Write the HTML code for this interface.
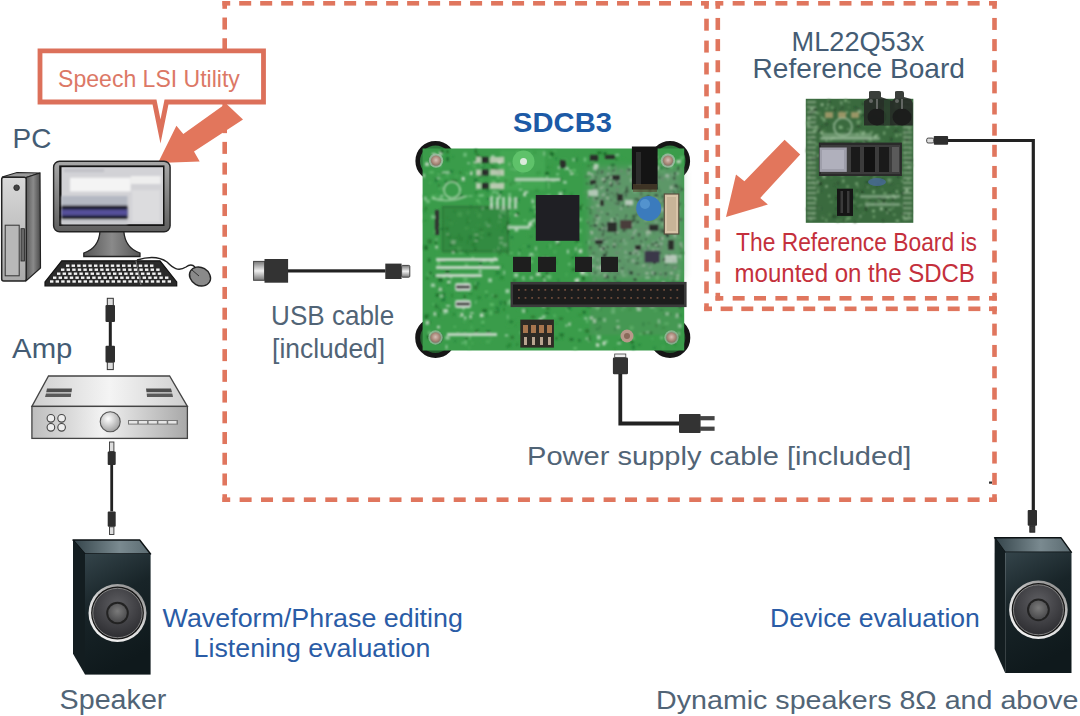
<!DOCTYPE html>
<html><head><meta charset="utf-8">
<style>
html,body{margin:0;padding:0;background:#fff;}
svg{display:block;}
text{font-family:"Liberation Sans",sans-serif;}
</style></head><body>
<svg width="1080" height="716" viewBox="0 0 1080 716">
<defs>
<linearGradient id="towerFront" x1="0" y1="0" x2="0" y2="1"><stop offset="0" stop-color="#d9d9d9"/><stop offset="1" stop-color="#a9a9a9"/></linearGradient>
<linearGradient id="towerSide" x1="0" y1="0" x2="1" y2="0"><stop offset="0" stop-color="#5a5a5a"/><stop offset="0.5" stop-color="#8a8a8a"/><stop offset="1" stop-color="#4a4a4a"/></linearGradient>
<linearGradient id="bezel" x1="0" y1="0" x2="0" y2="1"><stop offset="0" stop-color="#a8a8a8"/><stop offset="1" stop-color="#5e5e5e"/></linearGradient>
<linearGradient id="stand" x1="0" y1="0" x2="1" y2="0"><stop offset="0" stop-color="#555"/><stop offset="0.5" stop-color="#8a8a8a"/><stop offset="1" stop-color="#555"/></linearGradient>
<linearGradient id="ampTop" x1="0" y1="0" x2="1" y2="0"><stop offset="0" stop-color="#cfcfcf"/><stop offset="0.5" stop-color="#f4f4f4"/><stop offset="1" stop-color="#cfcfcf"/></linearGradient>
<linearGradient id="ampFront" x1="0" y1="0" x2="1" y2="0"><stop offset="0" stop-color="#bdbdbd"/><stop offset="0.45" stop-color="#f2f2f2"/><stop offset="1" stop-color="#a8a8a8"/></linearGradient>
<radialGradient id="knob" cx="0.4" cy="0.35" r="0.7"><stop offset="0" stop-color="#ffffff"/><stop offset="1" stop-color="#9a9a9a"/></radialGradient>
<linearGradient id="spkTop" x1="0" y1="0" x2="1" y2="0"><stop offset="0" stop-color="#34444a"/><stop offset="0.6" stop-color="#7a8a90"/><stop offset="1" stop-color="#5a6a70"/></linearGradient>
<linearGradient id="spkFront" x1="0" y1="0" x2="0.3" y2="1"><stop offset="0" stop-color="#34444a"/><stop offset="0.45" stop-color="#182428"/><stop offset="1" stop-color="#0f191c"/></linearGradient>
<linearGradient id="rim" x1="0.8" y1="0" x2="0.2" y2="1"><stop offset="0" stop-color="#8a8a8a"/><stop offset="0.5" stop-color="#d8d8d8"/><stop offset="1" stop-color="#f4f4f4"/></linearGradient>
<radialGradient id="cone" cx="0.5" cy="0.35" r="0.65"><stop offset="0" stop-color="#5e5e62"/><stop offset="1" stop-color="#2e2e32"/></radialGradient>
<radialGradient id="cap" cx="0.5" cy="0.4" r="0.6"><stop offset="0" stop-color="#7a7a7a"/><stop offset="1" stop-color="#4a4a4c"/></radialGradient>
<linearGradient id="plugMetal" x1="0" y1="0" x2="0" y2="1"><stop offset="0" stop-color="#777"/><stop offset="0.5" stop-color="#f0f0f0"/><stop offset="1" stop-color="#777"/></linearGradient>
<filter id="soft" x="-5%" y="-5%" width="110%" height="110%"><feGaussianBlur stdDeviation="1.0"/></filter>
<radialGradient id="screw" cx="0.5" cy="0.45" r="0.6"><stop offset="0" stop-color="#d8c0b8"/><stop offset="0.6" stop-color="#a88878"/><stop offset="1" stop-color="#7a6a60"/></radialGradient>
<filter id="big" x="-20%" y="-20%" width="140%" height="140%"><feGaussianBlur stdDeviation="4"/></filter>
<linearGradient id="pcbG" x1="0" y1="0" x2="1" y2="1"><stop offset="0" stop-color="#4f9a55"/><stop offset="1" stop-color="#3c8a44"/></linearGradient>
</defs>

<!-- dashed boxes -->
<g fill="#e0765e">
<rect x="239.19" y="1.00" width="12.0" height="4.6"/>
<rect x="260.18" y="1.00" width="12.0" height="4.6"/>
<rect x="281.17" y="1.00" width="12.0" height="4.6"/>
<rect x="302.17" y="1.00" width="12.0" height="4.6"/>
<rect x="323.16" y="1.00" width="12.0" height="4.6"/>
<rect x="344.15" y="1.00" width="12.0" height="4.6"/>
<rect x="365.14" y="1.00" width="12.0" height="4.6"/>
<rect x="386.13" y="1.00" width="12.0" height="4.6"/>
<rect x="407.12" y="1.00" width="12.0" height="4.6"/>
<rect x="428.11" y="1.00" width="12.0" height="4.6"/>
<rect x="449.10" y="1.00" width="12.0" height="4.6"/>
<rect x="470.10" y="1.00" width="12.0" height="4.6"/>
<rect x="491.09" y="1.00" width="12.0" height="4.6"/>
<rect x="512.08" y="1.00" width="12.0" height="4.6"/>
<rect x="533.07" y="1.00" width="12.0" height="4.6"/>
<rect x="554.06" y="1.00" width="12.0" height="4.6"/>
<rect x="575.05" y="1.00" width="12.0" height="4.6"/>
<rect x="596.04" y="1.00" width="12.0" height="4.6"/>
<rect x="617.03" y="1.00" width="12.0" height="4.6"/>
<rect x="638.03" y="1.00" width="12.0" height="4.6"/>
<rect x="659.02" y="1.00" width="12.0" height="4.6"/>
<rect x="680.01" y="1.00" width="12.0" height="4.6"/>
<rect x="222.40" y="1.00" width="7.80" height="4.6"/>
<rect x="701.00" y="1.00" width="7.80" height="4.6"/>
<rect x="704.20" y="18.69" width="4.6" height="12.0"/>
<rect x="704.20" y="40.59" width="4.6" height="12.0"/>
<rect x="704.20" y="62.48" width="4.6" height="12.0"/>
<rect x="704.20" y="84.37" width="4.6" height="12.0"/>
<rect x="704.20" y="106.26" width="4.6" height="12.0"/>
<rect x="704.20" y="128.16" width="4.6" height="12.0"/>
<rect x="704.20" y="150.05" width="4.6" height="12.0"/>
<rect x="704.20" y="171.94" width="4.6" height="12.0"/>
<rect x="704.20" y="193.84" width="4.6" height="12.0"/>
<rect x="704.20" y="215.73" width="4.6" height="12.0"/>
<rect x="704.20" y="237.62" width="4.6" height="12.0"/>
<rect x="704.20" y="259.51" width="4.6" height="12.0"/>
<rect x="704.20" y="281.41" width="4.6" height="12.0"/>
<rect x="704.20" y="1.00" width="4.6" height="7.80"/>
<rect x="704.20" y="303.30" width="4.6" height="7.80"/>
<rect x="720.64" y="306.50" width="12.0" height="4.6"/>
<rect x="741.29" y="306.50" width="12.0" height="4.6"/>
<rect x="761.93" y="306.50" width="12.0" height="4.6"/>
<rect x="782.57" y="306.50" width="12.0" height="4.6"/>
<rect x="803.21" y="306.50" width="12.0" height="4.6"/>
<rect x="823.86" y="306.50" width="12.0" height="4.6"/>
<rect x="844.50" y="306.50" width="12.0" height="4.6"/>
<rect x="865.14" y="306.50" width="12.0" height="4.6"/>
<rect x="885.79" y="306.50" width="12.0" height="4.6"/>
<rect x="906.43" y="306.50" width="12.0" height="4.6"/>
<rect x="927.07" y="306.50" width="12.0" height="4.6"/>
<rect x="947.71" y="306.50" width="12.0" height="4.6"/>
<rect x="968.36" y="306.50" width="12.0" height="4.6"/>
<rect x="704.20" y="306.50" width="7.80" height="4.6"/>
<rect x="989.00" y="306.50" width="7.80" height="4.6"/>
<rect x="992.20" y="323.62" width="4.6" height="12.0"/>
<rect x="992.20" y="344.94" width="4.6" height="12.0"/>
<rect x="992.20" y="366.27" width="4.6" height="12.0"/>
<rect x="992.20" y="387.59" width="4.6" height="12.0"/>
<rect x="992.20" y="408.91" width="4.6" height="12.0"/>
<rect x="992.20" y="430.23" width="4.6" height="12.0"/>
<rect x="992.20" y="451.56" width="4.6" height="12.0"/>
<rect x="992.20" y="472.88" width="4.6" height="12.0"/>
<rect x="992.20" y="306.50" width="4.6" height="7.80"/>
<rect x="992.20" y="494.20" width="4.6" height="7.80"/>
<rect x="239.61" y="497.40" width="12.0" height="4.6"/>
<rect x="261.02" y="497.40" width="12.0" height="4.6"/>
<rect x="282.43" y="497.40" width="12.0" height="4.6"/>
<rect x="303.84" y="497.40" width="12.0" height="4.6"/>
<rect x="325.26" y="497.40" width="12.0" height="4.6"/>
<rect x="346.67" y="497.40" width="12.0" height="4.6"/>
<rect x="368.08" y="497.40" width="12.0" height="4.6"/>
<rect x="389.49" y="497.40" width="12.0" height="4.6"/>
<rect x="410.90" y="497.40" width="12.0" height="4.6"/>
<rect x="432.31" y="497.40" width="12.0" height="4.6"/>
<rect x="453.72" y="497.40" width="12.0" height="4.6"/>
<rect x="475.13" y="497.40" width="12.0" height="4.6"/>
<rect x="496.54" y="497.40" width="12.0" height="4.6"/>
<rect x="517.96" y="497.40" width="12.0" height="4.6"/>
<rect x="539.37" y="497.40" width="12.0" height="4.6"/>
<rect x="560.78" y="497.40" width="12.0" height="4.6"/>
<rect x="582.19" y="497.40" width="12.0" height="4.6"/>
<rect x="603.60" y="497.40" width="12.0" height="4.6"/>
<rect x="625.01" y="497.40" width="12.0" height="4.6"/>
<rect x="646.42" y="497.40" width="12.0" height="4.6"/>
<rect x="667.83" y="497.40" width="12.0" height="4.6"/>
<rect x="689.24" y="497.40" width="12.0" height="4.6"/>
<rect x="710.66" y="497.40" width="12.0" height="4.6"/>
<rect x="732.07" y="497.40" width="12.0" height="4.6"/>
<rect x="753.48" y="497.40" width="12.0" height="4.6"/>
<rect x="774.89" y="497.40" width="12.0" height="4.6"/>
<rect x="796.30" y="497.40" width="12.0" height="4.6"/>
<rect x="817.71" y="497.40" width="12.0" height="4.6"/>
<rect x="839.12" y="497.40" width="12.0" height="4.6"/>
<rect x="860.53" y="497.40" width="12.0" height="4.6"/>
<rect x="881.94" y="497.40" width="12.0" height="4.6"/>
<rect x="903.36" y="497.40" width="12.0" height="4.6"/>
<rect x="924.77" y="497.40" width="12.0" height="4.6"/>
<rect x="946.18" y="497.40" width="12.0" height="4.6"/>
<rect x="967.59" y="497.40" width="12.0" height="4.6"/>
<rect x="222.40" y="497.40" width="7.80" height="4.6"/>
<rect x="989.00" y="497.40" width="7.80" height="4.6"/>
<rect x="222.40" y="17.52" width="4.6" height="12.0"/>
<rect x="222.40" y="38.25" width="4.6" height="12.0"/>
<rect x="222.40" y="58.98" width="4.6" height="12.0"/>
<rect x="222.40" y="79.70" width="4.6" height="12.0"/>
<rect x="222.40" y="100.43" width="4.6" height="12.0"/>
<rect x="222.40" y="121.15" width="4.6" height="12.0"/>
<rect x="222.40" y="141.88" width="4.6" height="12.0"/>
<rect x="222.40" y="162.60" width="4.6" height="12.0"/>
<rect x="222.40" y="183.32" width="4.6" height="12.0"/>
<rect x="222.40" y="204.05" width="4.6" height="12.0"/>
<rect x="222.40" y="224.77" width="4.6" height="12.0"/>
<rect x="222.40" y="245.50" width="4.6" height="12.0"/>
<rect x="222.40" y="266.22" width="4.6" height="12.0"/>
<rect x="222.40" y="286.95" width="4.6" height="12.0"/>
<rect x="222.40" y="307.68" width="4.6" height="12.0"/>
<rect x="222.40" y="328.40" width="4.6" height="12.0"/>
<rect x="222.40" y="349.13" width="4.6" height="12.0"/>
<rect x="222.40" y="369.85" width="4.6" height="12.0"/>
<rect x="222.40" y="390.58" width="4.6" height="12.0"/>
<rect x="222.40" y="411.30" width="4.6" height="12.0"/>
<rect x="222.40" y="432.03" width="4.6" height="12.0"/>
<rect x="222.40" y="452.75" width="4.6" height="12.0"/>
<rect x="222.40" y="473.48" width="4.6" height="12.0"/>
<rect x="222.40" y="1.00" width="4.6" height="7.80"/>
<rect x="222.40" y="494.20" width="4.6" height="7.80"/>
<rect x="732.66" y="1.00" width="12.0" height="4.6"/>
<rect x="754.02" y="1.00" width="12.0" height="4.6"/>
<rect x="775.38" y="1.00" width="12.0" height="4.6"/>
<rect x="796.75" y="1.00" width="12.0" height="4.6"/>
<rect x="818.11" y="1.00" width="12.0" height="4.6"/>
<rect x="839.47" y="1.00" width="12.0" height="4.6"/>
<rect x="860.83" y="1.00" width="12.0" height="4.6"/>
<rect x="882.19" y="1.00" width="12.0" height="4.6"/>
<rect x="903.55" y="1.00" width="12.0" height="4.6"/>
<rect x="924.92" y="1.00" width="12.0" height="4.6"/>
<rect x="946.28" y="1.00" width="12.0" height="4.6"/>
<rect x="967.64" y="1.00" width="12.0" height="4.6"/>
<rect x="715.50" y="1.00" width="7.80" height="4.6"/>
<rect x="989.00" y="1.00" width="7.80" height="4.6"/>
<rect x="992.20" y="17.94" width="4.6" height="12.0"/>
<rect x="992.20" y="39.09" width="4.6" height="12.0"/>
<rect x="992.20" y="60.23" width="4.6" height="12.0"/>
<rect x="992.20" y="81.37" width="4.6" height="12.0"/>
<rect x="992.20" y="102.51" width="4.6" height="12.0"/>
<rect x="992.20" y="123.66" width="4.6" height="12.0"/>
<rect x="992.20" y="144.80" width="4.6" height="12.0"/>
<rect x="992.20" y="165.94" width="4.6" height="12.0"/>
<rect x="992.20" y="187.09" width="4.6" height="12.0"/>
<rect x="992.20" y="208.23" width="4.6" height="12.0"/>
<rect x="992.20" y="229.37" width="4.6" height="12.0"/>
<rect x="992.20" y="250.51" width="4.6" height="12.0"/>
<rect x="992.20" y="271.66" width="4.6" height="12.0"/>
<rect x="992.20" y="1.00" width="4.6" height="7.80"/>
<rect x="992.20" y="292.80" width="4.6" height="7.80"/>
<rect x="732.66" y="296.00" width="12.0" height="4.6"/>
<rect x="754.02" y="296.00" width="12.0" height="4.6"/>
<rect x="775.38" y="296.00" width="12.0" height="4.6"/>
<rect x="796.75" y="296.00" width="12.0" height="4.6"/>
<rect x="818.11" y="296.00" width="12.0" height="4.6"/>
<rect x="839.47" y="296.00" width="12.0" height="4.6"/>
<rect x="860.83" y="296.00" width="12.0" height="4.6"/>
<rect x="882.19" y="296.00" width="12.0" height="4.6"/>
<rect x="903.55" y="296.00" width="12.0" height="4.6"/>
<rect x="924.92" y="296.00" width="12.0" height="4.6"/>
<rect x="946.28" y="296.00" width="12.0" height="4.6"/>
<rect x="967.64" y="296.00" width="12.0" height="4.6"/>
<rect x="715.50" y="296.00" width="7.80" height="4.6"/>
<rect x="989.00" y="296.00" width="7.80" height="4.6"/>
<rect x="715.50" y="17.94" width="4.6" height="12.0"/>
<rect x="715.50" y="39.09" width="4.6" height="12.0"/>
<rect x="715.50" y="60.23" width="4.6" height="12.0"/>
<rect x="715.50" y="81.37" width="4.6" height="12.0"/>
<rect x="715.50" y="102.51" width="4.6" height="12.0"/>
<rect x="715.50" y="123.66" width="4.6" height="12.0"/>
<rect x="715.50" y="144.80" width="4.6" height="12.0"/>
<rect x="715.50" y="165.94" width="4.6" height="12.0"/>
<rect x="715.50" y="187.09" width="4.6" height="12.0"/>
<rect x="715.50" y="208.23" width="4.6" height="12.0"/>
<rect x="715.50" y="229.37" width="4.6" height="12.0"/>
<rect x="715.50" y="250.51" width="4.6" height="12.0"/>
<rect x="715.50" y="271.66" width="4.6" height="12.0"/>
<rect x="715.50" y="1.00" width="4.6" height="7.80"/>
<rect x="715.50" y="292.80" width="4.6" height="7.80"/>
</g>

<rect x="989" y="481.5" width="3" height="2.2" fill="#333"/>
<!-- callout -->
<path d="M40,50.9 H263.5 V102 H166.5 L160.5,131.5 L154.5,102 H40 Z" fill="#fff" stroke="#dc705a" stroke-width="4.8" stroke-linejoin="miter" stroke-miterlimit="10"/>
<!-- arrow left -->
<polygon points="158,163 176.4,125.8 183.3,134 226,103.5 243,119.5 194,151.6 199.7,161.6" fill="#e2765c"/>

<!-- labels -->

<!-- PC tower -->
<g>
<path d="M2,177 L17,172.5 L40,173 L26,177.5 Z" fill="#9a9a9a" stroke="#222" stroke-width="1.2"/>
<path d="M26,177.5 L40,173 L40.5,268 L26,281 Z" fill="url(#towerSide)" stroke="#222" stroke-width="1.2"/>
<rect x="1.7" y="177.2" width="24.5" height="103.8" rx="2" fill="url(#towerFront)" stroke="#222" stroke-width="1.5"/>
<circle cx="16.6" cy="187.7" r="2.8" fill="#444" stroke="#222" stroke-width="0.8"/>
<rect x="5.2" y="225.2" width="14" height="50.6" fill="#b8b8b8" stroke="#333" stroke-width="1"/>
<rect x="21" y="228.7" width="3.4" height="32.3" fill="#666" stroke="#222" stroke-width="0.8"/>
</g>

<!-- monitor -->
<g>
<path d="M100,231 L123.8,231 Q125,248 140,253 L140,256.5 L83.8,256.5 L83.8,253 Q99,248 100,231 Z" fill="url(#stand)" stroke="#222" stroke-width="1.3"/>
<rect x="53.6" y="161.3" width="116.5" height="70.5" rx="6" fill="url(#bezel)" stroke="#222" stroke-width="1.4"/>
<rect x="59.2" y="165.4" width="105.3" height="60.6" fill="#141414"/>
<rect x="61.5" y="167.2" width="101.5" height="57" fill="#d2d2d6"/>
<g filter="url(#soft)">
<rect x="64" y="169" width="40" height="3" fill="#bfc0c6"/>
<rect x="70" y="177.7" width="60.7" height="13.8" fill="#f4f4f4"/>
<rect x="130.7" y="176" width="30" height="8" fill="#eeeeee"/>
<rect x="132" y="190" width="28" height="32" fill="#dcdcde"/>
<rect x="61.5" y="196" width="66" height="10" fill="#b4b8c2"/>
<rect x="61.5" y="205.5" width="66" height="14" fill="#1e1e2c"/>
<rect x="61.5" y="209.5" width="66" height="6" fill="#54509a"/>
<rect x="61.5" y="219.5" width="66" height="4.7" fill="#c8c9ce"/>
</g>
</g>

<!-- keyboard -->
<g>
<path d="M61.7,260.8 L160,260.8 L176.7,282 L176.7,285.8 L45,285.8 L45,282 Z" fill="#2a2a2a" stroke="#111" stroke-width="1.2"/>
<g fill="#f2f2f2">
<rect x="66.0" y="264.5" width="3.4" height="2.4"/>
<rect x="71.6" y="264.5" width="3.4" height="2.4"/>
<rect x="77.2" y="264.5" width="3.4" height="2.4"/>
<rect x="82.8" y="264.5" width="3.4" height="2.4"/>
<rect x="88.4" y="264.5" width="3.4" height="2.4"/>
<rect x="94.0" y="264.5" width="3.4" height="2.4"/>
<rect x="99.6" y="264.5" width="3.4" height="2.4"/>
<rect x="105.2" y="264.5" width="3.4" height="2.4"/>
<rect x="110.8" y="264.5" width="3.4" height="2.4"/>
<rect x="116.4" y="264.5" width="3.4" height="2.4"/>
<rect x="122.0" y="264.5" width="3.4" height="2.4"/>
<rect x="127.6" y="264.5" width="3.4" height="2.4"/>
<rect x="133.2" y="264.5" width="3.4" height="2.4"/>
<rect x="138.8" y="264.5" width="3.4" height="2.4"/>
<rect x="144.4" y="264.5" width="3.4" height="2.4"/>
<rect x="150.0" y="264.5" width="3.4" height="2.4"/>
<rect x="61.0" y="268.5" width="3.4" height="2.4"/>
<rect x="66.6" y="268.5" width="3.4" height="2.4"/>
<rect x="72.2" y="268.5" width="3.4" height="2.4"/>
<rect x="77.8" y="268.5" width="3.4" height="2.4"/>
<rect x="83.4" y="268.5" width="3.4" height="2.4"/>
<rect x="89.0" y="268.5" width="3.4" height="2.4"/>
<rect x="94.6" y="268.5" width="3.4" height="2.4"/>
<rect x="100.2" y="268.5" width="3.4" height="2.4"/>
<rect x="105.8" y="268.5" width="3.4" height="2.4"/>
<rect x="111.4" y="268.5" width="3.4" height="2.4"/>
<rect x="117.0" y="268.5" width="3.4" height="2.4"/>
<rect x="122.6" y="268.5" width="3.4" height="2.4"/>
<rect x="128.2" y="268.5" width="3.4" height="2.4"/>
<rect x="133.8" y="268.5" width="3.4" height="2.4"/>
<rect x="139.4" y="268.5" width="3.4" height="2.4"/>
<rect x="145.0" y="268.5" width="3.4" height="2.4"/>
<rect x="150.6" y="268.5" width="3.4" height="2.4"/>
<rect x="156.2" y="268.5" width="3.4" height="2.4"/>
<rect x="57.0" y="272.5" width="3.4" height="2.4"/>
<rect x="62.6" y="272.5" width="3.4" height="2.4"/>
<rect x="68.2" y="272.5" width="3.4" height="2.4"/>
<rect x="73.8" y="272.5" width="3.4" height="2.4"/>
<rect x="79.4" y="272.5" width="3.4" height="2.4"/>
<rect x="85.0" y="272.5" width="3.4" height="2.4"/>
<rect x="90.6" y="272.5" width="3.4" height="2.4"/>
<rect x="96.2" y="272.5" width="3.4" height="2.4"/>
<rect x="101.8" y="272.5" width="3.4" height="2.4"/>
<rect x="107.4" y="272.5" width="3.4" height="2.4"/>
<rect x="113.0" y="272.5" width="3.4" height="2.4"/>
<rect x="118.6" y="272.5" width="3.4" height="2.4"/>
<rect x="124.2" y="272.5" width="3.4" height="2.4"/>
<rect x="129.8" y="272.5" width="3.4" height="2.4"/>
<rect x="135.4" y="272.5" width="3.4" height="2.4"/>
<rect x="141.0" y="272.5" width="3.4" height="2.4"/>
<rect x="146.6" y="272.5" width="3.4" height="2.4"/>
<rect x="152.2" y="272.5" width="3.4" height="2.4"/>
<rect x="157.8" y="272.5" width="3.4" height="2.4"/>
<rect x="53.0" y="276.5" width="3.4" height="2.4"/>
<rect x="58.6" y="276.5" width="3.4" height="2.4"/>
<rect x="64.2" y="276.5" width="3.4" height="2.4"/>
<rect x="69.8" y="276.5" width="3.4" height="2.4"/>
<rect x="75.4" y="276.5" width="3.4" height="2.4"/>
<rect x="81.0" y="276.5" width="3.4" height="2.4"/>
<rect x="86.6" y="276.5" width="3.4" height="2.4"/>
<rect x="92.2" y="276.5" width="3.4" height="2.4"/>
<rect x="97.8" y="276.5" width="3.4" height="2.4"/>
<rect x="103.4" y="276.5" width="3.4" height="2.4"/>
<rect x="109.0" y="276.5" width="3.4" height="2.4"/>
<rect x="114.6" y="276.5" width="3.4" height="2.4"/>
<rect x="120.2" y="276.5" width="3.4" height="2.4"/>
<rect x="125.8" y="276.5" width="3.4" height="2.4"/>
<rect x="131.4" y="276.5" width="3.4" height="2.4"/>
<rect x="137.0" y="276.5" width="3.4" height="2.4"/>
<rect x="142.6" y="276.5" width="3.4" height="2.4"/>
<rect x="148.2" y="276.5" width="3.4" height="2.4"/>
<rect x="153.8" y="276.5" width="3.4" height="2.4"/>
<rect x="159.4" y="276.5" width="3.4" height="2.4"/>
<rect x="165.0" y="276.5" width="3.4" height="2.4"/>
<rect x="50.0" y="280.3" width="3.4" height="2.4"/>
<rect x="55.6" y="280.3" width="3.4" height="2.4"/>
<rect x="61.2" y="280.3" width="3.4" height="2.4"/>
<rect x="66.8" y="280.3" width="3.4" height="2.4"/>
<rect x="72.4" y="280.3" width="3.4" height="2.4"/>
<rect x="78.0" y="280.3" width="3.4" height="2.4"/>
<rect x="83.6" y="280.3" width="3.4" height="2.4"/>
<rect x="89.2" y="280.3" width="3.4" height="2.4"/>
<rect x="94.8" y="280.3" width="3.4" height="2.4"/>
<rect x="100.4" y="280.3" width="3.4" height="2.4"/>
<rect x="106.0" y="280.3" width="3.4" height="2.4"/>
<rect x="111.6" y="280.3" width="3.4" height="2.4"/>
<rect x="117.2" y="280.3" width="3.4" height="2.4"/>
<rect x="122.8" y="280.3" width="3.4" height="2.4"/>
<rect x="128.4" y="280.3" width="3.4" height="2.4"/>
<rect x="134.0" y="280.3" width="3.4" height="2.4"/>
<rect x="139.6" y="280.3" width="3.4" height="2.4"/>
<rect x="145.2" y="280.3" width="3.4" height="2.4"/>
<rect x="150.8" y="280.3" width="3.4" height="2.4"/>
<rect x="156.4" y="280.3" width="3.4" height="2.4"/>
<rect x="162.0" y="280.3" width="3.4" height="2.4"/>
<rect x="167.6" y="280.3" width="3.4" height="2.4"/>
</g>
<line x1="136" y1="261" x2="141" y2="285" stroke="#777" stroke-width="1"/>
<path d="M137,260 C150,256 160,257 167,262 C173,268 178,272 186,267 C190,264 193,265 195,267" fill="none" stroke="#222" stroke-width="1.4"/>
<ellipse cx="200" cy="276.5" rx="11" ry="9" transform="rotate(30 200 276.5)" fill="#8a8a8a" stroke="#222" stroke-width="1.4"/>
<path d="M192,270 L199,276" stroke="#333" stroke-width="1"/>
</g>

<!-- audio cable PC->Amp -->
<g>
<rect x="107.3" y="298.3" width="6" height="7.5" fill="#ddd" stroke="#333" stroke-width="1"/>
<rect x="105.5" y="305" width="9.5" height="17" rx="1" fill="#2e2e2e"/>
<rect x="108.8" y="322" width="3" height="24" fill="#222"/>
<rect x="105.5" y="345.8" width="9.5" height="16.6" rx="1" fill="#2e2e2e"/>
<rect x="107.3" y="362.2" width="6" height="7.4" fill="#ddd" stroke="#333" stroke-width="1"/>
</g>

<!-- amp -->
<g>
<path d="M48.5,376 L169.6,376 L187.4,406.4 L31.9,406.4 Z" fill="url(#ampTop)" stroke="#444" stroke-width="1.3"/>
<rect x="31.9" y="406.4" width="155.5" height="32" fill="url(#ampFront)" stroke="#444" stroke-width="1.3"/>
<path d="M47,388.6 L72,388.6 L71.5,392.2 L46.2,392.2 Z" fill="#4e4e4e"/>
<path d="M46,393.4 L71.2,393.4 L70.8,397 L45,397 Z" fill="#5a5a5a"/>
<path d="M146,388.6 L171,388.6 L172,392.2 L146.5,392.2 Z" fill="#4e4e4e"/>
<path d="M146.7,393.4 L172.3,393.4 L173,397 L147,397 Z" fill="#5a5a5a"/>
<g fill="#eee" stroke="#444" stroke-width="1.1">
<circle cx="50.9" cy="418.3" r="3.8"/><circle cx="61.6" cy="418.3" r="3.8"/>
<circle cx="50.9" cy="427.3" r="3.8"/><circle cx="61.6" cy="427.3" r="3.8"/>
</g>
<circle cx="110.2" cy="421.8" r="10" fill="url(#knob)" stroke="#555" stroke-width="1.1"/>
<rect x="128" y="420" width="50" height="4.6" fill="#777"/><rect x="129.0" y="421" width="8.3" height="2.6" fill="#e6e6e6"/><rect x="138.8" y="421" width="8.3" height="2.6" fill="#e6e6e6"/><rect x="148.6" y="421" width="8.3" height="2.6" fill="#e6e6e6"/><rect x="158.4" y="421" width="8.3" height="2.6" fill="#e6e6e6"/><rect x="168.2" y="421" width="8.3" height="2.6" fill="#e6e6e6"/>
</g>

<!-- cable amp->speaker -->
<g>
<rect x="109.5" y="442" width="4.4" height="9.6" fill="#ddd" stroke="#333" stroke-width="0.9"/>
<rect x="107.7" y="451.6" width="8" height="13.4" rx="1" fill="#2e2e2e"/>
<rect x="110.3" y="465" width="2.8" height="46.4" fill="#222"/>
<rect x="107.7" y="511.4" width="8" height="15.4" rx="1" fill="#2e2e2e"/>
<rect x="109.5" y="526.8" width="4.4" height="7.7" fill="#ddd" stroke="#333" stroke-width="0.9"/>
</g>

<!-- speaker left -->
<g>
<path d="M73,540 L139.7,540 L150.6,554 L85,554 Z" fill="url(#spkTop)" stroke="#0c1214" stroke-width="1.4" stroke-linejoin="round"/>
<path d="M73,540 L85,554 L85,674.6 L73,653.7 Z" fill="#131d20"/>
<rect x="85" y="554" width="65.6" height="120.6" fill="url(#spkFront)"/>
<circle cx="117.5" cy="613" r="29" fill="url(#rim)"/>
<circle cx="117.5" cy="613" r="26.4" fill="#161616"/>
<circle cx="117.5" cy="613" r="24.7" fill="url(#cone)" stroke="#8a8a8a" stroke-width="0.9"/>
<circle cx="117.5" cy="613" r="11.3" fill="#222"/>
<circle cx="117.5" cy="613" r="9.3" fill="url(#cap)"/>
</g>

<!-- speaker right -->
<g>
<path d="M994.6,537.7 L1060.9,537.7 L1071.5,552.3 L1005.2,552.3 Z" fill="url(#spkTop)" stroke="#0c1214" stroke-width="1.4" stroke-linejoin="round"/>
<path d="M994.6,537.7 L1005.2,552.3 L1005.2,673 L994.6,649 Z" fill="#131d20"/>
<rect x="1005.2" y="552.3" width="66.3" height="120.7" fill="url(#spkFront)"/>
<circle cx="1038.4" cy="609.8" r="29.3" fill="url(#rim)"/>
<circle cx="1038.4" cy="609.8" r="26.7" fill="#161616"/>
<circle cx="1038.4" cy="609.8" r="25.0" fill="url(#cone)" stroke="#8a8a8a" stroke-width="0.9"/>
<circle cx="1038.4" cy="609.8" r="11.4" fill="#222"/>
<circle cx="1038.4" cy="609.8" r="9.4" fill="url(#cap)"/>
</g>

<!-- right cable -->
<g>
<path d="M948,140.5 H1033.3 V510" fill="none" stroke="#222" stroke-width="3.2"/>
<rect x="933.7" y="135.9" width="14.4" height="8.9" rx="1" fill="#2e2e2e"/>
<rect x="926.7" y="138.1" width="7" height="4.9" rx="1.5" fill="#ddd" stroke="#333" stroke-width="0.9"/>
<rect x="1027.7" y="510" width="9.3" height="15.8" rx="1" fill="#2e2e2e"/>
<rect x="1029.8" y="525.8" width="5" height="6.4" fill="#3a3a3a" stroke="#222" stroke-width="0.9"/>
</g>

<!-- USB cable -->
<g>
<rect x="253.6" y="261.4" width="11" height="18.9" fill="url(#plugMetal)" stroke="#444" stroke-width="1"/>
<rect x="264.5" y="259" width="23.6" height="23.7" fill="#333"/>
<rect x="288" y="269.3" width="97.5" height="3.2" fill="#222"/>
<rect x="385.3" y="263.6" width="16.3" height="15.4" fill="#333"/>
<rect x="401.6" y="265.4" width="8.2" height="11.8" rx="1" fill="url(#plugMetal)" stroke="#444" stroke-width="1"/>
</g>

<!-- SDCB3 label -->

<!-- SDCB3 board -->
<g>
<circle cx="435.5" cy="161" r="17.8" fill="#2e7a3c" stroke="#161616" stroke-width="4.6"/>
<circle cx="670" cy="161" r="17.8" fill="#2e7a3c" stroke="#161616" stroke-width="4.6"/>
<circle cx="435.5" cy="337.7" r="17.8" fill="#245e2e" stroke="#161616" stroke-width="5"/>
<circle cx="670" cy="337.7" r="17.8" fill="#245e2e" stroke="#161616" stroke-width="5"/>
<rect x="422.6" y="148.5" width="261.6" height="202" fill="#3a9c4a"/>
<g filter="url(#soft)">
<rect x="591.4" y="163.4" width="2.3" height="1.7" fill="#2a7a34"/>
<rect x="659.1" y="191.5" width="1.5" height="3.1" fill="#2a8c3a"/>
<rect x="446.4" y="233.7" width="2.6" height="1.4" fill="#c0d8c0"/>
<rect x="585.8" y="337.7" width="1.6" height="1.9" fill="#c0d8c0"/>
<rect x="480.0" y="260.1" width="3.1" height="1.4" fill="#24803a"/>
<rect x="453.5" y="210.5" width="2.2" height="1.7" fill="#24803a"/>
<rect x="471.7" y="168.3" width="1.5" height="3.1" fill="#2a8c3a"/>
<rect x="551.0" y="254.2" width="3.1" height="3.2" fill="#3a9c4a"/>
<rect x="516.4" y="197.9" width="2.7" height="4.2" fill="#24803a"/>
<rect x="570.9" y="253.5" width="3.5" height="2.0" fill="#3a9c4a"/>
<rect x="675.3" y="172.5" width="3.6" height="2.2" fill="#9ccca4"/>
<rect x="665.0" y="232.8" width="1.7" height="2.3" fill="#2a8c3a"/>
<rect x="648.2" y="211.1" width="3.7" height="3.1" fill="#3a9c4a"/>
<rect x="540.6" y="315.2" width="3.2" height="3.1" fill="#48a856"/>
<rect x="438.7" y="287.6" width="2.8" height="3.4" fill="#c0d8c0"/>
<rect x="496.0" y="225.0" width="4.5" height="3.9" fill="#3a9c4a"/>
<rect x="466.6" y="172.2" width="1.3" height="2.7" fill="#5cb868"/>
<rect x="614.3" y="228.1" width="1.9" height="2.1" fill="#1e6e2c"/>
<rect x="565.6" y="324.2" width="1.5" height="2.7" fill="#9ccca4"/>
<rect x="529.7" y="220.4" width="4.1" height="2.1" fill="#9ccca4"/>
<rect x="468.2" y="195.2" width="4.4" height="1.7" fill="#6cbc78"/>
<rect x="470.4" y="204.6" width="1.2" height="3.9" fill="#24803a"/>
<rect x="569.4" y="338.3" width="2.6" height="2.4" fill="#2a7a34"/>
<rect x="612.9" y="239.3" width="4.3" height="3.4" fill="#2a7a34"/>
<rect x="449.8" y="274.9" width="2.5" height="2.5" fill="#5cb868"/>
<rect x="537.2" y="170.6" width="1.8" height="4.4" fill="#c0d8c0"/>
<rect x="462.3" y="169.3" width="1.4" height="1.2" fill="#3a9c4a"/>
<rect x="476.6" y="224.1" width="3.2" height="1.4" fill="#48a856"/>
<rect x="544.7" y="171.8" width="4.4" height="3.2" fill="#1e6e2c"/>
<rect x="547.1" y="166.0" width="4.5" height="2.7" fill="#2a8c3a"/>
<rect x="546.2" y="285.6" width="3.7" height="3.6" fill="#2a7a34"/>
<rect x="560.2" y="177.8" width="1.3" height="4.3" fill="#2a7a34"/>
<rect x="499.5" y="275.8" width="4.2" height="3.7" fill="#2a8c3a"/>
<rect x="517.4" y="182.2" width="3.5" height="2.1" fill="#6cbc78"/>
<rect x="508.1" y="193.0" width="3.0" height="3.8" fill="#6cbc78"/>
<rect x="613.3" y="193.7" width="3.9" height="3.9" fill="#2a7a34"/>
<rect x="678.5" y="305.0" width="2.8" height="3.6" fill="#1e6e2c"/>
<rect x="670.7" y="237.3" width="2.1" height="3.5" fill="#3a9c4a"/>
<rect x="479.6" y="194.1" width="4.4" height="2.4" fill="#6cbc78"/>
<rect x="677.9" y="270.0" width="2.3" height="2.8" fill="#5cb868"/>
<rect x="629.5" y="165.8" width="2.8" height="3.4" fill="#2a8c3a"/>
<rect x="615.6" y="243.3" width="4.2" height="3.8" fill="#24803a"/>
<rect x="445.4" y="336.1" width="2.6" height="3.3" fill="#9ccca4"/>
<rect x="444.9" y="180.3" width="2.7" height="3.7" fill="#24803a"/>
<rect x="543.9" y="278.8" width="1.3" height="3.1" fill="#c0d8c0"/>
<rect x="592.0" y="217.9" width="3.9" height="4.4" fill="#2a7a34"/>
<rect x="629.2" y="294.1" width="3.0" height="1.3" fill="#2a8c3a"/>
<rect x="534.9" y="320.5" width="2.9" height="4.3" fill="#6cbc78"/>
<rect x="553.2" y="301.0" width="1.3" height="1.9" fill="#3a9c4a"/>
<rect x="456.9" y="329.6" width="2.1" height="2.6" fill="#3a9c4a"/>
<rect x="632.3" y="251.1" width="4.2" height="3.4" fill="#2a7a34"/>
<rect x="555.4" y="322.9" width="1.6" height="1.7" fill="#24803a"/>
<rect x="461.6" y="176.9" width="3.2" height="3.8" fill="#c0d8c0"/>
<rect x="506.9" y="251.6" width="3.6" height="3.0" fill="#2a7a34"/>
<rect x="651.1" y="160.2" width="2.8" height="3.8" fill="#6cbc78"/>
<rect x="554.4" y="259.8" width="2.1" height="3.7" fill="#2a8c3a"/>
<rect x="553.6" y="250.3" width="2.7" height="3.2" fill="#48a856"/>
<rect x="546.5" y="335.5" width="2.7" height="3.0" fill="#2a7a34"/>
<rect x="489.7" y="259.1" width="4.1" height="4.3" fill="#6cbc78"/>
<rect x="454.3" y="237.1" width="4.0" height="1.7" fill="#2a8c3a"/>
<rect x="477.8" y="209.1" width="3.4" height="2.6" fill="#2a8c3a"/>
<rect x="606.9" y="280.6" width="4.2" height="1.7" fill="#24803a"/>
<rect x="544.1" y="297.8" width="2.0" height="1.7" fill="#2a8c3a"/>
<rect x="678.9" y="314.0" width="2.5" height="2.8" fill="#24803a"/>
<rect x="527.0" y="231.8" width="3.5" height="4.5" fill="#3a9c4a"/>
<rect x="428.0" y="258.4" width="2.3" height="3.6" fill="#1e6e2c"/>
<rect x="556.2" y="207.7" width="3.5" height="2.5" fill="#2a8c3a"/>
<rect x="482.3" y="321.4" width="1.6" height="4.2" fill="#2a8c3a"/>
<rect x="624.7" y="203.0" width="2.1" height="1.3" fill="#24803a"/>
<rect x="596.8" y="335.4" width="3.9" height="4.0" fill="#9ccca4"/>
<rect x="571.0" y="286.8" width="1.7" height="4.2" fill="#2a8c3a"/>
<rect x="470.5" y="325.5" width="2.1" height="3.8" fill="#48a856"/>
<rect x="628.8" y="165.6" width="4.3" height="3.3" fill="#6cbc78"/>
<rect x="540.8" y="215.8" width="1.4" height="4.0" fill="#2a7a34"/>
<rect x="583.7" y="157.5" width="2.6" height="4.2" fill="#6cbc78"/>
<rect x="490.2" y="184.6" width="4.3" height="4.4" fill="#48a856"/>
<rect x="476.1" y="237.3" width="3.3" height="3.0" fill="#24803a"/>
<rect x="680.5" y="156.3" width="2.1" height="3.9" fill="#5cb868"/>
<rect x="471.8" y="243.0" width="3.6" height="3.0" fill="#1e6e2c"/>
<rect x="535.1" y="246.6" width="1.6" height="3.9" fill="#9ccca4"/>
<rect x="478.2" y="194.6" width="4.4" height="2.2" fill="#6cbc78"/>
<rect x="586.5" y="228.9" width="3.9" height="3.5" fill="#3a9c4a"/>
<rect x="426.7" y="272.2" width="4.4" height="4.0" fill="#48a856"/>
<rect x="594.9" y="225.0" width="2.6" height="1.4" fill="#2a7a34"/>
<rect x="485.4" y="207.3" width="3.4" height="2.1" fill="#1e6e2c"/>
<rect x="423.9" y="221.4" width="1.8" height="2.1" fill="#3a9c4a"/>
<rect x="485.7" y="340.2" width="4.4" height="3.0" fill="#48a856"/>
<rect x="509.9" y="165.7" width="1.9" height="1.8" fill="#48a856"/>
<rect x="553.3" y="150.0" width="2.9" height="1.9" fill="#48a856"/>
<rect x="573.9" y="227.5" width="3.9" height="1.7" fill="#48a856"/>
<rect x="574.5" y="254.3" width="2.2" height="2.0" fill="#24803a"/>
<rect x="649.5" y="225.9" width="3.4" height="3.6" fill="#3a9c4a"/>
<rect x="496.2" y="271.6" width="3.6" height="2.8" fill="#24803a"/>
<rect x="654.6" y="272.6" width="1.3" height="4.0" fill="#2a7a34"/>
<rect x="553.8" y="314.4" width="1.7" height="2.9" fill="#5cb868"/>
<rect x="652.5" y="284.1" width="3.9" height="3.1" fill="#6cbc78"/>
<rect x="588.3" y="340.6" width="1.5" height="1.3" fill="#9ccca4"/>
<rect x="584.4" y="273.0" width="4.0" height="3.0" fill="#6cbc78"/>
<rect x="629.0" y="298.5" width="2.8" height="1.2" fill="#2a7a34"/>
<rect x="558.1" y="297.8" width="4.2" height="1.5" fill="#1e6e2c"/>
<rect x="491.8" y="294.5" width="2.0" height="1.4" fill="#6cbc78"/>
<rect x="542.2" y="316.1" width="2.0" height="3.3" fill="#2a8c3a"/>
<rect x="621.0" y="270.9" width="2.8" height="3.5" fill="#6cbc78"/>
<rect x="488.9" y="297.1" width="1.5" height="1.7" fill="#48a856"/>
<rect x="547.3" y="245.8" width="3.2" height="1.6" fill="#2a8c3a"/>
<rect x="497.9" y="251.1" width="3.5" height="3.4" fill="#1e6e2c"/>
<rect x="679.5" y="257.3" width="2.7" height="3.7" fill="#48a856"/>
<rect x="427.5" y="239.3" width="4.4" height="4.3" fill="#2a7a34"/>
<rect x="491.9" y="190.6" width="4.4" height="2.7" fill="#6cbc78"/>
<rect x="617.0" y="201.2" width="1.4" height="1.5" fill="#3a9c4a"/>
<rect x="554.9" y="323.8" width="1.6" height="3.9" fill="#3a9c4a"/>
<rect x="548.9" y="153.9" width="2.0" height="4.2" fill="#5cb868"/>
<rect x="527.1" y="292.7" width="4.3" height="3.4" fill="#9ccca4"/>
<rect x="640.3" y="149.3" width="2.3" height="2.2" fill="#3a9c4a"/>
<rect x="661.1" y="291.2" width="4.0" height="1.6" fill="#48a856"/>
<rect x="524.0" y="322.6" width="2.0" height="1.4" fill="#2a8c3a"/>
<rect x="494.2" y="158.6" width="2.4" height="2.6" fill="#2a8c3a"/>
<rect x="587.9" y="178.4" width="1.4" height="3.4" fill="#48a856"/>
<rect x="622.8" y="305.1" width="2.6" height="2.2" fill="#9ccca4"/>
<rect x="585.1" y="329.1" width="4.1" height="3.9" fill="#2a7a34"/>
<rect x="435.8" y="293.6" width="3.0" height="3.6" fill="#1e6e2c"/>
<rect x="647.1" y="245.8" width="3.2" height="1.7" fill="#2a7a34"/>
<rect x="512.1" y="208.0" width="1.6" height="2.8" fill="#48a856"/>
<rect x="547.9" y="282.1" width="2.5" height="2.0" fill="#2a8c3a"/>
<rect x="476.9" y="329.5" width="1.8" height="1.7" fill="#1e6e2c"/>
<rect x="508.9" y="299.6" width="3.0" height="2.7" fill="#9ccca4"/>
<rect x="446.5" y="217.1" width="1.7" height="1.8" fill="#2a8c3a"/>
<rect x="632.4" y="189.1" width="2.3" height="2.4" fill="#5cb868"/>
<rect x="529.5" y="253.0" width="3.7" height="2.6" fill="#9ccca4"/>
<rect x="552.0" y="262.3" width="2.1" height="3.7" fill="#3a9c4a"/>
<rect x="586.3" y="320.0" width="1.6" height="2.9" fill="#6cbc78"/>
<rect x="522.8" y="276.1" width="1.5" height="4.2" fill="#9ccca4"/>
<rect x="647.0" y="153.3" width="4.3" height="4.0" fill="#5cb868"/>
<rect x="630.8" y="340.0" width="2.6" height="3.7" fill="#1e6e2c"/>
<rect x="663.8" y="312.9" width="1.2" height="2.5" fill="#1e6e2c"/>
<rect x="451.0" y="179.7" width="4.4" height="2.0" fill="#2a7a34"/>
<rect x="634.8" y="288.8" width="4.4" height="1.6" fill="#1e6e2c"/>
<rect x="423.4" y="173.8" width="1.5" height="3.8" fill="#c0d8c0"/>
<rect x="501.0" y="174.3" width="4.2" height="3.3" fill="#48a856"/>
<rect x="620.1" y="168.7" width="2.9" height="2.6" fill="#48a856"/>
<rect x="523.2" y="193.2" width="2.9" height="3.1" fill="#c0d8c0"/>
<rect x="681.9" y="204.2" width="1.2" height="3.0" fill="#3a9c4a"/>
<rect x="545.5" y="195.2" width="3.3" height="4.1" fill="#6cbc78"/>
<rect x="591.7" y="160.0" width="1.3" height="2.6" fill="#6cbc78"/>
<rect x="531.4" y="199.8" width="2.8" height="3.4" fill="#9ccca4"/>
<rect x="431.8" y="216.3" width="4.3" height="1.9" fill="#9ccca4"/>
<rect x="424.7" y="207.0" width="2.4" height="2.5" fill="#2a7a34"/>
<rect x="475.0" y="300.8" width="1.4" height="2.8" fill="#6cbc78"/>
<rect x="620.0" y="207.7" width="2.0" height="1.9" fill="#c0d8c0"/>
<rect x="480.7" y="232.1" width="2.8" height="1.8" fill="#5cb868"/>
<rect x="524.0" y="191.4" width="4.3" height="1.7" fill="#c0d8c0"/>
<rect x="438.6" y="227.5" width="1.7" height="1.4" fill="#3a9c4a"/>
<rect x="662.8" y="213.7" width="3.6" height="4.5" fill="#24803a"/>
<rect x="543.5" y="210.8" width="3.4" height="2.9" fill="#9ccca4"/>
<rect x="536.7" y="170.4" width="4.0" height="4.5" fill="#2a8c3a"/>
<rect x="670.4" y="173.6" width="2.1" height="2.4" fill="#6cbc78"/>
<rect x="502.8" y="307.6" width="2.5" height="3.7" fill="#2a8c3a"/>
<rect x="519.8" y="331.3" width="1.4" height="2.8" fill="#6cbc78"/>
<rect x="545.8" y="273.7" width="2.3" height="3.6" fill="#6cbc78"/>
<rect x="433.5" y="155.9" width="3.9" height="3.7" fill="#2a8c3a"/>
<rect x="473.1" y="161.5" width="3.9" height="1.4" fill="#c0d8c0"/>
<rect x="670.7" y="271.7" width="2.3" height="2.1" fill="#48a856"/>
<rect x="660.8" y="207.7" width="3.7" height="3.5" fill="#c0d8c0"/>
<rect x="665.2" y="153.8" width="4.2" height="3.3" fill="#6cbc78"/>
<rect x="543.8" y="302.3" width="1.6" height="3.6" fill="#48a856"/>
<rect x="457.1" y="246.9" width="4.2" height="3.9" fill="#5cb868"/>
<rect x="634.6" y="301.5" width="3.8" height="3.6" fill="#c0d8c0"/>
<rect x="542.4" y="303.4" width="2.0" height="4.0" fill="#c0d8c0"/>
<rect x="618.4" y="198.3" width="1.5" height="1.9" fill="#2a8c3a"/>
<rect x="563.3" y="180.9" width="3.3" height="2.8" fill="#9ccca4"/>
<rect x="491.0" y="165.5" width="4.1" height="4.5" fill="#2a8c3a"/>
<rect x="674.2" y="183.0" width="2.6" height="4.5" fill="#24803a"/>
<rect x="597.2" y="296.9" width="2.6" height="3.2" fill="#2a8c3a"/>
<rect x="494.9" y="202.2" width="3.8" height="2.2" fill="#48a856"/>
<rect x="486.7" y="197.9" width="3.6" height="1.9" fill="#24803a"/>
<rect x="471.7" y="161.8" width="2.1" height="4.2" fill="#48a856"/>
<rect x="482.4" y="309.2" width="4.5" height="2.9" fill="#1e6e2c"/>
<rect x="544.8" y="312.4" width="4.5" height="1.5" fill="#1e6e2c"/>
<rect x="498.4" y="172.8" width="4.2" height="1.3" fill="#6cbc78"/>
<rect x="473.1" y="163.8" width="3.2" height="3.9" fill="#2a7a34"/>
<rect x="489.8" y="303.2" width="4.1" height="2.7" fill="#5cb868"/>
<rect x="583.8" y="192.1" width="1.5" height="3.2" fill="#3a9c4a"/>
<rect x="681.6" y="156.6" width="2.3" height="1.3" fill="#6cbc78"/>
<rect x="528.2" y="222.3" width="3.9" height="3.9" fill="#c0d8c0"/>
<rect x="628.8" y="258.1" width="2.2" height="1.9" fill="#2a8c3a"/>
<rect x="594.6" y="179.5" width="2.5" height="3.8" fill="#2a7a34"/>
<rect x="603.5" y="230.7" width="1.5" height="1.7" fill="#48a856"/>
<rect x="436.2" y="296.9" width="3.4" height="2.6" fill="#3a9c4a"/>
<rect x="621.1" y="309.2" width="2.6" height="1.3" fill="#6cbc78"/>
<rect x="666.5" y="235.2" width="2.5" height="2.5" fill="#24803a"/>
<rect x="528.0" y="323.0" width="2.6" height="3.9" fill="#1e6e2c"/>
<rect x="436.3" y="177.4" width="3.8" height="1.6" fill="#9ccca4"/>
<rect x="519.2" y="248.8" width="1.5" height="3.3" fill="#24803a"/>
<rect x="467.4" y="162.4" width="2.3" height="1.7" fill="#9ccca4"/>
<rect x="672.6" y="187.9" width="2.8" height="3.9" fill="#24803a"/>
<rect x="657.6" y="211.8" width="4.0" height="1.3" fill="#c0d8c0"/>
<rect x="655.2" y="272.2" width="4.3" height="2.5" fill="#24803a"/>
<rect x="583.0" y="270.1" width="3.3" height="4.0" fill="#6cbc78"/>
<rect x="479.1" y="228.6" width="3.9" height="1.8" fill="#2a7a34"/>
<rect x="461.8" y="341.8" width="1.7" height="2.4" fill="#6cbc78"/>
<rect x="619.7" y="156.5" width="1.3" height="3.1" fill="#3a9c4a"/>
<rect x="565.7" y="273.0" width="1.6" height="3.2" fill="#48a856"/>
<rect x="487.2" y="226.4" width="3.3" height="2.2" fill="#3a9c4a"/>
<rect x="429.0" y="271.8" width="2.7" height="2.6" fill="#1e6e2c"/>
<rect x="582.8" y="311.4" width="2.7" height="2.7" fill="#24803a"/>
<rect x="440.3" y="220.2" width="3.9" height="2.5" fill="#3a9c4a"/>
<rect x="555.4" y="157.1" width="1.5" height="2.7" fill="#24803a"/>
<rect x="624.8" y="250.0" width="1.5" height="3.6" fill="#5cb868"/>
<rect x="591.0" y="303.4" width="3.7" height="4.2" fill="#5cb868"/>
<rect x="611.1" y="309.2" width="4.0" height="4.5" fill="#6cbc78"/>
<rect x="497.7" y="308.7" width="1.6" height="4.1" fill="#24803a"/>
<rect x="479.9" y="313.5" width="3.5" height="3.6" fill="#c0d8c0"/>
<rect x="653.7" y="203.8" width="3.7" height="1.7" fill="#1e6e2c"/>
<rect x="661.6" y="190.3" width="1.7" height="2.9" fill="#48a856"/>
<rect x="519.0" y="188.6" width="3.2" height="2.0" fill="#9ccca4"/>
<rect x="599.2" y="325.1" width="1.7" height="4.3" fill="#24803a"/>
<rect x="620.6" y="158.7" width="3.8" height="2.1" fill="#3a9c4a"/>
<rect x="556.8" y="285.6" width="4.4" height="2.7" fill="#2a8c3a"/>
<rect x="644.8" y="295.1" width="2.0" height="3.0" fill="#3a9c4a"/>
<rect x="572.5" y="219.8" width="2.1" height="4.5" fill="#2a8c3a"/>
<rect x="615.1" y="158.6" width="2.7" height="1.8" fill="#2a7a34"/>
<rect x="677.8" y="264.8" width="2.0" height="3.3" fill="#3a9c4a"/>
<rect x="480.0" y="206.4" width="3.6" height="3.7" fill="#9ccca4"/>
<rect x="435.3" y="246.0" width="2.6" height="2.4" fill="#c0d8c0"/>
<rect x="423.7" y="219.9" width="3.4" height="1.3" fill="#2a8c3a"/>
<rect x="529.6" y="208.6" width="2.9" height="3.0" fill="#24803a"/>
<rect x="546.1" y="175.6" width="1.9" height="3.3" fill="#6cbc78"/>
<rect x="439.4" y="177.7" width="3.5" height="2.7" fill="#48a856"/>
<rect x="426.0" y="277.3" width="2.5" height="2.1" fill="#2a7a34"/>
<rect x="571.6" y="268.1" width="4.1" height="3.2" fill="#2a7a34"/>
<rect x="655.5" y="157.8" width="3.6" height="2.0" fill="#2a7a34"/>
<rect x="464.4" y="330.6" width="1.3" height="1.8" fill="#2a8c3a"/>
<rect x="667.4" y="177.2" width="1.2" height="3.0" fill="#6cbc78"/>
<rect x="590.1" y="231.1" width="2.9" height="3.3" fill="#c0d8c0"/>
<rect x="500.8" y="158.6" width="1.8" height="2.2" fill="#1e6e2c"/>
<rect x="640.4" y="297.9" width="3.6" height="1.2" fill="#1e6e2c"/>
<rect x="468.5" y="346.0" width="1.5" height="3.4" fill="#48a856"/>
<rect x="509.9" y="298.7" width="2.0" height="1.3" fill="#48a856"/>
<rect x="565.6" y="235.7" width="3.5" height="2.1" fill="#2a7a34"/>
<rect x="661.3" y="326.8" width="4.4" height="2.2" fill="#2a8c3a"/>
<rect x="489.9" y="196.2" width="4.1" height="1.3" fill="#6cbc78"/>
<rect x="506.9" y="322.7" width="4.3" height="3.7" fill="#3a9c4a"/>
<rect x="642.6" y="332.0" width="3.2" height="2.5" fill="#2a7a34"/>
<rect x="603.2" y="318.0" width="2.7" height="4.0" fill="#9ccca4"/>
<rect x="650.1" y="306.1" width="4.4" height="2.0" fill="#9ccca4"/>
<rect x="657.8" y="177.9" width="3.3" height="1.5" fill="#5cb868"/>
<rect x="465.0" y="342.3" width="1.6" height="3.3" fill="#5cb868"/>
<rect x="590.1" y="157.5" width="1.3" height="1.7" fill="#2a8c3a"/>
<rect x="575.0" y="221.5" width="3.6" height="1.4" fill="#2a7a34"/>
<rect x="645.9" y="331.5" width="4.1" height="1.4" fill="#9ccca4"/>
<rect x="452.1" y="155.9" width="1.6" height="1.9" fill="#2a8c3a"/>
<rect x="496.9" y="168.7" width="3.9" height="3.3" fill="#2a8c3a"/>
<rect x="498.7" y="215.5" width="3.8" height="3.3" fill="#48a856"/>
<rect x="496.4" y="291.4" width="1.3" height="2.0" fill="#3a9c4a"/>
<rect x="577.6" y="242.9" width="4.2" height="3.7" fill="#48a856"/>
<rect x="529.4" y="236.2" width="3.2" height="1.3" fill="#2a8c3a"/>
<rect x="562.1" y="191.8" width="2.3" height="3.5" fill="#2a8c3a"/>
<rect x="535.5" y="253.1" width="3.1" height="2.1" fill="#48a856"/>
<rect x="424.1" y="245.5" width="3.7" height="4.4" fill="#1e6e2c"/>
<rect x="672.0" y="265.8" width="3.5" height="3.9" fill="#2a7a34"/>
<rect x="496.5" y="191.2" width="2.1" height="4.3" fill="#6cbc78"/>
<rect x="587.3" y="165.1" width="2.8" height="1.6" fill="#2a7a34"/>
<rect x="514.5" y="228.3" width="3.8" height="3.3" fill="#9ccca4"/>
<rect x="531.4" y="276.5" width="4.1" height="3.7" fill="#3a9c4a"/>
<rect x="656.5" y="248.7" width="1.9" height="2.1" fill="#9ccca4"/>
<rect x="665.2" y="174.1" width="4.4" height="3.3" fill="#c0d8c0"/>
<rect x="589.3" y="217.8" width="3.7" height="3.7" fill="#3a9c4a"/>
<rect x="539.2" y="258.1" width="2.9" height="4.1" fill="#3a9c4a"/>
<rect x="623.5" y="263.9" width="1.8" height="2.6" fill="#24803a"/>
<rect x="603.2" y="249.4" width="2.3" height="3.3" fill="#48a856"/>
<rect x="641.3" y="179.5" width="2.2" height="3.5" fill="#24803a"/>
<rect x="577.7" y="217.8" width="4.4" height="3.6" fill="#6cbc78"/>
<rect x="675.3" y="294.1" width="2.3" height="1.8" fill="#2a8c3a"/>
<rect x="473.7" y="178.8" width="1.7" height="3.4" fill="#24803a"/>
<rect x="534.9" y="187.7" width="3.8" height="3.6" fill="#2a8c3a"/>
<rect x="543.1" y="151.5" width="2.1" height="4.1" fill="#9ccca4"/>
<rect x="585.8" y="240.8" width="3.5" height="2.9" fill="#24803a"/>
<rect x="424.4" y="196.8" width="2.0" height="3.6" fill="#9ccca4"/>
<rect x="589.6" y="316.4" width="3.5" height="3.1" fill="#c0d8c0"/>
<rect x="587.9" y="238.7" width="4.0" height="3.4" fill="#3a9c4a"/>
<rect x="654.7" y="196.9" width="2.1" height="3.5" fill="#9ccca4"/>
<rect x="487.4" y="232.8" width="3.6" height="3.3" fill="#1e6e2c"/>
<rect x="557.6" y="279.2" width="1.3" height="4.0" fill="#24803a"/>
<rect x="425.7" y="314.3" width="4.2" height="2.3" fill="#2a8c3a"/>
<rect x="464.8" y="303.8" width="1.3" height="3.0" fill="#6cbc78"/>
<rect x="571.3" y="256.9" width="2.9" height="1.5" fill="#1e6e2c"/>
<rect x="637.0" y="252.1" width="2.9" height="3.3" fill="#9ccca4"/>
<rect x="677.8" y="185.4" width="3.6" height="2.7" fill="#2a7a34"/>
<rect x="676.3" y="219.9" width="3.7" height="1.6" fill="#5cb868"/>
<rect x="438.9" y="163.9" width="2.0" height="2.5" fill="#9ccca4"/>
<rect x="572.5" y="170.6" width="3.3" height="3.4" fill="#48a856"/>
<rect x="558.6" y="192.1" width="3.6" height="4.3" fill="#9ccca4"/>
<rect x="663.0" y="162.7" width="2.7" height="1.7" fill="#6cbc78"/>
<rect x="481.4" y="339.8" width="2.7" height="3.1" fill="#3a9c4a"/>
<rect x="627.9" y="230.4" width="3.4" height="3.9" fill="#48a856"/>
<rect x="623.6" y="241.8" width="3.7" height="3.3" fill="#6cbc78"/>
<rect x="488.6" y="233.6" width="2.1" height="2.4" fill="#24803a"/>
<rect x="629.3" y="219.6" width="2.8" height="3.9" fill="#48a856"/>
<rect x="584.3" y="165.9" width="2.3" height="2.8" fill="#3a9c4a"/>
<rect x="522.9" y="166.0" width="1.7" height="2.2" fill="#c0d8c0"/>
<rect x="459.1" y="312.9" width="4.2" height="3.8" fill="#c0d8c0"/>
<rect x="670.2" y="280.0" width="1.2" height="1.2" fill="#48a856"/>
<rect x="643.2" y="185.7" width="3.2" height="3.1" fill="#1e6e2c"/>
<rect x="656.8" y="306.8" width="2.3" height="1.7" fill="#24803a"/>
<rect x="674.9" y="166.9" width="3.2" height="3.5" fill="#2a7a34"/>
<rect x="473.8" y="285.5" width="3.8" height="4.0" fill="#2a7a34"/>
<rect x="597.2" y="172.0" width="1.5" height="4.0" fill="#2a8c3a"/>
<rect x="459.1" y="247.1" width="2.1" height="2.0" fill="#5cb868"/>
<rect x="603.8" y="197.5" width="2.8" height="4.2" fill="#24803a"/>
<rect x="424.7" y="314.6" width="3.0" height="4.0" fill="#1e6e2c"/>
<rect x="499.4" y="241.3" width="3.5" height="2.8" fill="#9ccca4"/>
<rect x="442.5" y="274.3" width="2.6" height="4.4" fill="#5cb868"/>
<rect x="614.3" y="348.4" width="1.3" height="1.4" fill="#2a8c3a"/>
<rect x="654.7" y="155.7" width="2.9" height="2.8" fill="#9ccca4"/>
<rect x="645.1" y="221.7" width="3.3" height="2.3" fill="#1e6e2c"/>
<rect x="657.7" y="205.3" width="3.8" height="3.0" fill="#3a9c4a"/>
<rect x="636.6" y="207.0" width="2.6" height="3.0" fill="#1e6e2c"/>
<rect x="493.2" y="249.3" width="2.5" height="2.9" fill="#6cbc78"/>
<rect x="508.3" y="211.5" width="3.4" height="3.8" fill="#48a856"/>
<rect x="445.7" y="344.9" width="1.6" height="4.4" fill="#9ccca4"/>
<rect x="563.4" y="158.8" width="3.6" height="4.1" fill="#48a856"/>
<rect x="636.3" y="243.8" width="1.6" height="1.4" fill="#5cb868"/>
<rect x="580.3" y="270.4" width="3.8" height="4.2" fill="#c0d8c0"/>
<rect x="433.1" y="275.4" width="4.1" height="1.5" fill="#24803a"/>
<rect x="432.6" y="303.3" width="1.5" height="1.8" fill="#5cb868"/>
<rect x="626.4" y="259.8" width="2.4" height="3.9" fill="#48a856"/>
<rect x="431.8" y="153.1" width="4.0" height="1.8" fill="#c0d8c0"/>
<rect x="437.1" y="260.6" width="3.3" height="4.3" fill="#5cb868"/>
<rect x="531.2" y="286.2" width="3.9" height="3.8" fill="#9ccca4"/>
<rect x="523.0" y="267.2" width="2.7" height="1.2" fill="#24803a"/>
<rect x="449.4" y="276.9" width="2.8" height="2.6" fill="#6cbc78"/>
<rect x="532.7" y="150.8" width="4.2" height="3.3" fill="#2a8c3a"/>
<rect x="479.0" y="172.9" width="4.5" height="4.0" fill="#1e6e2c"/>
<rect x="485.9" y="293.8" width="1.3" height="3.6" fill="#24803a"/>
<rect x="614.9" y="287.0" width="4.2" height="2.4" fill="#24803a"/>
<rect x="584.8" y="290.5" width="3.6" height="1.5" fill="#1e6e2c"/>
<rect x="658.3" y="159.4" width="3.4" height="4.1" fill="#5cb868"/>
<rect x="592.0" y="312.3" width="1.2" height="1.2" fill="#2a8c3a"/>
<rect x="578.1" y="339.4" width="2.5" height="2.2" fill="#1e6e2c"/>
<rect x="667.6" y="293.6" width="3.2" height="2.2" fill="#1e6e2c"/>
<rect x="628.4" y="221.4" width="3.4" height="1.7" fill="#24803a"/>
<rect x="522.4" y="305.0" width="3.3" height="2.6" fill="#48a856"/>
<rect x="498.2" y="161.0" width="3.8" height="3.1" fill="#c0d8c0"/>
<rect x="675.9" y="313.4" width="2.3" height="3.2" fill="#c0d8c0"/>
<rect x="674.0" y="197.7" width="3.9" height="3.1" fill="#9ccca4"/>
<rect x="653.8" y="308.7" width="3.5" height="3.2" fill="#48a856"/>
<rect x="492.0" y="180.3" width="3.5" height="2.3" fill="#5cb868"/>
<rect x="653.5" y="346.9" width="2.2" height="1.7" fill="#24803a"/>
<rect x="631.9" y="283.9" width="2.1" height="4.0" fill="#1e6e2c"/>
<rect x="566.2" y="308.1" width="2.3" height="1.5" fill="#6cbc78"/>
<rect x="675.6" y="210.1" width="3.8" height="3.6" fill="#5cb868"/>
<rect x="476.2" y="199.5" width="3.4" height="2.7" fill="#5cb868"/>
<rect x="445.6" y="308.9" width="3.8" height="2.7" fill="#2a8c3a"/>
<rect x="655.3" y="324.1" width="2.0" height="3.1" fill="#2a7a34"/>
<rect x="475.2" y="191.1" width="2.3" height="2.9" fill="#2a8c3a"/>
<rect x="517.0" y="260.5" width="1.8" height="3.5" fill="#9ccca4"/>
<rect x="486.4" y="330.7" width="3.8" height="4.0" fill="#1e6e2c"/>
<rect x="586.6" y="306.0" width="2.4" height="1.6" fill="#24803a"/>
<rect x="495.6" y="270.2" width="2.2" height="1.3" fill="#2a8c3a"/>
<rect x="647.9" y="244.6" width="1.3" height="4.5" fill="#c0d8c0"/>
<rect x="495.5" y="168.1" width="1.9" height="4.3" fill="#1e6e2c"/>
<rect x="670.9" y="199.1" width="3.7" height="3.9" fill="#5cb868"/>
<rect x="520.8" y="154.4" width="2.3" height="4.5" fill="#5cb868"/>
<rect x="541.2" y="335.5" width="3.0" height="4.1" fill="#2a8c3a"/>
<rect x="659.9" y="288.6" width="4.0" height="3.3" fill="#2a8c3a"/>
<rect x="588.9" y="338.3" width="2.0" height="3.1" fill="#2a7a34"/>
<rect x="464.3" y="340.5" width="2.5" height="2.7" fill="#6cbc78"/>
<rect x="667.0" y="160.7" width="1.8" height="4.3" fill="#2a7a34"/>
<rect x="435.1" y="303.9" width="4.2" height="4.0" fill="#1e6e2c"/>
<rect x="619.0" y="336.2" width="1.4" height="1.7" fill="#48a856"/>
<rect x="591.3" y="242.4" width="3.1" height="2.7" fill="#3a9c4a"/>
<rect x="547.6" y="182.6" width="2.0" height="1.6" fill="#6cbc78"/>
<rect x="652.4" y="241.1" width="3.9" height="4.2" fill="#6cbc78"/>
<rect x="637.2" y="164.5" width="3.8" height="1.7" fill="#c0d8c0"/>
<rect x="458.9" y="237.0" width="4.1" height="4.1" fill="#2a8c3a"/>
<rect x="428.6" y="163.9" width="4.3" height="2.5" fill="#3a9c4a"/>
<rect x="452.9" y="221.9" width="2.3" height="2.0" fill="#3a9c4a"/>
<rect x="607.9" y="259.5" width="1.9" height="1.4" fill="#24803a"/>
<rect x="531.1" y="198.2" width="2.6" height="1.7" fill="#5cb868"/>
<rect x="509.6" y="182.1" width="2.1" height="4.0" fill="#1e6e2c"/>
<rect x="548.2" y="179.4" width="1.6" height="2.7" fill="#2a7a34"/>
<rect x="596.5" y="190.6" width="1.4" height="4.2" fill="#1e6e2c"/>
<rect x="617.0" y="342.6" width="4.0" height="1.6" fill="#9ccca4"/>
<rect x="660.3" y="168.2" width="4.5" height="4.5" fill="#48a856"/>
<rect x="638.1" y="344.0" width="2.6" height="1.7" fill="#24803a"/>
<rect x="630.1" y="217.1" width="4.4" height="1.3" fill="#24803a"/>
<rect x="666.8" y="205.5" width="2.7" height="3.8" fill="#3a9c4a"/>
<rect x="479.4" y="261.4" width="2.6" height="4.2" fill="#24803a"/>
<rect x="482.2" y="183.8" width="4.0" height="2.9" fill="#c0d8c0"/>
<rect x="580.9" y="247.9" width="1.5" height="1.5" fill="#48a856"/>
<rect x="596.7" y="274.3" width="1.8" height="1.7" fill="#6cbc78"/>
<rect x="439.9" y="294.9" width="3.1" height="1.9" fill="#9ccca4"/>
<rect x="556.3" y="217.4" width="4.0" height="4.2" fill="#48a856"/>
<rect x="549.7" y="152.0" width="4.0" height="4.1" fill="#1e6e2c"/>
<rect x="487.4" y="260.3" width="1.6" height="3.4" fill="#3a9c4a"/>
<rect x="572.3" y="318.5" width="1.3" height="3.5" fill="#3a9c4a"/>
<rect x="556.1" y="173.0" width="2.9" height="2.7" fill="#6cbc78"/>
<rect x="505.5" y="289.1" width="3.9" height="4.1" fill="#9ccca4"/>
<rect x="498.2" y="170.2" width="3.1" height="4.2" fill="#1e6e2c"/>
<rect x="630.8" y="175.8" width="2.7" height="1.3" fill="#6cbc78"/>
<rect x="469.8" y="169.4" width="4.4" height="1.9" fill="#48a856"/>
<rect x="428.0" y="331.2" width="3.0" height="4.4" fill="#6cbc78"/>
<rect x="587.9" y="240.4" width="2.1" height="4.0" fill="#6cbc78"/>
<rect x="646.9" y="292.0" width="3.5" height="1.5" fill="#5cb868"/>
<rect x="574.7" y="300.0" width="2.1" height="2.7" fill="#2a8c3a"/>
<rect x="458.5" y="266.5" width="1.6" height="2.5" fill="#6cbc78"/>
<rect x="616.6" y="181.5" width="1.7" height="3.1" fill="#5cb868"/>
<rect x="530.9" y="315.7" width="4.3" height="2.5" fill="#2a7a34"/>
<rect x="436.5" y="220.4" width="1.3" height="4.4" fill="#9ccca4"/>
<rect x="535.8" y="344.0" width="2.0" height="2.3" fill="#3a9c4a"/>
<rect x="436.8" y="250.9" width="3.9" height="4.0" fill="#3a9c4a"/>
<rect x="586.9" y="221.3" width="2.0" height="2.6" fill="#2a7a34"/>
<rect x="475.0" y="282.0" width="1.8" height="2.3" fill="#6cbc78"/>
<rect x="624.4" y="333.2" width="1.7" height="4.4" fill="#5cb868"/>
<rect x="650.5" y="155.8" width="3.9" height="4.1" fill="#c0d8c0"/>
<rect x="493.8" y="256.1" width="2.1" height="3.4" fill="#5cb868"/>
<rect x="557.1" y="235.3" width="3.3" height="2.0" fill="#5cb868"/>
<rect x="590.6" y="172.9" width="2.1" height="2.2" fill="#c0d8c0"/>
<rect x="654.3" y="165.6" width="4.4" height="4.2" fill="#c0d8c0"/>
<rect x="455.0" y="175.2" width="3.0" height="1.7" fill="#48a856"/>
<rect x="493.4" y="294.6" width="4.2" height="3.1" fill="#2a7a34"/>
<rect x="602.9" y="192.9" width="2.1" height="2.7" fill="#9ccca4"/>
<rect x="542.4" y="257.2" width="1.9" height="3.5" fill="#c0d8c0"/>
<rect x="431.0" y="214.8" width="2.8" height="3.9" fill="#6cbc78"/>
<rect x="574.2" y="151.4" width="2.9" height="2.5" fill="#3a9c4a"/>
<rect x="507.0" y="213.0" width="1.7" height="4.3" fill="#48a856"/>
<rect x="499.5" y="300.8" width="2.1" height="4.5" fill="#24803a"/>
<rect x="512.8" y="279.1" width="3.0" height="3.2" fill="#2a7a34"/>
<rect x="613.1" y="170.7" width="2.5" height="2.7" fill="#6cbc78"/>
<rect x="662.6" y="231.3" width="4.5" height="3.4" fill="#3a9c4a"/>
<rect x="581.4" y="204.1" width="1.7" height="1.9" fill="#2a7a34"/>
<rect x="662.3" y="345.1" width="1.5" height="4.0" fill="#48a856"/>
<rect x="658.3" y="174.1" width="3.8" height="3.5" fill="#2a8c3a"/>
<rect x="575.2" y="247.2" width="1.2" height="3.7" fill="#c0d8c0"/>
<rect x="495.4" y="271.4" width="1.7" height="4.0" fill="#2a8c3a"/>
<rect x="541.4" y="292.4" width="2.5" height="2.7" fill="#48a856"/>
<rect x="577.0" y="277.4" width="2.4" height="2.9" fill="#5cb868"/>
<rect x="551.5" y="236.5" width="3.8" height="4.0" fill="#24803a"/>
<rect x="535.4" y="223.3" width="3.0" height="3.8" fill="#6cbc78"/>
<rect x="507.0" y="314.9" width="1.5" height="4.2" fill="#6cbc78"/>
<rect x="532.4" y="330.3" width="4.4" height="1.9" fill="#5cb868"/>
<rect x="655.7" y="208.6" width="1.3" height="2.0" fill="#2a7a34"/>
<rect x="679.8" y="251.5" width="3.8" height="3.0" fill="#2a7a34"/>
<rect x="542.5" y="157.1" width="3.6" height="2.6" fill="#3a9c4a"/>
<rect x="440.6" y="194.8" width="2.7" height="1.2" fill="#9ccca4"/>
<rect x="568.1" y="262.9" width="2.4" height="2.5" fill="#6cbc78"/>
<rect x="536.0" y="272.8" width="4.4" height="2.8" fill="#c0d8c0"/>
<rect x="634.0" y="182.8" width="2.3" height="2.9" fill="#3a9c4a"/>
<rect x="503.3" y="184.0" width="2.4" height="1.4" fill="#48a856"/>
<rect x="678.0" y="324.0" width="3.5" height="3.9" fill="#9ccca4"/>
<rect x="633.3" y="190.2" width="3.3" height="2.9" fill="#6cbc78"/>
<rect x="569.0" y="170.3" width="2.6" height="1.4" fill="#c0d8c0"/>
<rect x="433.9" y="230.3" width="4.5" height="3.3" fill="#5cb868"/>
<rect x="424.0" y="209.1" width="2.2" height="3.5" fill="#2a8c3a"/>
<rect x="473.7" y="247.4" width="3.1" height="3.4" fill="#2a7a34"/>
<rect x="654.0" y="250.3" width="3.1" height="4.1" fill="#24803a"/>
<rect x="454.3" y="180.1" width="3.1" height="2.6" fill="#2a7a34"/>
<rect x="467.2" y="253.2" width="1.6" height="1.5" fill="#1e6e2c"/>
<rect x="439.0" y="151.5" width="3.2" height="3.9" fill="#c0d8c0"/>
<rect x="514.6" y="182.4" width="2.3" height="3.6" fill="#48a856"/>
<rect x="667.2" y="161.4" width="3.3" height="4.0" fill="#6cbc78"/>
<rect x="437.1" y="325.8" width="2.7" height="2.5" fill="#c0d8c0"/>
<rect x="437.0" y="196.6" width="3.7" height="1.3" fill="#6cbc78"/>
<rect x="644.9" y="210.9" width="1.3" height="4.3" fill="#1e6e2c"/>
<rect x="671.5" y="247.0" width="2.2" height="3.2" fill="#2a8c3a"/>
<rect x="609.1" y="193.0" width="2.0" height="2.5" fill="#48a856"/>
<rect x="428.8" y="320.4" width="2.5" height="3.5" fill="#2a8c3a"/>
<rect x="471.4" y="342.0" width="1.8" height="2.4" fill="#48a856"/>
<rect x="509.6" y="322.1" width="2.5" height="2.4" fill="#3a9c4a"/>
<rect x="454.9" y="313.8" width="2.5" height="1.4" fill="#3a9c4a"/>
<rect x="543.5" y="217.4" width="3.0" height="2.5" fill="#9ccca4"/>
<rect x="511.7" y="179.8" width="1.3" height="3.4" fill="#24803a"/>
<rect x="639.7" y="174.4" width="1.5" height="2.1" fill="#1e6e2c"/>
<rect x="485.0" y="221.5" width="2.7" height="3.8" fill="#6cbc78"/>
<rect x="669.7" y="190.3" width="3.6" height="2.4" fill="#1e6e2c"/>
<rect x="539.9" y="175.1" width="2.9" height="2.0" fill="#48a856"/>
<rect x="678.2" y="255.0" width="3.2" height="2.7" fill="#9ccca4"/>
<rect x="647.9" y="173.4" width="3.2" height="1.9" fill="#2a7a34"/>
<rect x="614.0" y="299.7" width="1.5" height="4.0" fill="#5cb868"/>
<rect x="503.1" y="226.2" width="3.4" height="3.1" fill="#2a8c3a"/>
<rect x="482.6" y="186.1" width="3.5" height="3.8" fill="#2a8c3a"/>
<rect x="632.0" y="298.3" width="1.4" height="4.2" fill="#6cbc78"/>
<rect x="481.8" y="174.1" width="1.4" height="2.2" fill="#9ccca4"/>
<rect x="658.3" y="302.8" width="2.1" height="2.5" fill="#24803a"/>
<rect x="517.1" y="308.3" width="4.3" height="1.8" fill="#3a9c4a"/>
<rect x="603.8" y="241.4" width="4.2" height="1.3" fill="#9ccca4"/>
<rect x="470.0" y="171.8" width="2.4" height="3.3" fill="#c0d8c0"/>
<rect x="433.4" y="156.9" width="3.6" height="3.6" fill="#24803a"/>
<rect x="463.4" y="294.7" width="2.6" height="3.7" fill="#2a7a34"/>
<rect x="469.5" y="315.0" width="2.2" height="3.3" fill="#c0d8c0"/>
<rect x="662.0" y="281.7" width="2.8" height="2.9" fill="#c0d8c0"/>
<rect x="638.8" y="304.1" width="2.4" height="1.2" fill="#48a856"/>
<rect x="573.3" y="286.1" width="4.2" height="4.1" fill="#6cbc78"/>
<rect x="505.0" y="304.2" width="3.4" height="1.3" fill="#3a9c4a"/>
<rect x="601.8" y="227.5" width="3.7" height="1.5" fill="#c0d8c0"/>
<rect x="446.1" y="337.2" width="3.9" height="2.1" fill="#9ccca4"/>
<rect x="553.0" y="285.8" width="2.7" height="2.3" fill="#1e6e2c"/>
<rect x="476.2" y="282.0" width="2.9" height="3.4" fill="#24803a"/>
<rect x="668.9" y="313.4" width="2.8" height="1.8" fill="#2a7a34"/>
<rect x="674.0" y="275.2" width="2.1" height="3.0" fill="#2a7a34"/>
<rect x="466.5" y="217.3" width="2.1" height="4.4" fill="#2a8c3a"/>
<rect x="458.4" y="289.5" width="1.9" height="2.2" fill="#1e6e2c"/>
<rect x="556.5" y="237.6" width="2.0" height="2.0" fill="#3a9c4a"/>
<rect x="605.2" y="266.1" width="3.5" height="1.6" fill="#6cbc78"/>
<rect x="564.8" y="298.9" width="2.3" height="3.9" fill="#24803a"/>
<rect x="675.2" y="316.3" width="3.4" height="1.7" fill="#9ccca4"/>
<rect x="497.4" y="220.9" width="3.9" height="1.6" fill="#6cbc78"/>
<rect x="501.9" y="170.8" width="1.3" height="4.2" fill="#48a856"/>
<rect x="506.8" y="242.5" width="2.7" height="1.6" fill="#3a9c4a"/>
<rect x="434.8" y="241.7" width="2.2" height="3.0" fill="#1e6e2c"/>
<rect x="677.4" y="260.3" width="1.5" height="3.6" fill="#2a8c3a"/>
<rect x="548.8" y="303.1" width="3.3" height="4.4" fill="#3a9c4a"/>
<rect x="590.4" y="272.5" width="1.2" height="4.2" fill="#48a856"/>
<rect x="615.6" y="154.0" width="3.4" height="1.5" fill="#9ccca4"/>
<rect x="470.7" y="275.9" width="4.0" height="2.2" fill="#24803a"/>
<rect x="503.5" y="270.8" width="1.5" height="3.6" fill="#9ccca4"/>
<rect x="506.0" y="221.6" width="1.8" height="3.9" fill="#2a7a34"/>
<rect x="488.1" y="160.4" width="4.2" height="4.0" fill="#2a8c3a"/>
<rect x="634.4" y="288.5" width="3.1" height="3.3" fill="#5cb868"/>
<rect x="551.2" y="180.2" width="4.3" height="2.8" fill="#48a856"/>
<rect x="459.6" y="194.0" width="3.2" height="3.3" fill="#24803a"/>
<rect x="446.2" y="156.9" width="2.7" height="4.4" fill="#1e6e2c"/>
<rect x="519.2" y="155.4" width="2.8" height="1.9" fill="#c0d8c0"/>
<rect x="532.3" y="204.9" width="4.0" height="3.8" fill="#5cb868"/>
<rect x="510.4" y="236.0" width="2.9" height="2.6" fill="#24803a"/>
<rect x="499.0" y="237.3" width="4.2" height="1.7" fill="#c0d8c0"/>
<rect x="543.8" y="256.4" width="3.4" height="3.1" fill="#2a7a34"/>
<rect x="657.7" y="319.1" width="2.7" height="4.4" fill="#9ccca4"/>
<rect x="631.2" y="160.9" width="4.4" height="3.2" fill="#3a9c4a"/>
<rect x="570.2" y="338.4" width="3.2" height="2.2" fill="#1e6e2c"/>
<rect x="645.9" y="254.7" width="3.4" height="1.7" fill="#5cb868"/>
<rect x="613.1" y="286.6" width="4.0" height="1.9" fill="#24803a"/>
<rect x="572.6" y="231.7" width="3.4" height="2.4" fill="#2a7a34"/>
<rect x="490.6" y="194.1" width="2.0" height="2.7" fill="#6cbc78"/>
<rect x="645.4" y="199.6" width="3.0" height="1.6" fill="#2a8c3a"/>
<rect x="606.8" y="193.9" width="1.8" height="3.4" fill="#1e6e2c"/>
<rect x="452.3" y="250.6" width="1.9" height="3.1" fill="#c0d8c0"/>
<rect x="598.3" y="306.7" width="3.1" height="4.0" fill="#24803a"/>
<rect x="606.6" y="298.9" width="4.0" height="3.0" fill="#2a8c3a"/>
<rect x="555.8" y="239.4" width="3.3" height="4.4" fill="#9ccca4"/>
<rect x="472.4" y="242.4" width="3.0" height="4.4" fill="#2a8c3a"/>
<rect x="437.9" y="195.7" width="1.7" height="3.8" fill="#3a9c4a"/>
<rect x="671.1" y="239.8" width="1.3" height="3.5" fill="#2a8c3a"/>
<rect x="651.8" y="272.2" width="3.5" height="2.6" fill="#6cbc78"/>
<rect x="647.6" y="182.1" width="3.1" height="4.2" fill="#3a9c4a"/>
<rect x="426.0" y="199.5" width="3.9" height="3.6" fill="#6cbc78"/>
<rect x="668.1" y="291.5" width="2.4" height="3.6" fill="#5cb868"/>
<rect x="514.5" y="214.0" width="3.9" height="2.4" fill="#c0d8c0"/>
<rect x="598.2" y="199.1" width="1.6" height="4.3" fill="#6cbc78"/>
<rect x="677.6" y="236.9" width="3.5" height="1.3" fill="#5cb868"/>
<rect x="489.7" y="179.0" width="2.8" height="1.4" fill="#48a856"/>
<rect x="637.8" y="265.2" width="4.1" height="3.4" fill="#48a856"/>
<rect x="631.5" y="336.4" width="3.0" height="3.5" fill="#5cb868"/>
<rect x="549.5" y="244.1" width="1.3" height="4.5" fill="#5cb868"/>
<rect x="469.9" y="312.4" width="3.8" height="1.3" fill="#c0d8c0"/>
<rect x="463.9" y="316.5" width="2.5" height="2.8" fill="#9ccca4"/>
<rect x="556.9" y="220.0" width="2.0" height="4.4" fill="#2a7a34"/>
<rect x="575.7" y="157.6" width="1.9" height="4.2" fill="#24803a"/>
<rect x="508.2" y="241.5" width="3.9" height="3.6" fill="#3a9c4a"/>
<rect x="548.1" y="194.0" width="2.2" height="2.3" fill="#6cbc78"/>
<rect x="434.7" y="177.7" width="2.7" height="4.5" fill="#24803a"/>
<rect x="552.5" y="201.1" width="2.1" height="2.1" fill="#c0d8c0"/>
<rect x="458.9" y="287.2" width="3.1" height="3.1" fill="#2a7a34"/>
<rect x="474.2" y="234.0" width="4.2" height="1.5" fill="#c0d8c0"/>
<rect x="495.6" y="307.0" width="3.3" height="2.4" fill="#24803a"/>
<rect x="619.6" y="296.0" width="3.4" height="2.2" fill="#2a7a34"/>
<rect x="647.3" y="291.4" width="4.0" height="2.0" fill="#3a9c4a"/>
<rect x="506.9" y="345.4" width="1.4" height="2.3" fill="#1e6e2c"/>
<rect x="631.9" y="345.2" width="2.9" height="4.2" fill="#24803a"/>
<rect x="648.9" y="239.5" width="1.6" height="1.2" fill="#1e6e2c"/>
<rect x="663.3" y="264.7" width="2.5" height="3.7" fill="#24803a"/>
<rect x="611.1" y="258.6" width="2.2" height="2.2" fill="#3a9c4a"/>
<rect x="663.0" y="265.5" width="1.4" height="1.8" fill="#48a856"/>
<rect x="515.1" y="301.2" width="3.1" height="4.5" fill="#9ccca4"/>
<rect x="638.9" y="211.8" width="3.6" height="4.2" fill="#24803a"/>
<rect x="429.0" y="181.7" width="2.1" height="2.0" fill="#48a856"/>
<rect x="435.4" y="238.5" width="2.0" height="1.3" fill="#c0d8c0"/>
<rect x="448.8" y="196.9" width="2.1" height="2.9" fill="#5cb868"/>
<rect x="443.4" y="309.1" width="4.4" height="3.2" fill="#c0d8c0"/>
<rect x="471.7" y="256.0" width="2.3" height="1.7" fill="#5cb868"/>
<rect x="477.7" y="213.3" width="3.3" height="4.2" fill="#5cb868"/>
<rect x="597.9" y="216.0" width="3.3" height="2.5" fill="#5cb868"/>
<rect x="445.4" y="269.8" width="4.0" height="3.8" fill="#1e6e2c"/>
<rect x="664.2" y="322.3" width="4.5" height="2.5" fill="#5cb868"/>
<rect x="676.5" y="160.1" width="4.3" height="3.1" fill="#c0d8c0"/>
<rect x="463.3" y="152.7" width="3.5" height="4.0" fill="#6cbc78"/>
<rect x="446.3" y="309.6" width="1.7" height="3.7" fill="#9ccca4"/>
<rect x="647.0" y="179.3" width="2.3" height="3.4" fill="#c0d8c0"/>
<rect x="582.6" y="310.9" width="3.1" height="2.0" fill="#1e6e2c"/>
<rect x="502.6" y="301.4" width="3.7" height="3.8" fill="#1e6e2c"/>
<rect x="559.6" y="203.4" width="3.0" height="2.4" fill="#48a856"/>
<rect x="593.2" y="302.5" width="1.2" height="2.8" fill="#3a9c4a"/>
<rect x="526.9" y="342.6" width="1.7" height="3.3" fill="#5cb868"/>
<rect x="563.0" y="189.9" width="3.3" height="1.6" fill="#24803a"/>
<rect x="614.0" y="327.6" width="2.1" height="3.2" fill="#24803a"/>
<rect x="606.1" y="236.7" width="2.9" height="2.4" fill="#1e6e2c"/>
<rect x="656.5" y="225.6" width="1.9" height="4.2" fill="#6cbc78"/>
<rect x="450.9" y="293.3" width="2.3" height="4.2" fill="#2a8c3a"/>
<rect x="596.4" y="218.0" width="3.9" height="4.2" fill="#6cbc78"/>
<rect x="660.1" y="336.5" width="3.1" height="2.6" fill="#6cbc78"/>
<rect x="607.2" y="197.3" width="1.3" height="1.3" fill="#3a9c4a"/>
<rect x="589.5" y="207.9" width="1.9" height="3.7" fill="#1e6e2c"/>
<rect x="463.6" y="319.8" width="1.9" height="3.1" fill="#48a856"/>
<rect x="500.0" y="166.6" width="4.3" height="1.7" fill="#5cb868"/>
<rect x="464.7" y="283.4" width="2.8" height="4.1" fill="#c0d8c0"/>
<rect x="436.4" y="304.7" width="4.4" height="1.9" fill="#3a9c4a"/>
<rect x="537.0" y="234.8" width="1.4" height="3.8" fill="#24803a"/>
<rect x="429.3" y="171.2" width="4.5" height="2.2" fill="#5cb868"/>
<rect x="553.4" y="218.9" width="1.6" height="2.2" fill="#24803a"/>
<rect x="530.0" y="276.5" width="2.7" height="2.5" fill="#9ccca4"/>
<rect x="431.5" y="195.1" width="4.1" height="4.4" fill="#5cb868"/>
<rect x="483.1" y="234.3" width="1.3" height="2.9" fill="#2a8c3a"/>
<rect x="653.1" y="161.9" width="3.6" height="1.4" fill="#2a8c3a"/>
<rect x="458.2" y="233.9" width="1.6" height="2.8" fill="#24803a"/>
<rect x="587.0" y="257.0" width="1.9" height="3.0" fill="#2a8c3a"/>
<rect x="670.0" y="164.2" width="2.9" height="4.0" fill="#6cbc78"/>
<rect x="480.6" y="163.2" width="4.0" height="4.4" fill="#24803a"/>
<rect x="674.0" y="188.1" width="1.3" height="2.1" fill="#5cb868"/>
<rect x="516.7" y="151.1" width="2.5" height="3.0" fill="#5cb868"/>
<rect x="564.4" y="285.7" width="3.4" height="3.0" fill="#48a856"/>
<rect x="531.3" y="342.4" width="2.5" height="2.3" fill="#9ccca4"/>
<rect x="629.8" y="325.8" width="3.7" height="4.1" fill="#5cb868"/>
<rect x="679.1" y="286.4" width="2.0" height="2.9" fill="#9ccca4"/>
<rect x="593.2" y="166.1" width="4.5" height="3.9" fill="#c0d8c0"/>
<rect x="435.7" y="285.6" width="3.8" height="4.2" fill="#3a9c4a"/>
<rect x="595.0" y="239.3" width="3.5" height="2.7" fill="#c0d8c0"/>
<rect x="644.7" y="249.7" width="1.2" height="3.7" fill="#c0d8c0"/>
<rect x="635.8" y="306.1" width="3.0" height="2.5" fill="#9ccca4"/>
<rect x="675.4" y="202.2" width="2.4" height="1.4" fill="#3a9c4a"/>
<rect x="595.4" y="331.2" width="1.4" height="3.8" fill="#48a856"/>
<rect x="645.1" y="217.5" width="2.1" height="4.0" fill="#c0d8c0"/>
<rect x="459.7" y="333.6" width="2.8" height="1.9" fill="#2a7a34"/>
<rect x="466.7" y="221.8" width="2.4" height="1.9" fill="#24803a"/>
<rect x="469.1" y="336.2" width="1.7" height="3.4" fill="#5cb868"/>
<rect x="646.4" y="234.0" width="2.3" height="2.4" fill="#9ccca4"/>
<rect x="449.7" y="220.0" width="1.7" height="2.0" fill="#2a7a34"/>
<rect x="445.7" y="227.4" width="2.9" height="2.7" fill="#1e6e2c"/>
<rect x="546.2" y="307.3" width="3.5" height="2.7" fill="#2a7a34"/>
<rect x="518.1" y="251.9" width="1.7" height="3.4" fill="#6cbc78"/>
<rect x="629.6" y="199.1" width="3.3" height="2.9" fill="#2a7a34"/>
<rect x="438.0" y="184.3" width="1.9" height="3.1" fill="#2a7a34"/>
<rect x="485.6" y="314.8" width="2.1" height="2.3" fill="#2a8c3a"/>
<rect x="445.9" y="174.4" width="2.9" height="2.8" fill="#48a856"/>
<rect x="434.3" y="236.9" width="3.2" height="2.4" fill="#3a9c4a"/>
<rect x="674.8" y="234.0" width="1.3" height="3.7" fill="#c0d8c0"/>
<rect x="522.1" y="264.0" width="3.9" height="2.4" fill="#c0d8c0"/>
<rect x="607.5" y="222.2" width="1.8" height="4.4" fill="#6cbc78"/>
<rect x="618.6" y="224.7" width="2.3" height="1.4" fill="#2a7a34"/>
<rect x="589.2" y="304.7" width="2.6" height="4.3" fill="#2a8c3a"/>
<rect x="542.2" y="315.5" width="3.2" height="2.7" fill="#9ccca4"/>
<rect x="439.7" y="228.2" width="4.5" height="1.8" fill="#24803a"/>
<rect x="596.0" y="294.9" width="2.9" height="3.9" fill="#9ccca4"/>
<rect x="498.9" y="214.0" width="3.0" height="4.3" fill="#9ccca4"/>
<rect x="479.8" y="164.4" width="3.7" height="1.6" fill="#5cb868"/>
<rect x="618.5" y="261.6" width="1.5" height="1.5" fill="#5cb868"/>
<rect x="509.3" y="320.9" width="3.9" height="1.9" fill="#2a7a34"/>
<rect x="573.4" y="347.0" width="3.5" height="2.6" fill="#5cb868"/>
<rect x="508.9" y="252.3" width="4.1" height="1.7" fill="#5cb868"/>
<rect x="557.8" y="166.2" width="1.8" height="3.0" fill="#9ccca4"/>
<rect x="566.9" y="249.6" width="2.0" height="4.0" fill="#9ccca4"/>
<rect x="487.0" y="224.6" width="3.4" height="2.2" fill="#9ccca4"/>
<rect x="474.9" y="159.4" width="4.0" height="2.0" fill="#2a7a34"/>
<rect x="592.1" y="288.6" width="3.4" height="4.3" fill="#24803a"/>
<rect x="474.8" y="330.3" width="2.4" height="3.8" fill="#2a7a34"/>
<rect x="425.2" y="162.4" width="3.4" height="3.6" fill="#c0d8c0"/>
<rect x="479.5" y="236.7" width="3.9" height="1.3" fill="#6cbc78"/>
<rect x="575.4" y="238.6" width="3.5" height="3.8" fill="#1e6e2c"/>
<rect x="469.7" y="319.9" width="1.9" height="1.9" fill="#2a8c3a"/>
<rect x="441.7" y="266.4" width="1.4" height="4.0" fill="#24803a"/>
<rect x="614.5" y="181.4" width="1.2" height="3.6" fill="#6cbc78"/>
<rect x="499.0" y="190.7" width="3.4" height="3.4" fill="#24803a"/>
<rect x="476.7" y="168.8" width="1.7" height="4.2" fill="#2a8c3a"/>
<rect x="436.0" y="193.6" width="1.9" height="1.5" fill="#48a856"/>
<rect x="532.3" y="321.2" width="3.5" height="2.7" fill="#24803a"/>
<rect x="499.2" y="194.8" width="1.3" height="4.0" fill="#c0d8c0"/>
<rect x="608.0" y="210.1" width="3.8" height="3.5" fill="#48a856"/>
<rect x="462.3" y="306.5" width="2.3" height="4.0" fill="#6cbc78"/>
<rect x="521.2" y="277.0" width="2.5" height="1.3" fill="#6cbc78"/>
<rect x="474.1" y="178.4" width="3.4" height="3.5" fill="#24803a"/>
<rect x="452.6" y="312.7" width="2.6" height="3.4" fill="#2a8c3a"/>
<rect x="592.0" y="253.4" width="3.4" height="1.9" fill="#2a8c3a"/>
<rect x="617.2" y="247.6" width="2.2" height="2.3" fill="#2a8c3a"/>
<rect x="501.5" y="265.1" width="1.9" height="2.1" fill="#2a8c3a"/>
<rect x="622.0" y="300.7" width="1.9" height="2.8" fill="#6cbc78"/>
<rect x="572.6" y="169.0" width="3.1" height="2.2" fill="#5cb868"/>
<rect x="592.8" y="158.8" width="2.3" height="4.3" fill="#3a9c4a"/>
<rect x="508.2" y="221.2" width="2.4" height="2.8" fill="#2a8c3a"/>
<rect x="440.9" y="260.2" width="3.8" height="2.2" fill="#2a8c3a"/>
<rect x="464.5" y="227.4" width="3.7" height="1.6" fill="#5cb868"/>
<rect x="448.2" y="277.1" width="1.3" height="2.9" fill="#24803a"/>
<rect x="442.7" y="292.4" width="2.6" height="4.0" fill="#24803a"/>
<rect x="446.3" y="150.0" width="2.4" height="3.4" fill="#1e6e2c"/>
<rect x="450.6" y="196.5" width="2.2" height="2.1" fill="#24803a"/>
<rect x="453.4" y="241.6" width="2.8" height="3.0" fill="#24803a"/>
<rect x="489.1" y="338.6" width="3.1" height="1.3" fill="#48a856"/>
<rect x="455.9" y="196.8" width="2.5" height="1.9" fill="#2a7a34"/>
<rect x="426.9" y="334.7" width="2.9" height="4.1" fill="#1e6e2c"/>
<rect x="477.3" y="295.9" width="3.8" height="3.5" fill="#2a8c3a"/>
<rect x="491.0" y="155.2" width="3.7" height="1.7" fill="#9ccca4"/>
<rect x="569.9" y="173.1" width="3.3" height="1.6" fill="#c0d8c0"/>
<rect x="623.8" y="251.1" width="1.9" height="2.0" fill="#5cb868"/>
<rect x="509.7" y="168.6" width="3.9" height="1.4" fill="#6cbc78"/>
<rect x="633.0" y="216.6" width="3.2" height="3.5" fill="#1e6e2c"/>
<rect x="504.9" y="334.5" width="3.2" height="1.8" fill="#9ccca4"/>
<rect x="461.5" y="249.8" width="1.3" height="3.8" fill="#24803a"/>
<rect x="459.4" y="188.4" width="1.7" height="2.3" fill="#6cbc78"/>
<rect x="440.2" y="149.6" width="3.5" height="3.5" fill="#1e6e2c"/>
<rect x="508.7" y="162.7" width="1.3" height="2.9" fill="#c0d8c0"/>
<rect x="584.1" y="317.4" width="3.3" height="1.9" fill="#9ccca4"/>
<rect x="513.6" y="181.0" width="1.5" height="3.6" fill="#1e6e2c"/>
<rect x="457.8" y="312.5" width="3.4" height="3.7" fill="#48a856"/>
<rect x="636.8" y="307.3" width="4.2" height="3.7" fill="#c0d8c0"/>
<rect x="588.9" y="335.1" width="1.7" height="2.5" fill="#2a7a34"/>
<rect x="560.6" y="335.0" width="2.2" height="4.4" fill="#2a8c3a"/>
<rect x="631.3" y="297.1" width="1.4" height="3.8" fill="#6cbc78"/>
<rect x="568.5" y="322.6" width="2.0" height="3.1" fill="#c0d8c0"/>
<rect x="605.4" y="226.4" width="4.2" height="3.5" fill="#9ccca4"/>
<rect x="665.2" y="312.1" width="3.8" height="3.5" fill="#9ccca4"/>
<rect x="595.5" y="306.6" width="4.3" height="2.0" fill="#c0d8c0"/>
<rect x="501.3" y="208.6" width="4.2" height="2.6" fill="#c0d8c0"/>
<rect x="634.0" y="232.5" width="1.3" height="1.6" fill="#c0d8c0"/>
<rect x="564.2" y="165.6" width="2.2" height="1.7" fill="#9ccca4"/>
<rect x="498.1" y="166.4" width="4.0" height="3.2" fill="#48a856"/>
<rect x="528.6" y="254.9" width="1.8" height="4.1" fill="#6cbc78"/>
<rect x="433.8" y="311.6" width="1.6" height="3.5" fill="#24803a"/>
<rect x="462.0" y="182.3" width="2.5" height="2.3" fill="#3a9c4a"/>
<rect x="652.6" y="227.0" width="4.1" height="3.2" fill="#1e6e2c"/>
<rect x="627.6" y="268.4" width="2.3" height="4.1" fill="#24803a"/>
<rect x="643.6" y="169.7" width="2.5" height="1.2" fill="#6cbc78"/>
<rect x="487.8" y="218.4" width="2.7" height="3.9" fill="#2a8c3a"/>
<rect x="616.2" y="280.5" width="4.4" height="3.6" fill="#24803a"/>
<rect x="594.1" y="163.9" width="4.3" height="4.1" fill="#c0d8c0"/>
<rect x="499.5" y="209.7" width="2.3" height="2.1" fill="#9ccca4"/>
<rect x="438.3" y="278.0" width="4.3" height="3.9" fill="#1e6e2c"/>
<rect x="437.7" y="313.1" width="2.4" height="4.4" fill="#2a8c3a"/>
<rect x="616.7" y="325.7" width="3.0" height="2.7" fill="#c0d8c0"/>
<rect x="506.7" y="176.4" width="3.7" height="1.3" fill="#48a856"/>
<rect x="572.6" y="158.2" width="1.7" height="3.1" fill="#9ccca4"/>
<rect x="677.6" y="273.1" width="1.8" height="3.1" fill="#6cbc78"/>
<rect x="531.9" y="342.7" width="2.2" height="3.0" fill="#2a8c3a"/>
<rect x="520.8" y="339.3" width="3.9" height="3.4" fill="#3a9c4a"/>
<rect x="464.7" y="263.4" width="3.5" height="2.1" fill="#5cb868"/>
<rect x="459.0" y="251.5" width="3.8" height="2.3" fill="#5cb868"/>
<rect x="467.3" y="210.6" width="1.7" height="3.6" fill="#5cb868"/>
<rect x="623.4" y="219.8" width="3.1" height="4.4" fill="#24803a"/>
<rect x="545.9" y="271.2" width="2.1" height="4.1" fill="#1e6e2c"/>
<rect x="516.5" y="212.1" width="2.5" height="3.4" fill="#1e6e2c"/>
<rect x="658.3" y="238.7" width="2.1" height="1.9" fill="#9ccca4"/>
<rect x="504.1" y="179.0" width="3.3" height="3.8" fill="#2a7a34"/>
<rect x="596.2" y="298.0" width="2.8" height="3.0" fill="#48a856"/>
<rect x="525.3" y="309.1" width="2.5" height="3.6" fill="#2a8c3a"/>
<rect x="433.7" y="312.1" width="2.1" height="3.7" fill="#c0d8c0"/>
<rect x="516.1" y="343.0" width="2.2" height="3.2" fill="#2a8c3a"/>
<rect x="577.9" y="314.2" width="4.1" height="1.5" fill="#2a8c3a"/>
<rect x="468.3" y="293.0" width="4.3" height="1.7" fill="#2a8c3a"/>
<rect x="664.9" y="296.4" width="3.8" height="2.5" fill="#3a9c4a"/>
<rect x="510.1" y="320.4" width="2.5" height="2.8" fill="#24803a"/>
<rect x="595.7" y="327.6" width="3.0" height="2.9" fill="#24803a"/>
<rect x="662.5" y="162.2" width="1.9" height="3.5" fill="#5cb868"/>
<rect x="571.5" y="228.8" width="4.0" height="3.4" fill="#c0d8c0"/>
<rect x="597.9" y="317.2" width="3.6" height="3.8" fill="#24803a"/>
<rect x="618.5" y="247.9" width="1.7" height="3.4" fill="#48a856"/>
<rect x="633.9" y="277.0" width="4.2" height="3.7" fill="#48a856"/>
<rect x="605.5" y="269.9" width="1.6" height="3.5" fill="#48a856"/>
<rect x="578.7" y="249.4" width="3.5" height="3.7" fill="#c0d8c0"/>
<rect x="447.3" y="283.6" width="1.9" height="1.9" fill="#2a8c3a"/>
<rect x="441.7" y="314.6" width="2.4" height="3.5" fill="#3a9c4a"/>
<rect x="620.9" y="237.6" width="1.9" height="2.7" fill="#2a7a34"/>
<rect x="567.1" y="309.1" width="1.4" height="2.7" fill="#5cb868"/>
<rect x="547.8" y="207.3" width="3.0" height="2.7" fill="#3a9c4a"/>
<rect x="482.1" y="259.2" width="4.4" height="3.0" fill="#6cbc78"/>
<rect x="572.5" y="289.2" width="2.1" height="4.4" fill="#6cbc78"/>
<rect x="552.8" y="233.7" width="3.8" height="1.3" fill="#2a8c3a"/>
<rect x="446.0" y="171.4" width="4.3" height="2.1" fill="#9ccca4"/>
<rect x="481.4" y="320.7" width="2.9" height="3.1" fill="#5cb868"/>
<rect x="507.7" y="342.9" width="3.9" height="4.4" fill="#2a8c3a"/>
<rect x="534.1" y="340.8" width="3.3" height="3.1" fill="#c0d8c0"/>
<rect x="472.1" y="229.0" width="2.7" height="2.3" fill="#48a856"/>
<rect x="653.9" y="152.3" width="3.7" height="1.5" fill="#6cbc78"/>
<rect x="621.9" y="188.7" width="3.8" height="3.7" fill="#48a856"/>
<rect x="659.7" y="291.1" width="3.7" height="4.3" fill="#5cb868"/>
<rect x="426.4" y="321.0" width="1.4" height="1.9" fill="#2a7a34"/>
<rect x="465.4" y="274.6" width="2.1" height="2.4" fill="#3a9c4a"/>
<rect x="468.3" y="219.9" width="2.2" height="1.3" fill="#5cb868"/>
<rect x="449.3" y="170.2" width="3.9" height="2.7" fill="#24803a"/>
<rect x="548.7" y="165.3" width="2.4" height="4.1" fill="#3a9c4a"/>
<rect x="634.4" y="174.4" width="3.8" height="2.8" fill="#2a8c3a"/>
<rect x="523.4" y="219.4" width="2.9" height="2.0" fill="#5cb868"/>
<rect x="494.4" y="311.3" width="4.3" height="1.8" fill="#2a7a34"/>
<rect x="522.2" y="309.2" width="2.6" height="3.6" fill="#9ccca4"/>
<rect x="478.5" y="265.9" width="1.6" height="1.2" fill="#9ccca4"/>
<rect x="675.7" y="166.0" width="1.3" height="3.9" fill="#5cb868"/>
<rect x="659.8" y="318.9" width="1.9" height="3.1" fill="#3a9c4a"/>
<rect x="547.9" y="274.9" width="3.3" height="4.1" fill="#6cbc78"/>
<rect x="515.1" y="324.3" width="1.2" height="1.9" fill="#2a8c3a"/>
<rect x="474.5" y="240.0" width="3.2" height="1.6" fill="#c0d8c0"/>
<rect x="657.7" y="299.5" width="4.2" height="3.5" fill="#c0d8c0"/>
<rect x="544.2" y="228.9" width="3.6" height="1.4" fill="#6cbc78"/>
<rect x="649.7" y="269.1" width="3.6" height="2.7" fill="#2a8c3a"/>
<rect x="439.1" y="196.2" width="4.2" height="3.2" fill="#6cbc78"/>
<rect x="616.6" y="193.4" width="1.2" height="3.1" fill="#5cb868"/>
<rect x="474.8" y="149.2" width="2.0" height="4.2" fill="#1e6e2c"/>
<rect x="664.6" y="192.7" width="1.4" height="2.0" fill="#5cb868"/>
<rect x="659.0" y="201.0" width="4.3" height="3.3" fill="#24803a"/>
<rect x="670.0" y="299.6" width="2.7" height="2.8" fill="#2a8c3a"/>
<rect x="465.2" y="250.0" width="1.8" height="3.9" fill="#2a8c3a"/>
<rect x="521.5" y="321.8" width="2.9" height="4.4" fill="#2a8c3a"/>
<rect x="634.1" y="248.5" width="4.0" height="3.0" fill="#c0d8c0"/>
<rect x="561.6" y="288.2" width="3.2" height="3.8" fill="#2a7a34"/>
<rect x="595.9" y="260.0" width="3.2" height="2.7" fill="#6cbc78"/>
<rect x="633.8" y="239.3" width="1.3" height="3.9" fill="#2a8c3a"/>
<rect x="595.9" y="343.1" width="3.5" height="3.6" fill="#c0d8c0"/>
<rect x="513.5" y="167.6" width="4.4" height="3.0" fill="#6cbc78"/>
<rect x="449.1" y="221.4" width="4.0" height="4.0" fill="#48a856"/>
<rect x="550.9" y="263.6" width="2.2" height="2.2" fill="#3a9c4a"/>
<rect x="442.3" y="171.7" width="3.7" height="1.2" fill="#c0d8c0"/>
<rect x="677.9" y="332.4" width="1.9" height="2.5" fill="#c0d8c0"/>
<rect x="611.8" y="305.7" width="3.3" height="4.2" fill="#5cb868"/>
<rect x="430.9" y="283.4" width="4.0" height="3.6" fill="#9ccca4"/>
<rect x="582.1" y="207.6" width="3.8" height="1.4" fill="#48a856"/>
<rect x="500.4" y="218.3" width="3.5" height="2.0" fill="#3a9c4a"/>
<rect x="465.1" y="337.6" width="2.5" height="1.7" fill="#1e6e2c"/>
<rect x="678.8" y="297.3" width="3.7" height="4.0" fill="#48a856"/>
<rect x="561.3" y="217.1" width="3.9" height="1.2" fill="#2a7a34"/>
<rect x="507.4" y="300.6" width="4.1" height="4.2" fill="#6cbc78"/>
<rect x="559.7" y="169.7" width="4.1" height="3.8" fill="#3a9c4a"/>
<rect x="439.6" y="173.2" width="2.6" height="2.3" fill="#1e6e2c"/>
<rect x="591.5" y="255.6" width="1.7" height="3.0" fill="#9ccca4"/>
<rect x="622.3" y="274.1" width="4.3" height="2.9" fill="#6cbc78"/>
<rect x="652.5" y="289.9" width="1.9" height="3.7" fill="#9ccca4"/>
<rect x="468.4" y="235.1" width="3.6" height="4.5" fill="#24803a"/>
<rect x="616.9" y="198.0" width="3.5" height="3.7" fill="#48a856"/>
<rect x="645.3" y="276.9" width="4.4" height="1.5" fill="#c0d8c0"/>
<rect x="574.7" y="278.7" width="4.4" height="3.3" fill="#c0d8c0"/>
<rect x="443.2" y="293.8" width="1.4" height="2.5" fill="#2a7a34"/>
<rect x="459.9" y="171.4" width="1.2" height="2.4" fill="#1e6e2c"/>
<rect x="649.2" y="331.4" width="3.3" height="2.9" fill="#1e6e2c"/>
<rect x="501.6" y="230.6" width="1.8" height="1.5" fill="#24803a"/>
<rect x="447.5" y="333.0" width="2.7" height="3.6" fill="#3a9c4a"/>
<rect x="523.4" y="305.2" width="2.3" height="1.9" fill="#2a8c3a"/>
<rect x="595.4" y="203.7" width="4.0" height="3.8" fill="#5cb868"/>
<rect x="446.0" y="305.1" width="4.0" height="1.4" fill="#c0d8c0"/>
<rect x="434.8" y="244.8" width="2.2" height="2.1" fill="#5cb868"/>
<rect x="570.3" y="193.1" width="2.5" height="3.4" fill="#2a8c3a"/>
<rect x="663.9" y="335.2" width="2.2" height="2.1" fill="#3a9c4a"/>
<rect x="458.8" y="304.6" width="2.4" height="3.6" fill="#48a856"/>
<rect x="594.5" y="322.8" width="2.4" height="1.7" fill="#24803a"/>
<rect x="621.0" y="193.5" width="2.1" height="2.5" fill="#6cbc78"/>
<rect x="642.1" y="196.5" width="4.1" height="3.7" fill="#1e6e2c"/>
<rect x="448.8" y="224.4" width="2.1" height="1.2" fill="#3a9c4a"/>
<rect x="536.5" y="172.1" width="2.0" height="1.3" fill="#1e6e2c"/>
<rect x="527.4" y="245.1" width="3.0" height="2.8" fill="#24803a"/>
<rect x="438.6" y="186.9" width="4.2" height="2.6" fill="#48a856"/>
<rect x="665.2" y="259.0" width="2.4" height="2.7" fill="#2a8c3a"/>
<rect x="478.7" y="270.1" width="2.9" height="2.8" fill="#9ccca4"/>
<rect x="559.2" y="196.2" width="1.6" height="4.3" fill="#24803a"/>
<rect x="449.2" y="243.9" width="2.9" height="2.2" fill="#1e6e2c"/>
<rect x="610.8" y="163.8" width="4.2" height="2.7" fill="#1e6e2c"/>
<rect x="495.3" y="306.4" width="3.3" height="1.5" fill="#2a8c3a"/>
<rect x="547.9" y="184.4" width="1.6" height="4.4" fill="#5cb868"/>
<rect x="655.6" y="275.9" width="3.3" height="3.9" fill="#5cb868"/>
<rect x="551.8" y="269.4" width="3.0" height="2.0" fill="#3a9c4a"/>
<rect x="668.2" y="295.0" width="1.7" height="3.9" fill="#3a9c4a"/>
<rect x="603.3" y="152.1" width="3.4" height="3.3" fill="#1e6e2c"/>
<rect x="478.7" y="156.2" width="4.2" height="1.5" fill="#1e6e2c"/>
<rect x="501.1" y="210.9" width="4.4" height="4.0" fill="#6cbc78"/>
<rect x="597.3" y="151.5" width="4.3" height="2.5" fill="#1e6e2c"/>
<rect x="555.5" y="337.0" width="2.0" height="2.8" fill="#1e6e2c"/>
<rect x="656.4" y="187.3" width="3.4" height="1.9" fill="#1e6e2c"/>
<rect x="541.3" y="193.5" width="1.9" height="4.5" fill="#3a9c4a"/>
<rect x="530.3" y="290.2" width="1.3" height="1.8" fill="#c0d8c0"/>
<rect x="637.1" y="149.0" width="2.4" height="1.7" fill="#c0d8c0"/>
<rect x="545.1" y="257.4" width="3.9" height="3.2" fill="#9ccca4"/>
<rect x="454.3" y="340.1" width="1.7" height="2.0" fill="#24803a"/>
<rect x="457.7" y="212.1" width="4.2" height="4.5" fill="#5cb868"/>
<rect x="443.8" y="311.6" width="1.8" height="2.6" fill="#9ccca4"/>
<rect x="480.7" y="178.8" width="2.0" height="3.1" fill="#48a856"/>
<rect x="447.3" y="235.0" width="4.4" height="3.5" fill="#2a8c3a"/>
<rect x="441.1" y="297.3" width="4.4" height="4.2" fill="#24803a"/>
<rect x="559.0" y="317.4" width="4.1" height="2.6" fill="#2a7a34"/>
<rect x="551.8" y="254.2" width="3.1" height="2.7" fill="#3a9c4a"/>
<rect x="472.5" y="163.9" width="4.2" height="4.4" fill="#48a856"/>
<rect x="601.5" y="199.9" width="3.1" height="1.8" fill="#6cbc78"/>
<rect x="489.5" y="310.7" width="2.6" height="4.4" fill="#5cb868"/>
<rect x="596.2" y="307.5" width="3.3" height="2.8" fill="#5cb868"/>
<rect x="619.5" y="338.9" width="2.7" height="2.3" fill="#24803a"/>
<rect x="673.8" y="343.4" width="2.7" height="2.3" fill="#2a8c3a"/>
<rect x="528.0" y="340.5" width="4.4" height="1.9" fill="#6cbc78"/>
<rect x="521.3" y="246.6" width="2.4" height="3.5" fill="#3a9c4a"/>
<rect x="478.8" y="202.0" width="1.6" height="1.9" fill="#5cb868"/>
<rect x="582.0" y="276.3" width="2.9" height="4.1" fill="#1e6e2c"/>
<rect x="571.8" y="219.0" width="3.1" height="4.3" fill="#9ccca4"/>
<rect x="602.4" y="282.3" width="2.2" height="3.9" fill="#24803a"/>
<rect x="585.7" y="207.3" width="2.5" height="1.6" fill="#2a7a34"/>
<rect x="604.6" y="340.0" width="3.3" height="3.3" fill="#6cbc78"/>
<rect x="590.7" y="181.2" width="2.4" height="4.0" fill="#2a8c3a"/>
<rect x="648.6" y="265.0" width="3.2" height="4.0" fill="#6cbc78"/>
<rect x="528.9" y="259.9" width="4.2" height="3.2" fill="#5cb868"/>
<rect x="468.0" y="288.0" width="1.4" height="1.2" fill="#5cb868"/>
<rect x="656.5" y="305.5" width="1.8" height="1.8" fill="#6cbc78"/>
<rect x="665.8" y="342.4" width="1.3" height="1.6" fill="#24803a"/>
<rect x="513.1" y="207.2" width="2.8" height="1.4" fill="#1e6e2c"/>
<rect x="661.2" y="201.5" width="4.1" height="2.3" fill="#48a856"/>
<rect x="603.8" y="201.0" width="1.5" height="3.3" fill="#3a9c4a"/>
<rect x="471.7" y="333.1" width="2.3" height="2.8" fill="#2a7a34"/>
<rect x="638.7" y="232.4" width="3.9" height="3.7" fill="#48a856"/>
<rect x="628.2" y="308.6" width="3.6" height="2.0" fill="#2a8c3a"/>
<rect x="629.1" y="239.1" width="1.4" height="1.7" fill="#1e6e2c"/>
<rect x="447.0" y="281.1" width="3.8" height="2.0" fill="#c0d8c0"/>
<rect x="664.2" y="192.1" width="2.6" height="1.2" fill="#1e6e2c"/>
<rect x="532.7" y="255.1" width="2.0" height="2.1" fill="#5cb868"/>
<rect x="480.4" y="206.4" width="1.3" height="3.6" fill="#1e6e2c"/>
<rect x="475.7" y="210.2" width="3.2" height="4.2" fill="#48a856"/>
<rect x="543.1" y="216.6" width="1.6" height="1.4" fill="#48a856"/>
<rect x="502.2" y="302.4" width="2.5" height="2.9" fill="#3a9c4a"/>
<rect x="556.3" y="179.2" width="1.5" height="1.4" fill="#6cbc78"/>
<rect x="453.9" y="249.9" width="2.7" height="1.9" fill="#2a7a34"/>
<rect x="545.4" y="210.4" width="4.1" height="3.5" fill="#2a8c3a"/>
<rect x="523.4" y="245.5" width="1.6" height="1.4" fill="#48a856"/>
<rect x="538.6" y="317.8" width="3.9" height="2.9" fill="#9ccca4"/>
<rect x="538.0" y="333.2" width="3.7" height="2.4" fill="#3a9c4a"/>
<rect x="540.5" y="276.0" width="3.2" height="1.5" fill="#48a856"/>
<rect x="667.7" y="258.8" width="1.6" height="4.0" fill="#2a8c3a"/>
<rect x="500.5" y="162.6" width="2.7" height="3.2" fill="#3a9c4a"/>
<rect x="524.8" y="167.8" width="2.6" height="1.5" fill="#5cb868"/>
<rect x="597.1" y="253.3" width="1.3" height="4.2" fill="#2a8c3a"/>
<rect x="579.2" y="229.1" width="2.2" height="3.9" fill="#6cbc78"/>
<rect x="533.4" y="215.7" width="1.8" height="3.7" fill="#2a8c3a"/>
<rect x="564.8" y="167.2" width="4.1" height="2.7" fill="#9ccca4"/>
<rect x="579.0" y="205.8" width="2.8" height="4.4" fill="#1e6e2c"/>
<rect x="626.5" y="298.2" width="2.5" height="1.9" fill="#1e6e2c"/>
<rect x="510.9" y="197.9" width="1.6" height="3.9" fill="#48a856"/>
<rect x="602.5" y="341.4" width="2.9" height="3.9" fill="#c0d8c0"/>
<rect x="615.7" y="217.1" width="2.3" height="1.8" fill="#6cbc78"/>
<rect x="423.0" y="195.3" width="3.4" height="1.4" fill="#3a9c4a"/>
<rect x="580.6" y="326.4" width="1.2" height="3.7" fill="#3a9c4a"/>
<rect x="651.3" y="337.7" width="2.0" height="2.2" fill="#48a856"/>
<rect x="520.8" y="170.9" width="2.4" height="2.4" fill="#6cbc78"/>
<rect x="619.5" y="301.1" width="1.2" height="3.4" fill="#c0d8c0"/>
<rect x="659.6" y="309.0" width="3.7" height="2.0" fill="#24803a"/>
<rect x="488.2" y="278.3" width="3.7" height="3.9" fill="#9ccca4"/>
<rect x="485.0" y="290.8" width="2.6" height="2.2" fill="#5cb868"/>
<rect x="642.3" y="322.1" width="2.3" height="4.0" fill="#24803a"/>
<rect x="647.4" y="255.7" width="4.0" height="4.4" fill="#5cb868"/>
<rect x="674.8" y="335.4" width="3.8" height="4.0" fill="#1e6e2c"/>
<rect x="646.7" y="191.2" width="3.8" height="3.8" fill="#3a9c4a"/>
<rect x="453.6" y="326.0" width="2.4" height="1.4" fill="#5cb868"/>
<rect x="440.5" y="296.9" width="1.9" height="1.4" fill="#6cbc78"/>
<rect x="503.0" y="243.2" width="4.0" height="3.3" fill="#9ccca4"/>
<rect x="654.5" y="242.0" width="2.2" height="3.3" fill="#3a9c4a"/>
<rect x="647.9" y="262.9" width="3.6" height="2.2" fill="#2a8c3a"/>
<rect x="654.0" y="162.4" width="3.2" height="4.5" fill="#1e6e2c"/>
<rect x="595.0" y="189.9" width="2.6" height="4.1" fill="#3a9c4a"/>
<rect x="593.0" y="318.8" width="3.0" height="4.3" fill="#c0d8c0"/>
<rect x="535.3" y="291.0" width="1.3" height="3.1" fill="#9ccca4"/>
<rect x="497.6" y="251.6" width="4.5" height="1.8" fill="#3a9c4a"/>
<rect x="579.7" y="160.4" width="1.5" height="3.8" fill="#3a9c4a"/>
<rect x="534.4" y="223.8" width="4.1" height="4.5" fill="#2a8c3a"/>
<rect x="500.5" y="214.5" width="4.3" height="1.9" fill="#24803a"/>
<rect x="425.8" y="320.9" width="2.8" height="3.7" fill="#c0d8c0"/>
<rect x="567.0" y="305.3" width="4.4" height="4.5" fill="#24803a"/>
<rect x="651.3" y="171.3" width="1.3" height="3.3" fill="#c0d8c0"/>
<rect x="476.6" y="153.6" width="2.4" height="4.2" fill="#2a7a34"/>
<rect x="606.1" y="191.5" width="4.0" height="3.6" fill="#1e6e2c"/>
<rect x="459.9" y="273.9" width="4.3" height="3.0" fill="#5cb868"/>
<rect x="490.0" y="203.6" width="2.6" height="3.2" fill="#9ccca4"/>
<rect x="437.0" y="302.0" width="1.9" height="3.3" fill="#3a9c4a"/>
<rect x="624.0" y="256.3" width="4.2" height="1.7" fill="#6cbc78"/>
<rect x="578.6" y="329.1" width="2.9" height="1.8" fill="#6cbc78"/>
<rect x="451.2" y="240.3" width="4.4" height="3.6" fill="#c0d8c0"/>
<rect x="638.8" y="333.0" width="3.5" height="2.1" fill="#5cb868"/>
<rect x="647.4" y="322.5" width="2.8" height="1.2" fill="#2a7a34"/>
<rect x="541.5" y="276.3" width="3.4" height="1.7" fill="#2a7a34"/>
<rect x="486.4" y="188.2" width="2.3" height="3.7" fill="#24803a"/>
<rect x="535.0" y="210.6" width="4.1" height="2.4" fill="#6cbc78"/>
<rect x="575.3" y="173.8" width="2.7" height="1.7" fill="#48a856"/>
<rect x="537.0" y="341.9" width="1.8" height="2.8" fill="#1e6e2c"/>
<rect x="556.9" y="242.8" width="2.8" height="2.1" fill="#2a7a34"/>
<rect x="442.0" y="288.7" width="1.7" height="1.8" fill="#2a8c3a"/>
<rect x="532.9" y="218.9" width="2.5" height="2.4" fill="#9ccca4"/>
<rect x="638.1" y="257.6" width="3.3" height="2.7" fill="#5cb868"/>
<rect x="514.1" y="273.4" width="4.0" height="3.6" fill="#9ccca4"/>
<rect x="463.2" y="278.0" width="4.3" height="3.2" fill="#5cb868"/>
<rect x="516.9" y="318.7" width="4.3" height="1.7" fill="#3a9c4a"/>
<rect x="510.7" y="335.7" width="3.1" height="3.4" fill="#2a7a34"/>
<rect x="496.7" y="175.9" width="3.0" height="3.3" fill="#5cb868"/>
<rect x="536.6" y="203.1" width="3.2" height="3.9" fill="#2a7a34"/>
<rect x="559.6" y="333.6" width="4.2" height="2.4" fill="#1e6e2c"/>
<rect x="581.2" y="261.5" width="1.6" height="2.0" fill="#48a856"/>
<rect x="440.5" y="308.8" width="1.3" height="3.8" fill="#2a7a34"/>
<rect x="497.8" y="246.5" width="1.2" height="4.1" fill="#9ccca4"/>
<rect x="438.4" y="309.4" width="1.3" height="1.8" fill="#24803a"/>
<rect x="536.0" y="173.3" width="2.2" height="1.9" fill="#2a8c3a"/>
<rect x="659.6" y="166.7" width="4.3" height="3.0" fill="#24803a"/>
<rect x="616.3" y="320.0" width="2.6" height="1.8" fill="#9ccca4"/>
<rect x="606.2" y="184.5" width="2.6" height="3.3" fill="#24803a"/>
<rect x="437.4" y="173.8" width="4.4" height="1.3" fill="#5cb868"/>
<rect x="466.6" y="240.5" width="2.3" height="3.5" fill="#2a8c3a"/>
<rect x="597.3" y="340.8" width="1.8" height="3.2" fill="#3a9c4a"/>
<rect x="507.4" y="229.6" width="1.6" height="4.0" fill="#1e6e2c"/>
<rect x="590" y="168" width="92" height="112" fill="#7a9482" opacity="0.55" filter="url(#big)"/>
<rect x="680.9" y="245.2" width="1.6" height="3.4" fill="#a0b8a0"/>
<rect x="661.7" y="236.2" width="1.4" height="3.2" fill="#8aa890"/>
<rect x="671.8" y="254.6" width="2.1" height="2.6" fill="#8aa890"/>
<rect x="642.6" y="203.3" width="2.1" height="3.2" fill="#5a9a62"/>
<rect x="589.6" y="255.9" width="2.3" height="1.4" fill="#a0b8a0"/>
<rect x="600.0" y="238.8" width="2.2" height="2.7" fill="#8aa890"/>
<rect x="652.0" y="186.8" width="3.1" height="1.9" fill="#5a9a62"/>
<rect x="676.4" y="274.9" width="2.8" height="2.0" fill="#a0b8a0"/>
<rect x="610.9" y="269.0" width="1.8" height="1.9" fill="#8aa890"/>
<rect x="615.1" y="251.6" width="3.5" height="2.7" fill="#6a8a70"/>
<rect x="639.5" y="227.9" width="3.0" height="1.8" fill="#6a8a70"/>
<rect x="631.7" y="259.1" width="3.1" height="3.5" fill="#8aa890"/>
<rect x="640.4" y="268.5" width="1.4" height="2.9" fill="#5a9a62"/>
<rect x="641.1" y="180.5" width="2.8" height="1.0" fill="#5a9a62"/>
<rect x="668.9" y="216.1" width="1.7" height="1.3" fill="#6a8a70"/>
<rect x="620.7" y="169.1" width="1.2" height="2.1" fill="#6a8a70"/>
<rect x="611.8" y="207.4" width="1.5" height="2.6" fill="#5a9a62"/>
<rect x="646.6" y="196.7" width="2.9" height="2.7" fill="#24342a"/>
<rect x="630.4" y="178.5" width="2.0" height="3.4" fill="#a0b8a0"/>
<rect x="642.2" y="264.7" width="3.0" height="1.7" fill="#a0b8a0"/>
<rect x="667.5" y="194.6" width="1.9" height="3.1" fill="#8aa890"/>
<rect x="592.8" y="256.7" width="2.1" height="1.1" fill="#8aa890"/>
<rect x="669.5" y="174.2" width="1.5" height="2.5" fill="#6a8a70"/>
<rect x="602.8" y="180.5" width="1.9" height="3.3" fill="#4a6a50"/>
<rect x="609.8" y="183.7" width="2.6" height="3.1" fill="#2e4a34"/>
<rect x="609.0" y="269.1" width="2.2" height="3.0" fill="#2e4a34"/>
<rect x="614.2" y="277.8" width="1.4" height="3.5" fill="#4a6a50"/>
<rect x="666.6" y="215.9" width="2.6" height="2.3" fill="#4a6a50"/>
<rect x="615.0" y="171.9" width="2.0" height="2.2" fill="#5a9a62"/>
<rect x="664.3" y="275.5" width="1.6" height="2.2" fill="#6a8a70"/>
<rect x="638.5" y="211.3" width="1.4" height="2.7" fill="#a0b8a0"/>
<rect x="629.5" y="271.2" width="3.3" height="3.2" fill="#24342a"/>
<rect x="679.2" y="202.7" width="1.2" height="2.2" fill="#24342a"/>
<rect x="676.0" y="278.0" width="3.2" height="1.9" fill="#a0b8a0"/>
<rect x="616.6" y="231.6" width="2.2" height="1.7" fill="#a0b8a0"/>
<rect x="604.7" y="179.4" width="1.8" height="1.1" fill="#6a8a70"/>
<rect x="659.6" y="273.0" width="2.1" height="1.9" fill="#24342a"/>
<rect x="603.9" y="273.9" width="2.2" height="3.3" fill="#a0b8a0"/>
<rect x="613.9" y="276.0" width="1.9" height="2.5" fill="#2e4a34"/>
<rect x="625.0" y="189.0" width="2.8" height="2.5" fill="#4a6a50"/>
<rect x="596.4" y="261.0" width="1.5" height="2.3" fill="#4a6a50"/>
<rect x="679.5" y="242.1" width="2.7" height="3.3" fill="#8aa890"/>
<rect x="593.4" y="196.9" width="1.7" height="3.4" fill="#8aa890"/>
<rect x="653.0" y="226.3" width="2.3" height="1.9" fill="#a0b8a0"/>
<rect x="602.4" y="261.1" width="1.0" height="1.5" fill="#4a6a50"/>
<rect x="641.5" y="250.6" width="1.5" height="1.3" fill="#24342a"/>
<rect x="679.6" y="168.1" width="2.7" height="2.0" fill="#5a9a62"/>
<rect x="611.2" y="181.9" width="1.3" height="2.9" fill="#24342a"/>
<rect x="587.6" y="171.3" width="3.2" height="1.1" fill="#5a9a62"/>
<rect x="600.4" y="248.0" width="2.6" height="2.6" fill="#a0b8a0"/>
<rect x="609.5" y="181.1" width="1.9" height="3.3" fill="#a0b8a0"/>
<rect x="662.0" y="179.4" width="1.4" height="1.3" fill="#6a8a70"/>
<rect x="638.7" y="212.3" width="2.3" height="2.4" fill="#8aa890"/>
<rect x="598.4" y="271.8" width="2.8" height="1.6" fill="#8aa890"/>
<rect x="608.3" y="175.5" width="1.6" height="3.1" fill="#3a5a40"/>
<rect x="630.5" y="169.8" width="2.5" height="2.1" fill="#8aa890"/>
<rect x="673.5" y="234.3" width="2.1" height="2.3" fill="#a0b8a0"/>
<rect x="659.7" y="252.0" width="1.5" height="1.6" fill="#24342a"/>
<rect x="614.4" y="223.9" width="2.6" height="2.1" fill="#3a5a40"/>
<rect x="614.4" y="202.5" width="1.6" height="1.4" fill="#4a6a50"/>
<rect x="600.8" y="170.2" width="2.8" height="2.1" fill="#4a6a50"/>
<rect x="655.2" y="258.5" width="3.5" height="2.8" fill="#8aa890"/>
<rect x="589.6" y="225.4" width="1.7" height="1.1" fill="#2e4a34"/>
<rect x="649.1" y="215.1" width="2.3" height="1.4" fill="#3a5a40"/>
<rect x="585.3" y="190.3" width="1.2" height="3.3" fill="#5a9a62"/>
<rect x="636.9" y="198.1" width="1.3" height="2.0" fill="#24342a"/>
<rect x="649.5" y="190.7" width="1.8" height="1.7" fill="#5a9a62"/>
<rect x="591.6" y="174.7" width="2.0" height="3.1" fill="#8aa890"/>
<rect x="673.0" y="176.3" width="2.4" height="3.5" fill="#3a5a40"/>
<rect x="674.1" y="230.1" width="1.6" height="1.2" fill="#3a5a40"/>
<rect x="663.4" y="218.8" width="1.7" height="3.3" fill="#a0b8a0"/>
<rect x="648.9" y="167.9" width="1.2" height="2.1" fill="#a0b8a0"/>
<rect x="589.3" y="246.2" width="2.4" height="3.4" fill="#4a6a50"/>
<rect x="590.2" y="232.2" width="1.3" height="1.8" fill="#6a8a70"/>
<rect x="620.3" y="246.4" width="1.9" height="2.7" fill="#6a8a70"/>
<rect x="602.4" y="180.2" width="1.4" height="2.1" fill="#5a9a62"/>
<rect x="599.7" y="264.8" width="3.2" height="2.6" fill="#4a6a50"/>
<rect x="649.9" y="165.4" width="1.3" height="2.0" fill="#8aa890"/>
<rect x="614.0" y="233.3" width="3.2" height="1.2" fill="#3a5a40"/>
<rect x="674.6" y="229.7" width="3.4" height="2.6" fill="#2e4a34"/>
<rect x="655.0" y="179.6" width="1.8" height="1.5" fill="#24342a"/>
<rect x="606.3" y="196.8" width="2.3" height="2.5" fill="#a0b8a0"/>
<rect x="648.6" y="186.3" width="2.3" height="2.0" fill="#6a8a70"/>
<rect x="652.8" y="254.1" width="1.7" height="2.9" fill="#3a5a40"/>
<rect x="634.2" y="207.7" width="1.6" height="3.3" fill="#6a8a70"/>
<rect x="588.1" y="194.3" width="1.7" height="3.1" fill="#24342a"/>
<rect x="628.0" y="206.3" width="2.8" height="1.5" fill="#6a8a70"/>
<rect x="619.5" y="240.7" width="2.1" height="1.2" fill="#2e4a34"/>
<rect x="654.5" y="194.4" width="3.5" height="2.1" fill="#24342a"/>
<rect x="590.8" y="206.6" width="2.7" height="1.7" fill="#8aa890"/>
<rect x="670.4" y="264.4" width="2.1" height="2.5" fill="#6a8a70"/>
<rect x="617.0" y="177.5" width="3.0" height="1.6" fill="#a0b8a0"/>
<rect x="610.8" y="221.1" width="2.2" height="1.9" fill="#a0b8a0"/>
<rect x="667.2" y="215.0" width="3.2" height="3.1" fill="#5a9a62"/>
<rect x="647.0" y="247.4" width="1.4" height="1.4" fill="#24342a"/>
<rect x="667.1" y="202.7" width="1.7" height="3.3" fill="#a0b8a0"/>
<rect x="603.2" y="253.8" width="3.2" height="2.1" fill="#24342a"/>
<rect x="611.0" y="224.1" width="2.3" height="1.3" fill="#6a8a70"/>
<rect x="602.6" y="255.0" width="3.5" height="2.0" fill="#24342a"/>
<rect x="597.3" y="169.0" width="1.3" height="1.8" fill="#2e4a34"/>
<rect x="640.3" y="191.5" width="1.5" height="2.4" fill="#4a6a50"/>
<rect x="672.7" y="191.6" width="1.5" height="3.1" fill="#24342a"/>
<rect x="634.9" y="262.4" width="1.3" height="2.4" fill="#4a6a50"/>
<rect x="605.4" y="201.0" width="2.3" height="1.3" fill="#5a9a62"/>
<rect x="606.6" y="203.5" width="3.3" height="1.0" fill="#5a9a62"/>
<rect x="608.5" y="231.9" width="1.6" height="3.1" fill="#5a9a62"/>
<rect x="637.5" y="199.8" width="2.6" height="2.3" fill="#3a5a40"/>
<rect x="678.8" y="171.2" width="2.9" height="2.2" fill="#5a9a62"/>
<rect x="601.8" y="233.6" width="2.2" height="2.5" fill="#3a5a40"/>
<rect x="661.5" y="177.0" width="2.4" height="2.0" fill="#6a8a70"/>
<rect x="674.3" y="265.2" width="2.9" height="2.9" fill="#6a8a70"/>
<rect x="585.2" y="175.8" width="2.2" height="1.5" fill="#4a6a50"/>
<rect x="624.6" y="217.8" width="1.5" height="1.0" fill="#24342a"/>
<rect x="601.2" y="223.0" width="2.3" height="3.5" fill="#3a5a40"/>
<rect x="637.3" y="190.4" width="1.3" height="1.7" fill="#5a9a62"/>
<rect x="644.1" y="229.9" width="1.9" height="1.8" fill="#6a8a70"/>
<rect x="653.1" y="261.5" width="2.9" height="2.5" fill="#24342a"/>
<rect x="616.2" y="202.7" width="2.6" height="2.3" fill="#4a6a50"/>
<rect x="677.0" y="206.5" width="1.8" height="2.0" fill="#5a9a62"/>
<rect x="604.2" y="225.3" width="1.0" height="3.5" fill="#24342a"/>
<rect x="660.8" y="217.8" width="2.0" height="1.6" fill="#24342a"/>
<rect x="620.8" y="267.8" width="3.0" height="1.1" fill="#24342a"/>
<rect x="632.4" y="219.0" width="2.7" height="2.7" fill="#2e4a34"/>
<rect x="601.7" y="186.6" width="2.4" height="1.2" fill="#a0b8a0"/>
<rect x="647.7" y="264.2" width="2.8" height="2.9" fill="#6a8a70"/>
<rect x="631.2" y="236.3" width="2.4" height="1.3" fill="#a0b8a0"/>
<rect x="604.4" y="277.2" width="1.7" height="1.8" fill="#2e4a34"/>
<rect x="615.5" y="179.4" width="2.7" height="2.9" fill="#24342a"/>
<rect x="600.7" y="171.8" width="2.2" height="2.4" fill="#4a6a50"/>
<rect x="642.3" y="243.8" width="1.2" height="2.6" fill="#a0b8a0"/>
<rect x="602.1" y="259.3" width="1.7" height="3.1" fill="#8aa890"/>
<rect x="627.7" y="259.5" width="1.0" height="3.2" fill="#3a5a40"/>
<rect x="604.4" y="267.3" width="2.3" height="3.2" fill="#24342a"/>
<rect x="620.6" y="270.2" width="2.5" height="1.3" fill="#8aa890"/>
<rect x="600.2" y="198.9" width="2.6" height="1.3" fill="#6a8a70"/>
<rect x="593.4" y="188.4" width="1.8" height="2.8" fill="#3a5a40"/>
<rect x="637.8" y="165.6" width="2.5" height="3.4" fill="#8aa890"/>
<rect x="593.7" y="271.8" width="2.8" height="1.6" fill="#3a5a40"/>
<rect x="598.7" y="244.6" width="2.5" height="3.2" fill="#3a5a40"/>
<rect x="664.7" y="272.1" width="1.9" height="3.0" fill="#2e4a34"/>
<rect x="665.0" y="193.3" width="1.7" height="2.9" fill="#6a8a70"/>
<rect x="605.9" y="275.1" width="2.0" height="1.6" fill="#24342a"/>
<rect x="631.5" y="236.9" width="2.2" height="1.9" fill="#24342a"/>
<rect x="632.6" y="270.5" width="2.0" height="1.4" fill="#5a9a62"/>
<rect x="626.1" y="186.1" width="1.4" height="2.9" fill="#2e4a34"/>
<rect x="653.7" y="205.8" width="3.0" height="1.5" fill="#4a6a50"/>
<rect x="596.7" y="197.5" width="1.7" height="1.9" fill="#2e4a34"/>
<rect x="668.9" y="199.5" width="1.8" height="3.0" fill="#a0b8a0"/>
<rect x="644.9" y="179.4" width="2.4" height="2.5" fill="#a0b8a0"/>
<rect x="660.7" y="242.2" width="1.7" height="3.2" fill="#3a5a40"/>
<rect x="676.4" y="186.6" width="2.1" height="2.7" fill="#4a6a50"/>
<rect x="671.6" y="201.7" width="1.4" height="1.4" fill="#5a9a62"/>
<rect x="602.6" y="231.8" width="2.0" height="1.4" fill="#2e4a34"/>
<rect x="603.7" y="239.0" width="1.4" height="2.5" fill="#3a5a40"/>
<rect x="673.3" y="188.1" width="3.1" height="1.0" fill="#8aa890"/>
<rect x="594.7" y="214.8" width="3.2" height="2.6" fill="#6a8a70"/>
<rect x="674.7" y="184.7" width="2.6" height="2.5" fill="#24342a"/>
<rect x="591.3" y="238.9" width="1.9" height="2.2" fill="#6a8a70"/>
<rect x="655.8" y="176.6" width="1.4" height="2.4" fill="#8aa890"/>
<rect x="609.7" y="261.3" width="1.5" height="1.5" fill="#6a8a70"/>
<rect x="613.7" y="218.2" width="2.2" height="1.6" fill="#24342a"/>
<rect x="624.9" y="250.8" width="1.6" height="3.2" fill="#8aa890"/>
<rect x="628.7" y="221.0" width="1.3" height="2.9" fill="#8aa890"/>
<rect x="588.5" y="252.4" width="3.5" height="1.5" fill="#5a9a62"/>
<rect x="606.3" y="212.9" width="2.6" height="2.3" fill="#3a5a40"/>
<rect x="635.6" y="251.8" width="2.7" height="2.5" fill="#6a8a70"/>
<rect x="671.1" y="211.9" width="1.4" height="2.0" fill="#8aa890"/>
<rect x="640.0" y="193.2" width="2.4" height="2.2" fill="#4a6a50"/>
<rect x="670.2" y="277.6" width="1.2" height="1.9" fill="#8aa890"/>
<rect x="600.2" y="187.1" width="1.6" height="2.2" fill="#a0b8a0"/>
<rect x="645.3" y="272.3" width="3.2" height="2.1" fill="#a0b8a0"/>
<rect x="647.7" y="167.5" width="2.6" height="2.6" fill="#3a5a40"/>
<rect x="607.0" y="172.8" width="2.8" height="2.3" fill="#8aa890"/>
<rect x="660.4" y="200.2" width="2.7" height="1.7" fill="#a0b8a0"/>
<rect x="591.6" y="271.9" width="1.3" height="2.8" fill="#8aa890"/>
<rect x="652.0" y="235.1" width="2.9" height="3.3" fill="#5a9a62"/>
<rect x="629.0" y="221.4" width="3.2" height="1.3" fill="#3a5a40"/>
<rect x="606.9" y="276.3" width="2.0" height="2.1" fill="#24342a"/>
<rect x="621.3" y="224.3" width="2.2" height="2.8" fill="#6a8a70"/>
<rect x="646.9" y="195.1" width="3.1" height="2.5" fill="#2e4a34"/>
<rect x="643.9" y="206.6" width="1.4" height="2.0" fill="#a0b8a0"/>
<rect x="671.1" y="192.1" width="2.1" height="3.3" fill="#8aa890"/>
<rect x="627.6" y="271.1" width="2.0" height="1.1" fill="#6a8a70"/>
<rect x="657.3" y="176.8" width="3.3" height="2.1" fill="#4a6a50"/>
<rect x="663.5" y="258.0" width="2.0" height="2.3" fill="#24342a"/>
<rect x="586.5" y="182.4" width="1.3" height="2.2" fill="#2e4a34"/>
<rect x="637.7" y="233.9" width="2.6" height="3.0" fill="#4a6a50"/>
<rect x="625.3" y="193.7" width="1.3" height="3.1" fill="#2e4a34"/>
<rect x="639.2" y="275.9" width="1.8" height="3.4" fill="#5a9a62"/>
<rect x="595.8" y="214.6" width="1.8" height="1.1" fill="#2e4a34"/>
<rect x="611.5" y="221.7" width="2.5" height="2.8" fill="#a0b8a0"/>
<rect x="628.6" y="202.7" width="2.4" height="1.1" fill="#6a8a70"/>
<rect x="594.0" y="224.2" width="2.6" height="2.3" fill="#24342a"/>
<rect x="634.1" y="223.3" width="1.6" height="1.3" fill="#6a8a70"/>
<rect x="670.7" y="196.5" width="1.9" height="2.0" fill="#2e4a34"/>
<rect x="609.3" y="257.5" width="3.5" height="3.4" fill="#2e4a34"/>
<rect x="597.4" y="257.8" width="1.3" height="2.4" fill="#8aa890"/>
<rect x="602.0" y="194.5" width="1.2" height="3.2" fill="#2e4a34"/>
<rect x="647.5" y="199.7" width="2.0" height="1.4" fill="#4a6a50"/>
<rect x="636.0" y="213.0" width="1.5" height="2.6" fill="#2e4a34"/>
<rect x="649.8" y="187.5" width="3.4" height="2.0" fill="#6a8a70"/>
<rect x="634.5" y="186.5" width="2.0" height="2.4" fill="#a0b8a0"/>
<rect x="678.9" y="218.1" width="3.4" height="2.9" fill="#4a6a50"/>
<rect x="653.9" y="272.1" width="1.6" height="2.9" fill="#24342a"/>
<rect x="659.7" y="219.8" width="3.2" height="1.7" fill="#6a8a70"/>
<rect x="670.0" y="185.9" width="2.5" height="3.5" fill="#a0b8a0"/>
<rect x="639.9" y="189.5" width="1.4" height="1.4" fill="#24342a"/>
<rect x="598.6" y="228.2" width="3.2" height="2.3" fill="#24342a"/>
<rect x="592.8" y="188.7" width="3.4" height="1.7" fill="#8aa890"/>
<rect x="629.1" y="215.9" width="3.4" height="1.5" fill="#5a9a62"/>
<rect x="674.8" y="211.7" width="3.0" height="1.2" fill="#2e4a34"/>
<rect x="653.8" y="232.4" width="1.1" height="1.2" fill="#4a6a50"/>
<rect x="678.5" y="207.9" width="1.6" height="1.7" fill="#8aa890"/>
<rect x="665.4" y="167.4" width="3.2" height="1.3" fill="#3a5a40"/>
<rect x="599.8" y="226.5" width="2.4" height="3.0" fill="#6a8a70"/>
<rect x="593.7" y="278.7" width="1.9" height="1.4" fill="#24342a"/>
<rect x="662.6" y="229.4" width="2.5" height="3.3" fill="#24342a"/>
<rect x="634.1" y="169.4" width="1.1" height="2.3" fill="#6a8a70"/>
<rect x="646.5" y="240.3" width="2.8" height="3.3" fill="#5a9a62"/>
<rect x="628.9" y="252.3" width="2.9" height="2.1" fill="#24342a"/>
<rect x="601.6" y="178.0" width="3.3" height="2.7" fill="#a0b8a0"/>
<rect x="649.4" y="186.7" width="1.5" height="1.5" fill="#24342a"/>
<rect x="660.0" y="237.6" width="3.5" height="2.1" fill="#a0b8a0"/>
<rect x="627.4" y="172.8" width="3.0" height="1.1" fill="#8aa890"/>
<rect x="625.0" y="274.6" width="1.0" height="2.2" fill="#5a9a62"/>
<rect x="589.8" y="212.5" width="1.6" height="1.3" fill="#24342a"/>
<rect x="623.0" y="239.1" width="1.8" height="2.2" fill="#8aa890"/>
<rect x="680.9" y="188.2" width="1.8" height="2.5" fill="#24342a"/>
<rect x="664.6" y="263.9" width="3.5" height="1.1" fill="#3a5a40"/>
<rect x="664.7" y="231.5" width="2.7" height="3.4" fill="#24342a"/>
<rect x="610.4" y="236.4" width="1.0" height="2.0" fill="#4a6a50"/>
<rect x="594.9" y="176.2" width="2.2" height="2.3" fill="#4a6a50"/>
<rect x="633.3" y="167.9" width="2.2" height="2.1" fill="#3a5a40"/>
<rect x="656.9" y="170.2" width="3.2" height="3.5" fill="#5a9a62"/>
<rect x="672.7" y="260.3" width="2.7" height="1.7" fill="#2e4a34"/>
<rect x="594.9" y="237.2" width="1.9" height="2.2" fill="#8aa890"/>
<rect x="674.3" y="230.0" width="1.8" height="2.4" fill="#8aa890"/>
<rect x="645.9" y="231.0" width="2.1" height="3.2" fill="#a0b8a0"/>
<rect x="645.5" y="226.2" width="2.6" height="2.2" fill="#6a8a70"/>
<rect x="615.3" y="266.6" width="3.4" height="1.0" fill="#8aa890"/>
<rect x="671.6" y="184.0" width="2.9" height="1.6" fill="#6a8a70"/>
<rect x="606.8" y="246.1" width="1.6" height="2.0" fill="#24342a"/>
<rect x="661.9" y="259.8" width="2.5" height="1.4" fill="#4a6a50"/>
<rect x="622.2" y="204.7" width="1.6" height="2.3" fill="#3a5a40"/>
<rect x="659.7" y="272.2" width="1.4" height="2.4" fill="#8aa890"/>
<rect x="590.0" y="178.9" width="2.3" height="3.0" fill="#8aa890"/>
<rect x="674.1" y="172.4" width="2.0" height="2.4" fill="#24342a"/>
<rect x="675.1" y="227.3" width="1.2" height="1.9" fill="#8aa890"/>
<rect x="661.6" y="223.7" width="2.5" height="1.3" fill="#a0b8a0"/>
<rect x="596.6" y="266.1" width="2.2" height="3.1" fill="#a0b8a0"/>
<rect x="585.1" y="265.1" width="3.0" height="1.6" fill="#6a8a70"/>
<rect x="659.8" y="237.3" width="1.2" height="2.9" fill="#24342a"/>
<rect x="602.5" y="246.7" width="3.4" height="1.3" fill="#5a9a62"/>
<rect x="639.0" y="196.4" width="2.7" height="3.1" fill="#6a8a70"/>
<rect x="643.7" y="208.0" width="2.5" height="1.5" fill="#a0b8a0"/>
<rect x="649.9" y="178.9" width="1.6" height="2.7" fill="#6a8a70"/>
<rect x="594.3" y="197.5" width="2.9" height="1.8" fill="#3a5a40"/>
<rect x="627.1" y="175.6" width="3.0" height="2.4" fill="#5a9a62"/>
<rect x="592.0" y="252.0" width="3.2" height="1.4" fill="#4a6a50"/>
<rect x="596.9" y="217.2" width="3.3" height="2.0" fill="#8aa890"/>
<rect x="627.6" y="168.6" width="3.2" height="2.0" fill="#24342a"/>
<rect x="627.0" y="204.7" width="1.5" height="2.5" fill="#3a5a40"/>
<rect x="597.2" y="209.0" width="2.3" height="2.7" fill="#6a8a70"/>
<rect x="596.3" y="215.3" width="2.0" height="1.7" fill="#3a5a40"/>
<rect x="646.5" y="219.7" width="1.7" height="3.2" fill="#5a9a62"/>
<rect x="596.3" y="172.3" width="2.6" height="1.2" fill="#3a5a40"/>
<rect x="609.5" y="176.9" width="3.2" height="1.6" fill="#a0b8a0"/>
<rect x="585.6" y="266.7" width="2.3" height="1.5" fill="#24342a"/>
<rect x="646.1" y="250.7" width="1.9" height="1.3" fill="#5a9a62"/>
<rect x="634.1" y="198.2" width="2.7" height="1.8" fill="#3a5a40"/>
<rect x="667.7" y="254.3" width="3.1" height="1.7" fill="#3a5a40"/>
<rect x="601.5" y="194.1" width="2.5" height="2.6" fill="#8aa890"/>
<rect x="587.4" y="261.2" width="2.0" height="3.5" fill="#3a5a40"/>
<rect x="605.5" y="250.7" width="1.9" height="3.1" fill="#3a5a40"/>
<rect x="651.0" y="242.9" width="3.5" height="2.8" fill="#4a6a50"/>
<rect x="606.4" y="207.6" width="1.2" height="3.4" fill="#5a9a62"/>
<rect x="650.9" y="217.0" width="1.9" height="2.7" fill="#5a9a62"/>
<rect x="591.6" y="225.0" width="1.9" height="1.3" fill="#3a5a40"/>
<rect x="647.9" y="229.8" width="2.9" height="3.3" fill="#a0b8a0"/>
<rect x="633.9" y="278.3" width="1.6" height="2.6" fill="#24342a"/>
<rect x="632.6" y="216.4" width="1.6" height="1.8" fill="#3a5a40"/>
<rect x="590.1" y="183.4" width="2.4" height="1.5" fill="#24342a"/>
<rect x="605.7" y="222.7" width="1.7" height="1.2" fill="#6a8a70"/>
<rect x="636.1" y="169.9" width="2.1" height="2.3" fill="#4a6a50"/>
<rect x="593.9" y="182.6" width="1.4" height="1.5" fill="#6a8a70"/>
<rect x="616.2" y="214.5" width="1.9" height="1.4" fill="#4a6a50"/>
<rect x="588.3" y="249.6" width="1.1" height="2.2" fill="#6a8a70"/>
<rect x="610.7" y="218.1" width="1.9" height="3.5" fill="#a0b8a0"/>
<rect x="652.9" y="204.9" width="3.0" height="2.1" fill="#a0b8a0"/>
<rect x="622.5" y="229.2" width="2.5" height="2.6" fill="#2e4a34"/>
<rect x="611.3" y="192.2" width="1.8" height="1.9" fill="#4a6a50"/>
<rect x="644.2" y="201.7" width="2.4" height="2.0" fill="#8aa890"/>
<rect x="660.0" y="246.8" width="2.1" height="3.2" fill="#6a8a70"/>
<rect x="606.1" y="188.9" width="2.2" height="2.4" fill="#24342a"/>
<rect x="619.0" y="245.0" width="2.4" height="2.2" fill="#5a9a62"/>
<rect x="640.7" y="250.6" width="1.2" height="3.2" fill="#5a9a62"/>
<rect x="632.5" y="214.8" width="2.6" height="2.6" fill="#2e4a34"/>
<rect x="658.9" y="190.3" width="2.2" height="1.1" fill="#3a5a40"/>
<rect x="612.8" y="243.6" width="2.9" height="2.7" fill="#a0b8a0"/>
<rect x="654.9" y="241.8" width="2.6" height="2.1" fill="#2e4a34"/>
<rect x="602.7" y="269.2" width="1.7" height="2.2" fill="#6a8a70"/>
<rect x="613.5" y="271.1" width="2.0" height="1.1" fill="#2e4a34"/>
<rect x="654.9" y="178.5" width="2.4" height="1.4" fill="#a0b8a0"/>
<rect x="656.9" y="212.6" width="3.4" height="1.8" fill="#3a5a40"/>
<rect x="656.0" y="245.2" width="3.3" height="1.7" fill="#24342a"/>
<rect x="677.2" y="166.5" width="1.6" height="3.4" fill="#24342a"/>
<rect x="661.9" y="195.0" width="1.6" height="2.9" fill="#24342a"/>
<rect x="615.0" y="166.5" width="1.1" height="3.1" fill="#6a8a70"/>
<rect x="646.7" y="204.4" width="1.3" height="1.9" fill="#a0b8a0"/>
<rect x="673.7" y="222.8" width="2.1" height="1.2" fill="#24342a"/>
<rect x="654.3" y="204.2" width="2.3" height="2.9" fill="#6a8a70"/>
<rect x="616.5" y="180.4" width="2.4" height="2.2" fill="#6a8a70"/>
<rect x="673.4" y="267.7" width="2.5" height="1.2" fill="#8aa890"/>
<rect x="597.6" y="243.1" width="1.5" height="2.3" fill="#3a5a40"/>
<rect x="648.9" y="187.1" width="1.9" height="2.2" fill="#2e4a34"/>
<rect x="603.0" y="245.7" width="2.1" height="3.5" fill="#8aa890"/>
<rect x="632.0" y="224.1" width="1.2" height="1.9" fill="#a0b8a0"/>
<rect x="633.9" y="182.0" width="3.4" height="2.6" fill="#5a9a62"/>
<rect x="659.0" y="219.3" width="1.3" height="1.5" fill="#3a5a40"/>
<rect x="677.1" y="204.5" width="1.8" height="2.0" fill="#3a5a40"/>
<rect x="636.7" y="273.7" width="3.2" height="1.5" fill="#4a6a50"/>
<rect x="677.1" y="190.7" width="2.7" height="2.2" fill="#4a6a50"/>
<rect x="603.3" y="229.6" width="1.8" height="1.4" fill="#24342a"/>
<rect x="595.0" y="227.6" width="1.9" height="1.2" fill="#6a8a70"/>
<rect x="661.0" y="219.2" width="3.3" height="2.0" fill="#24342a"/>
<rect x="587.4" y="221.1" width="1.8" height="2.4" fill="#4a6a50"/>
<rect x="641.1" y="186.7" width="1.5" height="1.9" fill="#4a6a50"/>
<rect x="651.6" y="249.2" width="3.4" height="1.2" fill="#a0b8a0"/>
<rect x="627.5" y="232.6" width="1.0" height="3.3" fill="#6a8a70"/>
<rect x="673.9" y="196.4" width="1.7" height="1.1" fill="#8aa890"/>
<rect x="605.0" y="264.0" width="1.7" height="2.2" fill="#2e4a34"/>
<rect x="649.2" y="231.3" width="1.4" height="3.2" fill="#a0b8a0"/>
<rect x="671.0" y="215.0" width="2.2" height="1.9" fill="#8aa890"/>
<rect x="632.7" y="231.4" width="2.3" height="3.5" fill="#8aa890"/>
<rect x="659.0" y="185.2" width="2.0" height="1.3" fill="#5a9a62"/>
<rect x="668.2" y="213.6" width="3.0" height="1.3" fill="#6a8a70"/>
<rect x="674.8" y="207.1" width="1.2" height="1.3" fill="#4a6a50"/>
<rect x="633.6" y="278.4" width="3.2" height="2.3" fill="#2e4a34"/>
<rect x="607.4" y="191.5" width="1.3" height="1.2" fill="#8aa890"/>
<rect x="673.4" y="221.1" width="2.0" height="1.1" fill="#2e4a34"/>
<rect x="654.3" y="188.7" width="2.9" height="1.8" fill="#3a5a40"/>
<rect x="617.7" y="260.3" width="2.9" height="1.4" fill="#24342a"/>
<rect x="604.9" y="177.3" width="3.4" height="1.3" fill="#24342a"/>
<rect x="634.2" y="229.1" width="2.6" height="2.9" fill="#8aa890"/>
<rect x="632.1" y="251.7" width="2.6" height="2.5" fill="#8aa890"/>
<rect x="625.7" y="214.7" width="1.3" height="2.1" fill="#24342a"/>
<rect x="610.0" y="199.4" width="2.3" height="1.4" fill="#4a6a50"/>
<rect x="595.9" y="222.1" width="2.1" height="1.8" fill="#a0b8a0"/>
<rect x="607.8" y="166.8" width="2.5" height="1.9" fill="#8aa890"/>
<rect x="629.0" y="202.3" width="3.3" height="1.7" fill="#8aa890"/>
<rect x="648.4" y="216.7" width="3.3" height="1.6" fill="#3a5a40"/>
<rect x="602.9" y="258.5" width="2.1" height="1.3" fill="#24342a"/>
<rect x="680.3" y="246.9" width="1.3" height="2.5" fill="#3a5a40"/>
<rect x="625.2" y="189.5" width="3.3" height="3.4" fill="#3a5a40"/>
<rect x="670.0" y="272.1" width="2.7" height="2.2" fill="#a0b8a0"/>
<rect x="625.7" y="193.6" width="1.2" height="2.5" fill="#4a6a50"/>
<rect x="605.8" y="267.6" width="2.5" height="2.1" fill="#4a6a50"/>
<rect x="602.4" y="247.1" width="2.1" height="3.0" fill="#24342a"/>
<rect x="591.2" y="264.6" width="3.4" height="2.8" fill="#8aa890"/>
<rect x="645.3" y="238.4" width="1.3" height="2.0" fill="#24342a"/>
<rect x="615.6" y="188.6" width="3.1" height="2.1" fill="#6a8a70"/>
<rect x="678.8" y="195.9" width="2.3" height="1.4" fill="#6a8a70"/>
<rect x="613.1" y="245.1" width="2.1" height="2.8" fill="#2e4a34"/>
<rect x="603.2" y="180.2" width="3.3" height="1.4" fill="#2e4a34"/>
<rect x="662.9" y="200.2" width="2.8" height="1.4" fill="#3a5a40"/>
<rect x="619.5" y="170.6" width="3.5" height="1.4" fill="#6a8a70"/>
<rect x="617.2" y="188.5" width="1.4" height="3.3" fill="#6a8a70"/>
<rect x="671.7" y="280.5" width="3.1" height="1.3" fill="#3a5a40"/>
<rect x="598.2" y="238.7" width="2.3" height="2.5" fill="#6a8a70"/>
<rect x="627.0" y="172.9" width="1.0" height="2.8" fill="#6a8a70"/>
<rect x="613.7" y="222.8" width="1.2" height="1.3" fill="#2e4a34"/>
<rect x="659.4" y="242.2" width="3.5" height="3.1" fill="#8aa890"/>
<rect x="647.3" y="177.9" width="2.7" height="3.2" fill="#8aa890"/>
<rect x="668.9" y="174.0" width="1.1" height="2.4" fill="#5a9a62"/>
<rect x="637.5" y="257.6" width="1.5" height="2.2" fill="#3a5a40"/>
<rect x="609.8" y="261.2" width="1.1" height="3.5" fill="#4a6a50"/>
<rect x="660.1" y="228.1" width="2.0" height="2.9" fill="#4a6a50"/>
<rect x="666.1" y="233.8" width="2.9" height="3.4" fill="#24342a"/>
<rect x="593.4" y="278.6" width="1.7" height="1.7" fill="#8aa890"/>
<rect x="640.6" y="240.3" width="1.2" height="2.0" fill="#24342a"/>
<rect x="600.6" y="237.6" width="3.3" height="1.6" fill="#6a8a70"/>
<rect x="595.7" y="184.8" width="1.4" height="3.2" fill="#2e4a34"/>
<rect x="598.1" y="274.1" width="1.9" height="2.3" fill="#5a9a62"/>
<rect x="589.0" y="260.4" width="3.2" height="2.2" fill="#8aa890"/>
<rect x="587.4" y="171.8" width="2.6" height="3.1" fill="#a0b8a0"/>
<rect x="667.3" y="244.4" width="1.3" height="1.7" fill="#4a6a50"/>
<rect x="670.4" y="240.0" width="2.3" height="1.4" fill="#6a8a70"/>
<rect x="600.8" y="211.6" width="1.8" height="1.3" fill="#a0b8a0"/>
<rect x="616.2" y="192.8" width="1.8" height="1.3" fill="#24342a"/>
<rect x="616.3" y="273.1" width="3.0" height="1.2" fill="#4a6a50"/>
<rect x="659.9" y="230.6" width="2.9" height="2.3" fill="#4a6a50"/>
<rect x="599.5" y="202.6" width="2.4" height="2.5" fill="#5a9a62"/>
<rect x="602.5" y="273.5" width="1.0" height="1.2" fill="#5a9a62"/>
<rect x="615.1" y="181.6" width="3.0" height="3.2" fill="#6a8a70"/>
<rect x="617.7" y="182.7" width="2.7" height="1.9" fill="#3a5a40"/>
<rect x="617.6" y="201.6" width="2.2" height="3.0" fill="#4a6a50"/>
<rect x="618.6" y="243.9" width="2.9" height="3.2" fill="#5a9a62"/>
<rect x="637.8" y="233.0" width="2.7" height="1.9" fill="#3a5a40"/>
<rect x="662.1" y="199.7" width="1.7" height="3.2" fill="#4a6a50"/>
<rect x="626.0" y="169.6" width="2.7" height="2.6" fill="#6a8a70"/>
<rect x="624.2" y="228.9" width="2.4" height="2.3" fill="#4a6a50"/>
<rect x="650.7" y="275.0" width="1.3" height="1.6" fill="#3a5a40"/>
<rect x="651.1" y="271.1" width="2.6" height="3.0" fill="#8aa890"/>
<rect x="657.7" y="271.0" width="1.6" height="2.8" fill="#5a9a62"/>
<rect x="599.9" y="225.2" width="2.3" height="2.9" fill="#5a9a62"/>
<rect x="585.4" y="260.4" width="3.4" height="3.0" fill="#2e4a34"/>
<rect x="654.7" y="221.1" width="2.7" height="1.8" fill="#8aa890"/>
<rect x="650.8" y="216.3" width="1.9" height="3.2" fill="#24342a"/>
<rect x="669.9" y="247.8" width="3.4" height="1.0" fill="#3a5a40"/>
<rect x="585.9" y="219.8" width="2.4" height="2.4" fill="#5a9a62"/>
<rect x="647.3" y="170.1" width="1.9" height="3.5" fill="#4a6a50"/>
<rect x="623.4" y="191.9" width="2.2" height="1.2" fill="#3a5a40"/>
<rect x="636.4" y="262.1" width="2.6" height="2.1" fill="#3a5a40"/>
<rect x="636.5" y="220.8" width="2.5" height="2.3" fill="#2e4a34"/>
<rect x="596.7" y="205.0" width="3.1" height="1.2" fill="#a0b8a0"/>
<rect x="648.7" y="188.7" width="2.4" height="3.3" fill="#2e4a34"/>
<rect x="587.3" y="196.6" width="1.6" height="1.6" fill="#8aa890"/>
<rect x="674.2" y="255.6" width="1.0" height="2.0" fill="#5a9a62"/>
<rect x="655.2" y="244.4" width="2.5" height="1.7" fill="#a0b8a0"/>
<rect x="612.4" y="169.6" width="2.2" height="2.2" fill="#3a5a40"/>
<g fill="#2a2e2c">
<rect x="617" y="194" width="6" height="7"/><rect x="607" y="222" width="10" height="10"/><rect x="620" y="220" width="12" height="9" fill="#4a3e3a"/>
<rect x="644.6" y="250.7" width="15" height="12" fill="#3a3848"/><rect x="649" y="224.6" width="9.5" height="6.2"/>
<rect x="590" y="180" width="6" height="4"/><rect x="600" y="200" width="4" height="6"/><rect x="635" y="245" width="6" height="5"/>
<rect x="668" y="240" width="6" height="10"/><rect x="595" y="240" width="8" height="4"/><rect x="612" y="175" width="8" height="5"/>
<rect x="560" y="160" width="6" height="8"/><rect x="590" y="155" width="8" height="6"/><rect x="605" y="155" width="10" height="4"/>
</g>
<g fill="#d8dcd8" opacity="0.7"><rect x="588" y="190" width="10" height="6"/><rect x="625" y="200" width="8" height="5"/><rect x="600" y="265" width="10" height="5"/><rect x="665" y="255" width="12" height="8"/></g>
<rect x="500" y="150" width="45" height="40" fill="#4cb05a" opacity="0.5"/>
<rect x="442.6" y="206.8" width="65.4" height="44.7" fill="#2a7a36" opacity="0.5" stroke="#1e4a24" stroke-width="1.5"/>
<circle cx="452" cy="190" r="8" fill="none" stroke="#b8dcb8" stroke-width="1.6" opacity="0.8"/>
<path d="M432,198 q15,6 35,-2" fill="none" stroke="#b8dcb8" stroke-width="1.6" opacity="0.8"/>
<g fill="#d8e4d8" opacity="0.7"><rect x="490" y="197" width="3" height="12"/><rect x="496" y="197" width="3" height="12"/><rect x="502" y="197" width="3" height="12"/><rect x="508" y="197" width="3" height="12"/><rect x="514" y="197" width="3" height="12"/></g>
<rect x="590" y="285" width="90" height="50" fill="#5a9062" opacity="0.35"/>

<g fill="#d0dcd0" opacity="0.9">
<rect x="436" y="258" width="62" height="3"/>
<rect x="436" y="266" width="64" height="3"/>
<rect x="436" y="274" width="46" height="3"/>
<rect x="447" y="333" width="50" height="3"/>
</g>
<g fill="#e8e8e8" opacity="0.85">
<rect x="455" y="283" width="16" height="8" rx="2"/>
<rect x="455" y="300" width="16" height="8" rx="2"/>
</g>
<g fill="#2a2a2a"><rect x="456" y="285.5" width="14" height="3"/><rect x="456" y="302.5" width="14" height="3"/></g>
<g fill="#d8e0d8" opacity="0.7"><rect x="515" y="178" width="45" height="3"/><rect x="508" y="225.6" width="22" height="3.4"/></g>
<g fill="#2a2a2a"><rect x="482" y="157" width="6.5" height="6"/><rect x="482" y="169.5" width="6.5" height="6"/><rect x="482" y="183" width="6.5" height="6"/></g>
<g fill="#e0d8d0" opacity="0.75"><rect x="476" y="157" width="5" height="6"/><rect x="476" y="169.5" width="5" height="6"/><rect x="476" y="183" width="5" height="6"/><rect x="490" y="157" width="14" height="6"/><rect x="490" y="169.5" width="14" height="6"/><rect x="490" y="183" width="14" height="6"/></g>
<rect x="435" y="210" width="4" height="25" fill="#333"/>
</g>
<circle cx="523.5" cy="161.5" r="11" fill="#5fc26a"/>
<circle cx="523.5" cy="161.5" r="3.5" fill="#dceadc"/>
<rect x="535.8" y="195" width="43.6" height="45.8" fill="#1f1f24"/>
<rect x="631.9" y="146.5" width="25.7" height="43" fill="#141414"/>
<rect x="636" y="152" width="5" height="33" fill="#2c2c2c"/>
<rect x="633" y="184" width="24" height="8" fill="#5a4a30" opacity="0.6"/>
<circle cx="648.7" cy="208.4" r="12.5" fill="#3b7bbd"/>
<circle cx="645" cy="204" r="5" fill="#5a9ad2" opacity="0.8"/>
<rect x="664.3" y="194" width="14.5" height="40" fill="#d8c4a8" stroke="#5a5040" stroke-width="1.2"/>
<rect x="667" y="197" width="9" height="34" fill="#c8b498"/>
<g fill="#1e1e1e">
<rect x="513" y="256.8" width="18" height="15.2"/>
<rect x="538" y="256.8" width="18" height="15.2"/>
<rect x="575" y="256.8" width="17" height="15.2"/>
<rect x="601" y="256.8" width="17" height="15.2"/>
</g>
<rect x="510.6" y="281.9" width="176" height="25.2" fill="#3a3a3a"/>
<rect x="513" y="284.5" width="171" height="20" fill="#1c1c1c"/>
<g fill="#6a4a3a">
<rect x="518.0" y="289" width="1.8" height="1.8"/><rect x="518.0" y="297" width="1.8" height="1.8"/>
<rect x="524.6" y="289" width="1.8" height="1.8"/><rect x="524.6" y="297" width="1.8" height="1.8"/>
<rect x="531.2" y="289" width="1.8" height="1.8"/><rect x="531.2" y="297" width="1.8" height="1.8"/>
<rect x="537.8" y="289" width="1.8" height="1.8"/><rect x="537.8" y="297" width="1.8" height="1.8"/>
<rect x="544.4" y="289" width="1.8" height="1.8"/><rect x="544.4" y="297" width="1.8" height="1.8"/>
<rect x="551.0" y="289" width="1.8" height="1.8"/><rect x="551.0" y="297" width="1.8" height="1.8"/>
<rect x="557.6" y="289" width="1.8" height="1.8"/><rect x="557.6" y="297" width="1.8" height="1.8"/>
<rect x="564.2" y="289" width="1.8" height="1.8"/><rect x="564.2" y="297" width="1.8" height="1.8"/>
<rect x="570.8" y="289" width="1.8" height="1.8"/><rect x="570.8" y="297" width="1.8" height="1.8"/>
<rect x="577.4" y="289" width="1.8" height="1.8"/><rect x="577.4" y="297" width="1.8" height="1.8"/>
<rect x="584.0" y="289" width="1.8" height="1.8"/><rect x="584.0" y="297" width="1.8" height="1.8"/>
<rect x="590.6" y="289" width="1.8" height="1.8"/><rect x="590.6" y="297" width="1.8" height="1.8"/>
<rect x="597.2" y="289" width="1.8" height="1.8"/><rect x="597.2" y="297" width="1.8" height="1.8"/>
<rect x="603.8" y="289" width="1.8" height="1.8"/><rect x="603.8" y="297" width="1.8" height="1.8"/>
<rect x="610.4" y="289" width="1.8" height="1.8"/><rect x="610.4" y="297" width="1.8" height="1.8"/>
<rect x="617.0" y="289" width="1.8" height="1.8"/><rect x="617.0" y="297" width="1.8" height="1.8"/>
<rect x="623.6" y="289" width="1.8" height="1.8"/><rect x="623.6" y="297" width="1.8" height="1.8"/>
<rect x="630.2" y="289" width="1.8" height="1.8"/><rect x="630.2" y="297" width="1.8" height="1.8"/>
<rect x="636.8" y="289" width="1.8" height="1.8"/><rect x="636.8" y="297" width="1.8" height="1.8"/>
<rect x="643.4" y="289" width="1.8" height="1.8"/><rect x="643.4" y="297" width="1.8" height="1.8"/>
<rect x="650.0" y="289" width="1.8" height="1.8"/><rect x="650.0" y="297" width="1.8" height="1.8"/>
<rect x="656.6" y="289" width="1.8" height="1.8"/><rect x="656.6" y="297" width="1.8" height="1.8"/>
<rect x="663.2" y="289" width="1.8" height="1.8"/><rect x="663.2" y="297" width="1.8" height="1.8"/>
<rect x="669.8" y="289" width="1.8" height="1.8"/><rect x="669.8" y="297" width="1.8" height="1.8"/>
<rect x="676.4" y="289" width="1.8" height="1.8"/><rect x="676.4" y="297" width="1.8" height="1.8"/>
</g>
<rect x="520.3" y="319.6" width="33.6" height="28" fill="#2e2a24"/>
<g fill="#a8764e"><rect x="523" y="325" width="5" height="8"/><rect x="531" y="325" width="5" height="8"/><rect x="539" y="325" width="5" height="8"/><rect x="547" y="325" width="5" height="8"/></g>
<g fill="#b8a490"><rect x="524" y="337" width="3" height="8"/><rect x="532" y="337" width="3" height="8"/><rect x="540" y="337" width="3" height="8"/><rect x="548" y="337" width="3" height="8"/></g>
<g>
<circle cx="435" cy="160.5" r="6.5" fill="#3a6a44" opacity="0.6"/>
<circle cx="667.5" cy="160.5" r="6.5" fill="#3a6a44" opacity="0.6"/>
<circle cx="437" cy="338" r="6.5" fill="#3a6a44" opacity="0.6"/>
<circle cx="672" cy="338" r="6.5" fill="#3a6a44" opacity="0.6"/>
<circle cx="436" cy="160.6" r="7.2" fill="#b8c8b8" opacity="0.7"/>
<circle cx="668" cy="160.6" r="7.2" fill="#b8c8b8" opacity="0.7"/>
<circle cx="435.5" cy="337.5" r="7.2" fill="#b8c8b8" opacity="0.6"/>
<circle cx="671.5" cy="337.5" r="7.2" fill="#b8c8b8" opacity="0.6"/>
<circle cx="436" cy="160.6" r="5.2" fill="url(#screw)"/>
<circle cx="668" cy="160.6" r="5.2" fill="url(#screw)"/>
<circle cx="435.5" cy="337.5" r="5.3" fill="url(#screw)"/>
<circle cx="671.5" cy="337.5" r="5.3" fill="url(#screw)"/>
</g>
<circle cx="627" cy="336" r="6.5" fill="#b8988a"/>
<circle cx="627" cy="336" r="3" fill="#8a6a5a"/>
</g>

<!-- power cable -->
<g>
<rect x="614.7" y="354" width="11.1" height="3.5" fill="#eee" stroke="#444" stroke-width="0.8"/>
<rect x="612.9" y="357.5" width="15.1" height="16.7" rx="1.2" fill="#333"/>
<path d="M620.3,374 V423.5 H680" fill="none" stroke="#222" stroke-width="3.8"/>
<rect x="679" y="414" width="21.6" height="18.9" rx="1" fill="#333"/>
<rect x="700" y="416.1" width="14.6" height="4.2" fill="#444"/>
<rect x="700" y="426.6" width="14.6" height="4.2" fill="#444"/>
</g>

<!-- reference board label -->

<!-- ref board -->
<g>
<rect x="805.8" y="98.8" width="107.5" height="124" fill="#3a6a3e"/>
<g filter="url(#soft)">
<rect x="871.9" y="160.9" width="3.4" height="1.8" fill="#4a7a4a"/>
<rect x="856.7" y="120.3" width="3.1" height="3.0" fill="#6a9a68"/>
<rect x="869.3" y="138.9" width="1.9" height="2.5" fill="#7aa878"/>
<rect x="868.8" y="112.7" width="1.9" height="1.9" fill="#8ab088"/>
<rect x="880.5" y="198.7" width="3.2" height="1.8" fill="#24442a"/>
<rect x="868.2" y="198.6" width="1.4" height="3.4" fill="#4a7a4a"/>
<rect x="838.9" y="125.5" width="2.2" height="3.5" fill="#7aa878"/>
<rect x="911.6" y="164.3" width="1.3" height="1.9" fill="#6a9a68"/>
<rect x="905.7" y="131.4" width="1.6" height="1.1" fill="#7aa878"/>
<rect x="864.0" y="186.2" width="2.6" height="1.2" fill="#2e5432"/>
<rect x="891.2" y="101.2" width="3.2" height="1.6" fill="#2e5432"/>
<rect x="807.7" y="105.0" width="1.1" height="1.7" fill="#4a7a4a"/>
<rect x="874.8" y="110.5" width="1.6" height="2.8" fill="#6a9a68"/>
<rect x="842.9" y="116.4" width="1.2" height="2.7" fill="#4a7a4a"/>
<rect x="894.3" y="153.4" width="2.9" height="3.0" fill="#24442a"/>
<rect x="861.2" y="132.2" width="3.4" height="3.3" fill="#7aa878"/>
<rect x="855.9" y="193.4" width="1.9" height="3.0" fill="#6a9a68"/>
<rect x="895.1" y="123.2" width="2.0" height="2.4" fill="#8ab088"/>
<rect x="894.8" y="106.0" width="3.4" height="2.4" fill="#8ab088"/>
<rect x="825.2" y="149.2" width="3.3" height="2.1" fill="#7aa878"/>
<rect x="877.8" y="200.0" width="1.7" height="1.5" fill="#7aa878"/>
<rect x="891.3" y="204.4" width="1.3" height="1.6" fill="#1e3a22"/>
<rect x="885.6" y="172.7" width="1.4" height="1.0" fill="#6a9a68"/>
<rect x="833.7" y="128.7" width="1.8" height="1.2" fill="#4a7a4a"/>
<rect x="813.8" y="184.1" width="3.5" height="1.5" fill="#4a7a4a"/>
<rect x="867.6" y="112.9" width="1.6" height="1.2" fill="#2e5432"/>
<rect x="823.1" y="148.0" width="1.8" height="2.2" fill="#1e3a22"/>
<rect x="853.3" y="164.3" width="1.4" height="2.0" fill="#1e3a22"/>
<rect x="901.9" y="111.8" width="2.6" height="2.1" fill="#1e3a22"/>
<rect x="895.9" y="109.2" width="1.6" height="3.0" fill="#1e3a22"/>
<rect x="855.2" y="182.5" width="2.9" height="2.2" fill="#7aa878"/>
<rect x="902.5" y="134.0" width="3.2" height="2.2" fill="#4a7a4a"/>
<rect x="863.8" y="138.6" width="3.2" height="3.5" fill="#24442a"/>
<rect x="830.7" y="152.9" width="2.5" height="3.0" fill="#8ab088"/>
<rect x="903.2" y="152.3" width="3.5" height="2.0" fill="#1e3a22"/>
<rect x="829.7" y="201.3" width="3.0" height="1.4" fill="#6a9a68"/>
<rect x="856.4" y="190.0" width="1.2" height="1.8" fill="#1e3a22"/>
<rect x="854.5" y="147.7" width="3.4" height="3.2" fill="#7aa878"/>
<rect x="808.9" y="163.1" width="1.1" height="2.1" fill="#1e3a22"/>
<rect x="842.4" y="138.4" width="1.3" height="2.9" fill="#24442a"/>
<rect x="863.0" y="130.9" width="1.9" height="2.5" fill="#8ab088"/>
<rect x="905.2" y="188.8" width="3.3" height="3.4" fill="#8ab088"/>
<rect x="837.3" y="173.9" width="2.3" height="1.1" fill="#8ab088"/>
<rect x="905.6" y="218.7" width="3.4" height="1.1" fill="#8ab088"/>
<rect x="910.0" y="211.0" width="2.1" height="2.1" fill="#1e3a22"/>
<rect x="820.7" y="103.3" width="2.8" height="2.8" fill="#8ab088"/>
<rect x="854.3" y="168.2" width="3.1" height="2.8" fill="#8ab088"/>
<rect x="808.1" y="140.4" width="3.3" height="2.3" fill="#6a9a68"/>
<rect x="813.7" y="152.5" width="1.0" height="2.9" fill="#8ab088"/>
<rect x="817.8" y="187.5" width="1.0" height="2.0" fill="#8ab088"/>
<rect x="897.8" y="132.0" width="3.1" height="1.2" fill="#2e5432"/>
<rect x="893.7" y="161.4" width="1.2" height="3.1" fill="#24442a"/>
<rect x="878.1" y="173.4" width="2.0" height="1.6" fill="#1e3a22"/>
<rect x="885.8" y="196.8" width="3.5" height="2.0" fill="#7aa878"/>
<rect x="872.9" y="176.2" width="1.4" height="2.3" fill="#4a7a4a"/>
<rect x="829.9" y="138.3" width="1.2" height="2.9" fill="#6a9a68"/>
<rect x="842.3" y="179.4" width="2.0" height="3.2" fill="#7aa878"/>
<rect x="878.7" y="162.3" width="3.5" height="2.2" fill="#8ab088"/>
<rect x="827.7" y="153.3" width="1.5" height="3.5" fill="#24442a"/>
<rect x="883.6" y="168.3" width="1.8" height="3.1" fill="#2e5432"/>
<rect x="815.5" y="111.9" width="3.3" height="2.0" fill="#7aa878"/>
<rect x="881.8" y="188.9" width="1.3" height="1.1" fill="#7aa878"/>
<rect x="819.3" y="207.8" width="1.1" height="1.1" fill="#7aa878"/>
<rect x="847.6" y="131.7" width="1.6" height="2.4" fill="#24442a"/>
<rect x="853.7" y="221.0" width="2.6" height="1.8" fill="#2e5432"/>
<rect x="812.2" y="135.8" width="1.7" height="2.3" fill="#7aa878"/>
<rect x="901.4" y="180.2" width="1.6" height="1.8" fill="#7aa878"/>
<rect x="844.3" y="99.1" width="2.5" height="3.0" fill="#7aa878"/>
<rect x="817.6" y="126.3" width="3.0" height="1.3" fill="#1e3a22"/>
<rect x="822.8" y="118.4" width="2.6" height="3.1" fill="#7aa878"/>
<rect x="827.6" y="99.3" width="1.6" height="2.0" fill="#6a9a68"/>
<rect x="820.1" y="130.8" width="2.7" height="3.1" fill="#6a9a68"/>
<rect x="894.1" y="189.8" width="1.8" height="1.0" fill="#2e5432"/>
<rect x="814.4" y="156.3" width="2.7" height="2.6" fill="#1e3a22"/>
<rect x="900.0" y="113.8" width="1.5" height="3.0" fill="#7aa878"/>
<rect x="806.5" y="121.2" width="2.1" height="3.5" fill="#7aa878"/>
<rect x="870.7" y="144.9" width="2.7" height="2.6" fill="#4a7a4a"/>
<rect x="865.9" y="202.6" width="2.6" height="1.5" fill="#6a9a68"/>
<rect x="824.2" y="140.9" width="1.2" height="2.9" fill="#24442a"/>
<rect x="903.6" y="216.9" width="2.4" height="3.4" fill="#6a9a68"/>
<rect x="865.5" y="181.4" width="3.3" height="1.7" fill="#24442a"/>
<rect x="850.8" y="163.7" width="1.6" height="2.0" fill="#24442a"/>
<rect x="873.6" y="176.9" width="1.3" height="1.7" fill="#7aa878"/>
<rect x="909.2" y="158.9" width="2.9" height="2.7" fill="#24442a"/>
<rect x="847.2" y="156.5" width="1.5" height="1.5" fill="#1e3a22"/>
<rect x="815.1" y="125.6" width="3.2" height="2.6" fill="#7aa878"/>
<rect x="875.9" y="169.6" width="3.3" height="1.0" fill="#7aa878"/>
<rect x="844.5" y="213.8" width="2.9" height="1.3" fill="#2e5432"/>
<rect x="905.1" y="147.3" width="2.3" height="1.9" fill="#2e5432"/>
<rect x="878.5" y="118.6" width="2.4" height="3.5" fill="#1e3a22"/>
<rect x="872.8" y="215.3" width="2.3" height="2.8" fill="#6a9a68"/>
<rect x="865.2" y="152.8" width="2.9" height="1.5" fill="#24442a"/>
<rect x="883.2" y="107.8" width="2.1" height="2.2" fill="#8ab088"/>
<rect x="882.1" y="219.0" width="2.1" height="2.8" fill="#2e5432"/>
<rect x="875.6" y="159.6" width="3.0" height="1.7" fill="#4a7a4a"/>
<rect x="808.7" y="156.4" width="2.1" height="1.9" fill="#7aa878"/>
<rect x="856.9" y="108.2" width="3.1" height="1.7" fill="#24442a"/>
<rect x="856.1" y="132.4" width="2.1" height="3.4" fill="#6a9a68"/>
<rect x="807.9" y="167.6" width="2.0" height="1.3" fill="#6a9a68"/>
<rect x="839.6" y="189.7" width="1.7" height="1.9" fill="#2e5432"/>
<rect x="821.6" y="215.8" width="2.5" height="3.1" fill="#6a9a68"/>
<rect x="819.8" y="167.9" width="1.6" height="1.8" fill="#7aa878"/>
<rect x="873.1" y="170.7" width="2.4" height="3.4" fill="#8ab088"/>
<rect x="881.9" y="116.3" width="1.6" height="2.7" fill="#7aa878"/>
<rect x="838.2" y="149.3" width="2.4" height="3.3" fill="#2e5432"/>
<rect x="844.8" y="132.3" width="1.7" height="3.3" fill="#24442a"/>
<rect x="857.3" y="219.0" width="1.6" height="1.7" fill="#4a7a4a"/>
<rect x="895.7" y="219.7" width="3.4" height="2.2" fill="#7aa878"/>
<rect x="888.5" y="113.2" width="3.0" height="2.8" fill="#4a7a4a"/>
<rect x="855.6" y="206.8" width="1.9" height="3.0" fill="#2e5432"/>
<rect x="901.9" y="114.3" width="1.9" height="3.1" fill="#8ab088"/>
<rect x="866.6" y="203.3" width="1.4" height="3.2" fill="#24442a"/>
<rect x="806.6" y="147.6" width="1.6" height="1.7" fill="#1e3a22"/>
<rect x="858.8" y="172.9" width="3.3" height="2.8" fill="#8ab088"/>
<rect x="896.2" y="129.6" width="1.3" height="1.7" fill="#1e3a22"/>
<rect x="820.5" y="161.7" width="1.4" height="1.6" fill="#7aa878"/>
<rect x="807.0" y="124.7" width="3.4" height="1.3" fill="#8ab088"/>
<rect x="893.2" y="213.8" width="2.3" height="1.8" fill="#6a9a68"/>
<rect x="846.2" y="154.3" width="3.5" height="1.2" fill="#6a9a68"/>
<rect x="817.8" y="128.8" width="2.9" height="3.2" fill="#24442a"/>
<rect x="816.9" y="154.6" width="3.2" height="2.1" fill="#7aa878"/>
<rect x="822.1" y="216.0" width="1.9" height="1.5" fill="#2e5432"/>
<rect x="816.1" y="190.2" width="1.0" height="2.5" fill="#2e5432"/>
<rect x="882.6" y="111.8" width="3.5" height="1.4" fill="#24442a"/>
<rect x="814.1" y="146.7" width="1.1" height="1.2" fill="#7aa878"/>
<rect x="809.6" y="161.5" width="1.9" height="2.8" fill="#7aa878"/>
<rect x="884.2" y="200.9" width="2.3" height="2.2" fill="#4a7a4a"/>
<rect x="818.5" y="111.9" width="3.1" height="2.7" fill="#4a7a4a"/>
<rect x="864.6" y="104.7" width="1.6" height="2.5" fill="#6a9a68"/>
<rect x="888.2" y="192.5" width="3.2" height="1.3" fill="#2e5432"/>
<rect x="856.7" y="125.2" width="3.4" height="1.6" fill="#1e3a22"/>
<rect x="872.0" y="203.2" width="1.3" height="2.5" fill="#4a7a4a"/>
<rect x="824.2" y="169.5" width="3.4" height="1.2" fill="#24442a"/>
<rect x="888.3" y="209.0" width="3.2" height="1.3" fill="#7aa878"/>
<rect x="824.8" y="122.6" width="3.5" height="3.1" fill="#2e5432"/>
<rect x="817.9" y="126.1" width="2.9" height="2.3" fill="#1e3a22"/>
<rect x="836.6" y="187.7" width="1.1" height="2.9" fill="#2e5432"/>
<rect x="906.8" y="169.9" width="2.4" height="1.9" fill="#24442a"/>
<rect x="812.1" y="181.7" width="1.2" height="2.1" fill="#2e5432"/>
<rect x="872.8" y="120.8" width="2.4" height="3.5" fill="#7aa878"/>
<rect x="807.3" y="117.3" width="3.1" height="2.5" fill="#8ab088"/>
<rect x="868.7" y="199.3" width="2.3" height="1.8" fill="#2e5432"/>
<rect x="817.9" y="115.1" width="3.3" height="1.2" fill="#4a7a4a"/>
<rect x="886.1" y="160.2" width="2.3" height="1.6" fill="#6a9a68"/>
<rect x="837.7" y="182.3" width="1.8" height="1.3" fill="#6a9a68"/>
<rect x="872.6" y="102.0" width="1.6" height="1.2" fill="#8ab088"/>
<rect x="870.0" y="131.2" width="3.2" height="1.7" fill="#6a9a68"/>
<rect x="889.1" y="182.1" width="1.4" height="1.9" fill="#7aa878"/>
<rect x="859.7" y="204.3" width="3.0" height="1.3" fill="#6a9a68"/>
<rect x="902.5" y="166.4" width="2.6" height="2.4" fill="#2e5432"/>
<rect x="835.5" y="155.5" width="2.2" height="2.3" fill="#2e5432"/>
<rect x="906.8" y="109.6" width="2.0" height="1.8" fill="#4a7a4a"/>
<rect x="903.1" y="191.9" width="2.3" height="2.2" fill="#4a7a4a"/>
<rect x="846.0" y="111.4" width="2.0" height="1.9" fill="#7aa878"/>
<rect x="853.3" y="201.7" width="2.3" height="1.1" fill="#7aa878"/>
<rect x="877.7" y="109.9" width="1.4" height="1.9" fill="#8ab088"/>
<rect x="903.6" y="203.9" width="1.4" height="2.8" fill="#1e3a22"/>
<rect x="833.8" y="214.8" width="3.4" height="3.4" fill="#2e5432"/>
<rect x="897.0" y="185.4" width="1.9" height="1.4" fill="#4a7a4a"/>
<rect x="895.4" y="192.7" width="1.3" height="3.3" fill="#2e5432"/>
<rect x="865.8" y="121.3" width="3.2" height="1.3" fill="#6a9a68"/>
<rect x="879.7" y="207.2" width="3.3" height="3.2" fill="#8ab088"/>
<rect x="886.2" y="108.1" width="2.6" height="3.3" fill="#8ab088"/>
<rect x="843.6" y="219.6" width="2.5" height="1.9" fill="#6a9a68"/>
<rect x="908.6" y="165.1" width="2.8" height="1.4" fill="#24442a"/>
<rect x="875.4" y="185.7" width="2.2" height="1.8" fill="#2e5432"/>
<rect x="838.1" y="164.1" width="2.4" height="3.3" fill="#24442a"/>
<rect x="875.5" y="107.1" width="1.4" height="2.2" fill="#6a9a68"/>
<rect x="897.7" y="177.2" width="2.2" height="1.1" fill="#4a7a4a"/>
<rect x="898.0" y="193.6" width="1.2" height="2.2" fill="#4a7a4a"/>
<rect x="850.3" y="195.6" width="3.5" height="3.4" fill="#24442a"/>
<rect x="878.8" y="114.8" width="2.3" height="1.5" fill="#6a9a68"/>
<rect x="892.1" y="201.5" width="1.7" height="1.3" fill="#2e5432"/>
<rect x="863.9" y="101.7" width="2.2" height="2.0" fill="#6a9a68"/>
<rect x="859.5" y="107.8" width="2.0" height="1.6" fill="#6a9a68"/>
<rect x="835.9" y="196.3" width="1.4" height="3.1" fill="#1e3a22"/>
<rect x="875.0" y="134.5" width="1.4" height="3.5" fill="#8ab088"/>
<rect x="893.9" y="129.8" width="2.4" height="2.9" fill="#2e5432"/>
<rect x="886.2" y="168.5" width="1.9" height="2.4" fill="#6a9a68"/>
<rect x="898.2" y="107.5" width="2.2" height="2.4" fill="#6a9a68"/>
<rect x="812.5" y="181.3" width="1.2" height="1.4" fill="#8ab088"/>
<rect x="842.0" y="212.7" width="1.6" height="2.7" fill="#1e3a22"/>
<rect x="859.3" y="111.8" width="3.4" height="1.7" fill="#6a9a68"/>
<rect x="818.9" y="155.4" width="1.7" height="2.4" fill="#24442a"/>
<rect x="903.9" y="105.4" width="1.9" height="1.7" fill="#8ab088"/>
<rect x="877.2" y="183.8" width="2.5" height="1.6" fill="#24442a"/>
<rect x="869.9" y="163.2" width="2.0" height="2.1" fill="#8ab088"/>
<rect x="828.2" y="194.7" width="1.9" height="2.4" fill="#7aa878"/>
<rect x="813.8" y="108.2" width="2.6" height="2.6" fill="#1e3a22"/>
<rect x="908.3" y="122.8" width="1.9" height="2.2" fill="#1e3a22"/>
<rect x="860.2" y="162.4" width="1.5" height="1.8" fill="#24442a"/>
<rect x="892.0" y="194.3" width="2.9" height="3.4" fill="#6a9a68"/>
<rect x="891.9" y="197.1" width="2.8" height="2.4" fill="#1e3a22"/>
<rect x="896.2" y="107.4" width="3.0" height="2.4" fill="#2e5432"/>
<rect x="836.2" y="219.3" width="3.1" height="3.0" fill="#4a7a4a"/>
<rect x="883.1" y="169.5" width="1.1" height="2.2" fill="#24442a"/>
<rect x="895.9" y="164.0" width="1.9" height="2.0" fill="#1e3a22"/>
<rect x="891.0" y="166.3" width="3.2" height="2.4" fill="#1e3a22"/>
<rect x="820.8" y="116.8" width="2.3" height="2.2" fill="#7aa878"/>
<rect x="810.6" y="148.8" width="1.2" height="2.0" fill="#24442a"/>
<rect x="907.5" y="165.7" width="3.1" height="2.8" fill="#8ab088"/>
<rect x="885.6" y="152.1" width="1.7" height="2.1" fill="#2e5432"/>
<rect x="895.8" y="106.4" width="1.8" height="3.0" fill="#7aa878"/>
<rect x="863.9" y="142.1" width="1.5" height="1.3" fill="#1e3a22"/>
<rect x="893.0" y="121.2" width="1.9" height="1.9" fill="#6a9a68"/>
<rect x="861.6" y="113.7" width="3.3" height="1.5" fill="#1e3a22"/>
<rect x="840.6" y="126.2" width="2.2" height="2.6" fill="#7aa878"/>
<rect x="874.3" y="151.0" width="2.4" height="2.8" fill="#4a7a4a"/>
<rect x="842.8" y="173.7" width="1.7" height="2.2" fill="#1e3a22"/>
<rect x="893.6" y="196.9" width="2.9" height="1.6" fill="#8ab088"/>
<rect x="878.0" y="169.9" width="1.5" height="1.4" fill="#6a9a68"/>
<rect x="858.2" y="205.4" width="1.2" height="1.2" fill="#8ab088"/>
<rect x="815.6" y="143.4" width="2.6" height="2.1" fill="#6a9a68"/>
<rect x="848.2" y="106.7" width="1.3" height="1.2" fill="#6a9a68"/>
<rect x="910.3" y="101.5" width="1.8" height="3.5" fill="#8ab088"/>
<rect x="859.8" y="215.0" width="1.3" height="2.7" fill="#8ab088"/>
<rect x="851.4" y="204.0" width="2.1" height="1.4" fill="#24442a"/>
<rect x="869.8" y="173.9" width="3.4" height="3.2" fill="#2e5432"/>
<rect x="876.5" y="159.0" width="1.3" height="2.5" fill="#24442a"/>
<rect x="866.7" y="204.9" width="1.3" height="3.2" fill="#6a9a68"/>
<rect x="810.3" y="108.0" width="3.1" height="2.6" fill="#8ab088"/>
<rect x="840.0" y="108.7" width="2.6" height="2.4" fill="#2e5432"/>
<rect x="873.6" y="144.6" width="3.3" height="2.9" fill="#7aa878"/>
<rect x="830.4" y="175.7" width="1.8" height="3.0" fill="#4a7a4a"/>
<rect x="862.8" y="142.2" width="2.3" height="3.5" fill="#7aa878"/>
<rect x="847.0" y="166.2" width="2.2" height="3.4" fill="#2e5432"/>
<rect x="846.3" y="185.3" width="2.7" height="2.4" fill="#6a9a68"/>
<rect x="887.8" y="178.4" width="1.1" height="3.3" fill="#8ab088"/>
<rect x="864.0" y="123.3" width="1.9" height="2.5" fill="#4a7a4a"/>
<rect x="910.5" y="160.1" width="1.3" height="3.1" fill="#2e5432"/>
<rect x="875.2" y="174.1" width="1.1" height="1.4" fill="#7aa878"/>
<rect x="807.4" y="215.6" width="2.7" height="2.3" fill="#2e5432"/>
<rect x="828.2" y="213.1" width="3.2" height="3.5" fill="#4a7a4a"/>
<rect x="813.9" y="169.9" width="1.5" height="2.0" fill="#24442a"/>
<rect x="847.3" y="157.7" width="1.1" height="2.1" fill="#4a7a4a"/>
<rect x="836.8" y="181.4" width="2.8" height="3.4" fill="#2e5432"/>
<rect x="867.6" y="166.6" width="1.9" height="2.3" fill="#24442a"/>
<rect x="908.1" y="213.7" width="1.7" height="3.3" fill="#6a9a68"/>
<rect x="856.8" y="175.5" width="2.3" height="1.0" fill="#7aa878"/>
<rect x="889.4" y="178.9" width="2.1" height="2.0" fill="#7aa878"/>
<rect x="908.1" y="128.5" width="2.6" height="1.5" fill="#7aa878"/>
<rect x="815.3" y="205.6" width="1.2" height="3.1" fill="#24442a"/>
<rect x="886.6" y="212.0" width="1.2" height="1.9" fill="#8ab088"/>
<rect x="905.1" y="160.7" width="2.5" height="2.4" fill="#7aa878"/>
<rect x="825.3" y="186.2" width="2.0" height="1.5" fill="#8ab088"/>
<rect x="885.4" y="164.5" width="2.7" height="3.3" fill="#6a9a68"/>
<rect x="861.4" y="190.6" width="1.9" height="2.5" fill="#1e3a22"/>
<rect x="883.8" y="197.9" width="3.2" height="1.5" fill="#2e5432"/>
<rect x="827.9" y="173.4" width="1.4" height="2.2" fill="#1e3a22"/>
<rect x="893.4" y="159.7" width="1.6" height="2.0" fill="#4a7a4a"/>
<rect x="856.7" y="185.5" width="2.0" height="1.6" fill="#6a9a68"/>
<rect x="886.1" y="124.9" width="3.1" height="2.9" fill="#6a9a68"/>
<rect x="906.9" y="124.1" width="1.7" height="2.4" fill="#4a7a4a"/>
<rect x="903.9" y="110.0" width="1.2" height="1.9" fill="#24442a"/>
<rect x="860.1" y="120.3" width="1.1" height="1.7" fill="#6a9a68"/>
<rect x="865.0" y="199.6" width="1.5" height="3.5" fill="#4a7a4a"/>
<rect x="874.5" y="109.8" width="1.3" height="2.3" fill="#7aa878"/>
<rect x="899.5" y="121.0" width="2.1" height="2.4" fill="#8ab088"/>
<rect x="825.4" y="185.2" width="2.5" height="1.5" fill="#8ab088"/>
<rect x="810.0" y="218.1" width="1.4" height="2.3" fill="#8ab088"/>
<rect x="883.3" y="192.0" width="3.2" height="2.4" fill="#6a9a68"/>
<rect x="833.9" y="108.1" width="1.2" height="3.0" fill="#1e3a22"/>
<rect x="893.5" y="118.7" width="2.7" height="1.4" fill="#6a9a68"/>
<rect x="872.1" y="209.6" width="2.8" height="2.8" fill="#7aa878"/>
<rect x="827.3" y="103.2" width="1.1" height="3.4" fill="#8ab088"/>
<rect x="833.9" y="184.4" width="1.1" height="1.5" fill="#24442a"/>
<rect x="855.5" y="141.5" width="1.9" height="1.2" fill="#1e3a22"/>
<rect x="860.0" y="107.8" width="1.3" height="3.0" fill="#2e5432"/>
<rect x="864.6" y="162.6" width="3.3" height="3.2" fill="#24442a"/>
<rect x="882.0" y="140.0" width="1.5" height="1.3" fill="#4a7a4a"/>
<rect x="866.3" y="199.2" width="1.8" height="2.9" fill="#4a7a4a"/>
<rect x="843.0" y="219.5" width="1.9" height="1.7" fill="#1e3a22"/>
<rect x="905.1" y="130.8" width="3.4" height="2.5" fill="#24442a"/>
<rect x="807.7" y="175.5" width="1.8" height="2.9" fill="#7aa878"/>
<rect x="806.7" y="162.2" width="1.7" height="1.2" fill="#7aa878"/>
<rect x="859.1" y="130.9" width="2.9" height="1.2" fill="#7aa878"/>
<rect x="822.8" y="155.8" width="2.7" height="2.2" fill="#7aa878"/>
<rect x="883.3" y="131.5" width="1.9" height="3.2" fill="#7aa878"/>
<rect x="882.0" y="200.0" width="2.9" height="3.4" fill="#1e3a22"/>
<rect x="876.2" y="134.2" width="2.3" height="2.2" fill="#7aa878"/>
<rect x="891.5" y="207.6" width="2.6" height="1.2" fill="#6a9a68"/>
<rect x="848.0" y="101.6" width="1.7" height="1.3" fill="#8ab088"/>
<rect x="889.3" y="183.0" width="3.1" height="1.6" fill="#2e5432"/>
<rect x="902.4" y="215.0" width="2.0" height="3.4" fill="#6a9a68"/>
<rect x="876.1" y="147.5" width="2.4" height="2.8" fill="#2e5432"/>
<rect x="905.7" y="159.3" width="2.3" height="2.3" fill="#24442a"/>
<rect x="877.5" y="160.8" width="3.1" height="2.7" fill="#7aa878"/>
<rect x="902.8" y="135.0" width="1.5" height="2.3" fill="#2e5432"/>
<rect x="814.2" y="130.1" width="1.5" height="2.2" fill="#8ab088"/>
<rect x="869.0" y="149.3" width="1.4" height="1.7" fill="#24442a"/>
<rect x="845.2" y="153.3" width="1.6" height="3.3" fill="#7aa878"/>
<rect x="815.2" y="188.1" width="1.9" height="1.0" fill="#2e5432"/>
<rect x="832.4" y="214.8" width="1.3" height="3.1" fill="#1e3a22"/>
<rect x="880.0" y="200.1" width="3.0" height="2.9" fill="#4a7a4a"/>
<rect x="814.9" y="129.0" width="2.8" height="1.1" fill="#8ab088"/>
<rect x="840.2" y="189.8" width="1.8" height="1.3" fill="#7aa878"/>
<rect x="902.7" y="108.8" width="1.4" height="1.2" fill="#7aa878"/>
<rect x="820.2" y="207.3" width="1.1" height="2.1" fill="#24442a"/>
<rect x="895.9" y="190.1" width="1.9" height="2.9" fill="#7aa878"/>
<rect x="846.1" y="217.5" width="3.5" height="2.5" fill="#6a9a68"/>
<rect x="875.1" y="201.8" width="1.7" height="3.5" fill="#1e3a22"/>
<rect x="818.5" y="182.2" width="3.2" height="2.9" fill="#1e3a22"/>
<rect x="895.3" y="133.8" width="2.5" height="3.4" fill="#6a9a68"/>
<rect x="876.0" y="106.6" width="3.0" height="2.9" fill="#2e5432"/>
<rect x="905.4" y="138.7" width="3.2" height="2.4" fill="#24442a"/>
<rect x="899.2" y="133.3" width="2.3" height="2.5" fill="#6a9a68"/>
<rect x="862.0" y="102.4" width="3.2" height="2.6" fill="#24442a"/>
<rect x="901.6" y="204.5" width="1.3" height="1.9" fill="#6a9a68"/>
<rect x="812.9" y="129.5" width="3.5" height="1.8" fill="#7aa878"/>
<rect x="893.0" y="167.6" width="3.5" height="2.5" fill="#8ab088"/>
<rect x="840.9" y="110.1" width="1.4" height="1.3" fill="#4a7a4a"/>
<rect x="898.8" y="171.0" width="2.7" height="3.2" fill="#7aa878"/>
<rect x="873.7" y="135.2" width="3.0" height="3.1" fill="#8ab088"/>
<rect x="818.7" y="143.4" width="2.0" height="2.2" fill="#24442a"/>
<rect x="810.9" y="110.4" width="3.3" height="2.9" fill="#1e3a22"/>
<rect x="836.7" y="157.7" width="3.0" height="2.9" fill="#2e5432"/>
<rect x="897.3" y="176.2" width="2.2" height="1.5" fill="#1e3a22"/>
<rect x="840.9" y="175.0" width="3.0" height="1.4" fill="#7aa878"/>
<rect x="884.3" y="166.0" width="1.5" height="2.5" fill="#6a9a68"/>
<rect x="828.5" y="99.6" width="1.7" height="2.3" fill="#7aa878"/>
<rect x="821.7" y="162.9" width="2.7" height="3.0" fill="#1e3a22"/>
<rect x="854.1" y="160.9" width="2.5" height="2.4" fill="#1e3a22"/>
<rect x="806.9" y="104.3" width="2.1" height="1.0" fill="#2e5432"/>
<rect x="839.1" y="142.3" width="1.3" height="1.6" fill="#2e5432"/>
<rect x="831.4" y="136.9" width="3.4" height="2.2" fill="#7aa878"/>
<rect x="822.6" y="174.9" width="2.7" height="3.3" fill="#8ab088"/>
<rect x="890.4" y="137.7" width="1.9" height="3.2" fill="#24442a"/>
<rect x="852.0" y="143.0" width="2.2" height="2.5" fill="#8ab088"/>
<rect x="901.5" y="191.6" width="2.8" height="3.2" fill="#24442a"/>
<rect x="811.8" y="137.8" width="3.2" height="1.4" fill="#24442a"/>
<rect x="880.4" y="179.1" width="2.7" height="2.2" fill="#24442a"/>
<rect x="840.6" y="101.9" width="1.6" height="2.7" fill="#8ab088"/>
<rect x="885.6" y="208.0" width="1.5" height="2.8" fill="#24442a"/>
<rect x="906.8" y="179.1" width="2.7" height="1.4" fill="#7aa878"/>
<rect x="897.3" y="176.8" width="1.6" height="1.2" fill="#1e3a22"/>
<rect x="814.2" y="217.0" width="1.4" height="2.5" fill="#1e3a22"/>
<rect x="822.4" y="129.1" width="3.0" height="3.5" fill="#4a7a4a"/>
<rect x="814.6" y="121.9" width="1.1" height="2.4" fill="#24442a"/>
<rect x="815.3" y="117.4" width="1.1" height="3.5" fill="#4a7a4a"/>
<rect x="846.3" y="197.8" width="1.4" height="1.4" fill="#4a7a4a"/>
<rect x="835.8" y="208.3" width="3.1" height="1.0" fill="#1e3a22"/>
<rect x="882.6" y="161.2" width="1.1" height="1.2" fill="#8ab088"/>
<rect x="877.4" y="197.0" width="3.4" height="1.9" fill="#1e3a22"/>
<rect x="881.6" y="103.8" width="2.8" height="1.4" fill="#2e5432"/>
<rect x="862.1" y="212.7" width="2.8" height="1.4" fill="#4a7a4a"/>
<rect x="873.5" y="184.4" width="1.5" height="1.1" fill="#4a7a4a"/>
<rect x="865.7" y="205.4" width="1.4" height="3.0" fill="#24442a"/>
<rect x="873.8" y="161.2" width="2.6" height="3.3" fill="#8ab088"/>
<rect x="825.5" y="158.8" width="3.5" height="3.4" fill="#24442a"/>
<rect x="829.3" y="137.1" width="1.8" height="2.0" fill="#1e3a22"/>
<rect x="829.7" y="161.3" width="1.5" height="2.7" fill="#4a7a4a"/>
<rect x="887.8" y="145.9" width="2.3" height="2.9" fill="#24442a"/>
<rect x="857.6" y="110.2" width="3.3" height="2.8" fill="#8ab088"/>
<rect x="848.8" y="207.2" width="1.3" height="2.4" fill="#1e3a22"/>
<rect x="867.5" y="171.6" width="1.4" height="2.4" fill="#8ab088"/>
<rect x="867.8" y="122.1" width="3.5" height="2.5" fill="#4a7a4a"/>
<rect x="887.1" y="171.5" width="1.7" height="2.9" fill="#2e5432"/>
<rect x="847.5" y="216.9" width="3.5" height="1.8" fill="#6a9a68"/>
<rect x="871.0" y="164.7" width="2.9" height="1.0" fill="#4a7a4a"/>
<rect x="814.7" y="198.1" width="1.7" height="2.8" fill="#7aa878"/>
<rect x="872.4" y="190.2" width="2.5" height="3.3" fill="#7aa878"/>
<rect x="821.3" y="125.9" width="1.9" height="1.5" fill="#2e5432"/>
<rect x="909.3" y="121.1" width="1.4" height="1.9" fill="#2e5432"/>
<rect x="806.0" y="149.8" width="2.1" height="2.6" fill="#4a7a4a"/>
<rect x="825.7" y="218.7" width="1.3" height="3.3" fill="#7aa878"/>
<rect x="809.2" y="112.4" width="2.3" height="2.3" fill="#1e3a22"/>
<rect x="867.1" y="186.7" width="1.5" height="1.1" fill="#8ab088"/>
<rect x="824.7" y="108.2" width="3.5" height="1.1" fill="#7aa878"/>
<rect x="847.1" y="128.6" width="2.4" height="1.1" fill="#7aa878"/>
<rect x="880.3" y="171.8" width="1.9" height="3.4" fill="#6a9a68"/>
<rect x="863.6" y="105.8" width="2.8" height="1.7" fill="#2e5432"/>
<rect x="910.4" y="147.7" width="1.2" height="2.1" fill="#7aa878"/>
<rect x="847.5" y="100.4" width="2.4" height="1.7" fill="#4a7a4a"/>
<rect x="870.3" y="101.0" width="2.8" height="1.5" fill="#24442a"/>
<rect x="902.3" y="113.5" width="3.4" height="1.8" fill="#4a7a4a"/>
<rect x="906.7" y="217.6" width="1.2" height="1.9" fill="#4a7a4a"/>
<rect x="894.7" y="103.2" width="3.4" height="2.1" fill="#8ab088"/>
<rect x="839.3" y="100.2" width="2.6" height="1.8" fill="#4a7a4a"/>
<rect x="878.0" y="120.8" width="2.3" height="2.5" fill="#7aa878"/>
<rect x="825.6" y="139.9" width="1.9" height="1.5" fill="#8ab088"/>
<rect x="849.6" y="156.0" width="2.7" height="2.1" fill="#4a7a4a"/>
<rect x="888.4" y="211.6" width="1.6" height="2.4" fill="#2e5432"/>
<rect x="865.2" y="207.5" width="1.9" height="3.2" fill="#1e3a22"/>
<rect x="806.5" y="207.9" width="3.2" height="2.2" fill="#24442a"/>
<rect x="872.2" y="140.7" width="3.1" height="1.1" fill="#2e5432"/>
<rect x="896.8" y="163.7" width="2.8" height="1.4" fill="#2e5432"/>
<rect x="860.5" y="167.0" width="3.4" height="3.4" fill="#24442a"/>
<rect x="840.7" y="190.4" width="3.4" height="3.0" fill="#2e5432"/>
<rect x="863.3" y="114.9" width="2.6" height="2.7" fill="#2e5432"/>
<rect x="902.7" y="213.2" width="2.7" height="1.2" fill="#1e3a22"/>
<rect x="812.3" y="173.0" width="1.3" height="2.1" fill="#24442a"/>
<rect x="839.9" y="196.2" width="2.5" height="1.6" fill="#7aa878"/>
<rect x="856.7" y="150.2" width="2.8" height="2.5" fill="#4a7a4a"/>
<rect x="857.0" y="122.5" width="2.7" height="2.0" fill="#6a9a68"/>
<rect x="829.9" y="138.3" width="2.7" height="1.5" fill="#6a9a68"/>
<rect x="818.3" y="126.2" width="2.2" height="3.1" fill="#4a7a4a"/>
<rect x="872.4" y="172.4" width="2.7" height="1.3" fill="#1e3a22"/>
<rect x="817.0" y="190.7" width="2.0" height="2.2" fill="#7aa878"/>
<rect x="903.6" y="152.0" width="2.5" height="2.5" fill="#6a9a68"/>
<rect x="820.5" y="131.1" width="2.2" height="3.5" fill="#8ab088"/>
<rect x="840.6" y="218.6" width="1.8" height="2.5" fill="#4a7a4a"/>
<rect x="816.8" y="180.5" width="1.8" height="3.1" fill="#8ab088"/>
<rect x="811.2" y="157.4" width="3.4" height="3.0" fill="#24442a"/>
<rect x="850.3" y="202.3" width="1.5" height="2.1" fill="#7aa878"/>
<rect x="813.0" y="212.3" width="1.3" height="1.7" fill="#8ab088"/>
<rect x="821.8" y="154.1" width="3.0" height="1.1" fill="#1e3a22"/>
<rect x="872.2" y="171.9" width="1.6" height="1.5" fill="#7aa878"/>
<rect x="811.2" y="213.7" width="3.1" height="1.5" fill="#4a7a4a"/>
<rect x="820.8" y="190.0" width="1.1" height="2.2" fill="#2e5432"/>
<rect x="832.7" y="123.0" width="1.1" height="1.2" fill="#7aa878"/>
<rect x="902.6" y="140.6" width="2.2" height="3.5" fill="#6a9a68"/>
<rect x="901.7" y="213.7" width="3.3" height="1.2" fill="#1e3a22"/>
<rect x="830.8" y="106.4" width="2.8" height="2.3" fill="#6a9a68"/>
<rect x="884.4" y="154.4" width="1.6" height="1.2" fill="#4a7a4a"/>
<rect x="853.8" y="140.8" width="1.0" height="1.3" fill="#6a9a68"/>
<rect x="891.3" y="151.9" width="2.5" height="2.9" fill="#2e5432"/>
<rect x="841.0" y="106.6" width="2.8" height="1.6" fill="#2e5432"/>
<rect x="828.7" y="100.0" width="1.7" height="2.8" fill="#1e3a22"/>
<rect x="854.5" y="106.7" width="1.7" height="1.4" fill="#1e3a22"/>
<rect x="894.8" y="116.0" width="1.8" height="2.9" fill="#24442a"/>
<g fill="#8aaa88" opacity="0.8">
<rect x="807" y="101.0" width="9" height="2.2"/><rect x="903" y="101.0" width="9" height="2.2"/>
<rect x="807" y="106.0" width="9" height="2.2"/><rect x="903" y="106.0" width="9" height="2.2"/>
<rect x="807" y="111.1" width="9" height="2.2"/><rect x="903" y="111.1" width="9" height="2.2"/>
<rect x="807" y="116.2" width="9" height="2.2"/><rect x="903" y="116.2" width="9" height="2.2"/>
<rect x="807" y="121.2" width="9" height="2.2"/><rect x="903" y="121.2" width="9" height="2.2"/>
<rect x="807" y="126.2" width="9" height="2.2"/><rect x="903" y="126.2" width="9" height="2.2"/>
<rect x="807" y="131.3" width="9" height="2.2"/><rect x="903" y="131.3" width="9" height="2.2"/>
<rect x="807" y="136.3" width="9" height="2.2"/><rect x="903" y="136.3" width="9" height="2.2"/>
<rect x="807" y="141.4" width="9" height="2.2"/><rect x="903" y="141.4" width="9" height="2.2"/>
<rect x="807" y="146.4" width="9" height="2.2"/><rect x="903" y="146.4" width="9" height="2.2"/>
<rect x="807" y="151.5" width="9" height="2.2"/><rect x="903" y="151.5" width="9" height="2.2"/>
<rect x="807" y="156.6" width="9" height="2.2"/><rect x="903" y="156.6" width="9" height="2.2"/>
<rect x="807" y="161.6" width="9" height="2.2"/><rect x="903" y="161.6" width="9" height="2.2"/>
<rect x="807" y="166.6" width="9" height="2.2"/><rect x="903" y="166.6" width="9" height="2.2"/>
<rect x="807" y="171.7" width="9" height="2.2"/><rect x="903" y="171.7" width="9" height="2.2"/>
<rect x="807" y="176.8" width="9" height="2.2"/><rect x="903" y="176.8" width="9" height="2.2"/>
<rect x="807" y="181.8" width="9" height="2.2"/><rect x="903" y="181.8" width="9" height="2.2"/>
<rect x="807" y="186.8" width="9" height="2.2"/><rect x="903" y="186.8" width="9" height="2.2"/>
<rect x="807" y="191.9" width="9" height="2.2"/><rect x="903" y="191.9" width="9" height="2.2"/>
<rect x="807" y="196.9" width="9" height="2.2"/><rect x="903" y="196.9" width="9" height="2.2"/>
<rect x="807" y="202.0" width="9" height="2.2"/><rect x="903" y="202.0" width="9" height="2.2"/>
<rect x="807" y="207.1" width="9" height="2.2"/><rect x="903" y="207.1" width="9" height="2.2"/>
<rect x="807" y="212.1" width="9" height="2.2"/><rect x="903" y="212.1" width="9" height="2.2"/>
<rect x="807" y="217.1" width="9" height="2.2"/><rect x="903" y="217.1" width="9" height="2.2"/>
</g>
<circle cx="843" cy="127" r="9" fill="none" stroke="#a8c8a8" stroke-width="2" opacity="0.7"/><rect x="822" y="133" width="50" height="6" fill="#8ab08a" opacity="0.6"/>
<rect x="825" y="112" width="8" height="6" fill="#b0a070" opacity="0.8"/><rect x="838" y="112" width="8" height="6" fill="#b0a070" opacity="0.8"/><rect x="851" y="112" width="8" height="6" fill="#b0a070" opacity="0.8"/>
<rect x="820" y="137" width="60" height="3" fill="#a0c0a0" opacity="0.6"/>
<rect x="860" y="195" width="40" height="3" fill="#a0c0a0" opacity="0.6"/>
<rect x="865" y="203" width="35" height="3" fill="#a0c0a0" opacity="0.6"/>
</g>
<path d="M864,101 L869,98 L869,92 Q869,91 871,91 L879,91 Q881,91 881,93 L881,97 L892,101 L895,98 L895,92 Q895,91 897,91 L902,91 Q904,91 904,93 L904,97 L911,99 L912.8,103 V125.6 H864 Z" fill="#262a26" opacity="0.9"/>
<ellipse cx="877" cy="117" rx="9.5" ry="8.5" fill="#1a1a1a" opacity="0.85"/>
<ellipse cx="902" cy="117" rx="9.5" ry="8.5" fill="#1a1a1a" opacity="0.85"/>
<g fill="#8a8a8a" opacity="0.6"><circle cx="871" cy="101" r="2"/><circle cx="897" cy="101" r="2"/><rect x="876" y="99" width="2" height="10"/><rect x="901" y="99" width="2" height="10"/></g>
<rect x="884" y="100" width="6" height="25" fill="#2e4a30" opacity="0.7"/>
<rect x="818.9" y="142.6" width="83" height="33.4" fill="#2a2a2a"/>
<rect x="821" y="145" width="79" height="29" fill="#3c3c3c"/>
<rect x="819.6" y="147.5" width="27.2" height="24.4" fill="#9e9eaa"/>
<rect x="822" y="150" width="22" height="19" fill="#b0b0bc"/>
<rect x="851" y="147" width="9" height="25" fill="#1a1a1a"/>
<rect x="864" y="147" width="11" height="25" fill="#121212"/>
<rect x="879" y="147" width="10" height="25" fill="#1a1a1a"/>
<rect x="892" y="147" width="7" height="25" fill="#5a5a5a"/>
<ellipse cx="877" cy="182" rx="9" ry="4" fill="#4a6aa0" opacity="0.75"/>
<rect x="837" y="188.7" width="16" height="27.2" fill="#151515"/>
<rect x="840.5" y="191" width="2.5" height="22" fill="#3a3a3a"/>
<rect x="847" y="191" width="2.5" height="22" fill="#3a3a3a"/>
</g>

<!-- right arrow -->
<polygon points="726,216.9 736,174.5 744.4,181.2 784.6,139.8 800.2,154.4 760.3,197.9 767.9,204.6" fill="#e2765c"/>



<text x="58.10" y="86.80" font-size="24.57" fill="#dc7866" textLength="181.80" lengthAdjust="spacingAndGlyphs">Speech LSI Utility</text>
<text x="12.60" y="147.60" font-size="27.71" fill="#445c74" textLength="38.80" lengthAdjust="spacingAndGlyphs">PC</text>
<text x="12.10" y="357.90" font-size="28.29" fill="#445c74" textLength="60.30" lengthAdjust="spacingAndGlyphs">Amp</text>
<text x="59.60" y="709.20" font-size="27.00" fill="#516476" textLength="106.80" lengthAdjust="spacingAndGlyphs">Speaker</text>
<text x="271.10" y="324.50" font-size="26.86" fill="#516476" textLength="123.05" lengthAdjust="spacingAndGlyphs">USB cable</text>
<text x="272.10" y="357.60" font-size="26.86" fill="#516476" textLength="113.05" lengthAdjust="spacingAndGlyphs">[included]</text>
<text x="513.10" y="132.30" font-size="27.71" font-weight="bold" fill="#1c5aa6" textLength="98.80" lengthAdjust="spacingAndGlyphs">SDCB3</text>
<text x="527.10" y="464.90" font-size="26.43" fill="#516476" textLength="384.30" lengthAdjust="spacingAndGlyphs">Power supply cable [included]</text>
<text x="791.60" y="50.90" font-size="27.93" fill="#445c74" textLength="132.80" lengthAdjust="spacingAndGlyphs">ML22Q53x</text>
<text x="752.60" y="78.20" font-size="28.29" fill="#445c74" textLength="212.30" lengthAdjust="spacingAndGlyphs">Reference Board</text>
<text x="736.10" y="250.50" font-size="25.86" fill="#c4303c" textLength="240.80" lengthAdjust="spacingAndGlyphs">The Reference Board is</text>
<text x="734.60" y="282.30" font-size="25.57" fill="#c4303c" textLength="240.30" lengthAdjust="spacingAndGlyphs">mounted on the SDCB</text>
<text x="162.60" y="626.70" font-size="26.14" fill="#2a5ca6" textLength="300.30" lengthAdjust="spacingAndGlyphs">Waveform/Phrase editing</text>
<text x="193.60" y="657.30" font-size="26.14" fill="#2a5ca6" textLength="236.80" lengthAdjust="spacingAndGlyphs">Listening evaluation</text>
<text x="770.10" y="626.70" font-size="26.14" fill="#2a5ca6" textLength="209.80" lengthAdjust="spacingAndGlyphs">Device evaluation</text>
<text x="656.10" y="708.90" font-size="26.57" fill="#516476" textLength="422.30" lengthAdjust="spacingAndGlyphs">Dynamic speakers 8Ω and above</text>

</svg>
</body></html>
